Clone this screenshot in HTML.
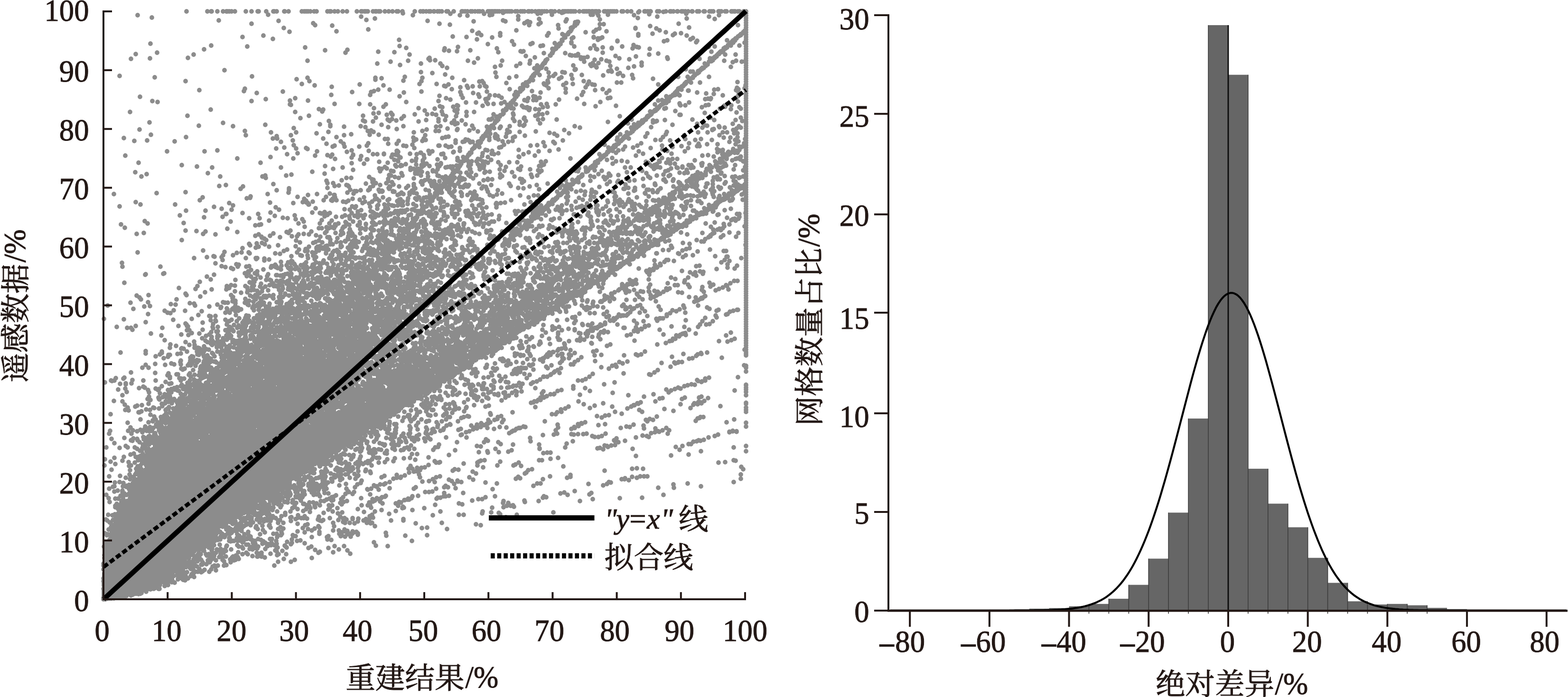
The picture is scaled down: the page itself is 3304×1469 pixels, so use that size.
<!DOCTYPE html>
<html><head><meta charset="utf-8"><title>chart</title>
<style>html,body{margin:0;padding:0;background:#fff}svg{display:block}text{font-family:"Liberation Serif","Noto Serif CJK SC",serif;fill:#231815;stroke:#231815;stroke-width:1px}</style></head>
<body>
<svg width="3304" height="1469" viewBox="0 0 3304 1469">
<rect width="3304" height="1469" fill="#fff"/>
<defs>
<filter id="bl" x="0" y="0" width="1700" height="1300" filterUnits="userSpaceOnUse"><feGaussianBlur stdDeviation="0.7"/></filter>
</defs>
<g filter="url(#bl)"><path d="M1457 368h16v2h-16zM1456 370h18v2h-18zM934 372h26v2h-26zM1455 372h20v2h-20zM933 374h27v2h-27zM1454 374h22v2h-22zM933 376h27v2h-27zM1455 376h20v2h-20zM933 378h26v2h-26zM1456 378h18v2h-18zM933 380h25v2h-25zM1457 380h16v2h-16zM934 382h23v2h-23zM905 384h15v2h-15zM935 384h21v2h-21zM905 386h16v2h-16zM936 386h19v2h-19zM1458 386h14v2h-14zM905 388h26v2h-26zM1190 388h15v2h-15zM1457 388h16v2h-16zM906 390h28v2h-28zM1189 390h17v2h-17zM1457 390h16v2h-16zM1550 390h14v2h-14zM907 392h28v2h-28zM1188 392h18v2h-18zM1457 392h16v2h-16zM1549 392h16v2h-16zM908 394h27v2h-27zM1187 394h19v2h-19zM1458 394h14v2h-14zM1548 394h17v2h-17zM913 396h22v2h-22zM1188 396h18v2h-18zM1549 396h16v2h-16zM914 398h20v2h-20zM1189 398h16v2h-16zM1550 398h14v2h-14zM915 400h19v2h-19zM915 402h18v2h-18zM916 404h17v2h-17zM917 406h15v2h-15zM1408 410h14v2h-14zM1407 412h16v2h-16zM1406 414h17v2h-17zM1394 416h29v2h-29zM1393 418h30v2h-30zM1388 420h34v2h-34zM1387 422h32v2h-32zM1386 424h28v2h-28zM1386 426h27v2h-27zM1386 428h26v2h-26zM1387 430h24v2h-24zM1124 434h21v2h-21zM1373 434h15v2h-15zM1123 436h25v2h-25zM1372 436h17v2h-17zM1122 438h27v2h-27zM1367 438h22v2h-22zM1119 440h30v2h-30zM1361 440h31v2h-31zM1118 442h31v2h-31zM1358 442h35v2h-35zM1118 444h31v2h-31zM1357 444h36v2h-36zM1118 446h30v2h-30zM1357 446h36v2h-36zM1118 448h29v2h-29zM1357 448h35v2h-35zM1118 450h28v2h-28zM1358 450h33v2h-33zM904 452h15v2h-15zM1119 452h25v2h-25zM1340 452h15v2h-15zM1359 452h19v2h-19zM904 454h16v2h-16zM1118 454h21v2h-21zM1339 454h19v2h-19zM1360 454h15v2h-15zM904 456h16v2h-16zM1117 456h21v2h-21zM1338 456h21v2h-21zM905 458h15v2h-15zM1118 458h19v2h-19zM1338 458h21v2h-21zM1119 460h17v2h-17zM1338 460h21v2h-21zM1338 462h21v2h-21zM1339 464h19v2h-19zM1341 466h14v2h-14zM1104 468h15v2h-15zM863 470h15v2h-15zM1104 470h15v2h-15zM862 472h17v2h-17zM1102 472h17v2h-17zM862 474h16v2h-16zM1101 474h19v2h-19zM862 476h15v2h-15zM1101 476h18v2h-18zM1101 478h17v2h-17zM846 480h17v2h-17zM938 480h15v2h-15zM1077 480h19v2h-19zM1102 480h15v2h-15zM1338 480h15v2h-15zM845 482h19v2h-19zM933 482h21v2h-21zM1076 482h23v2h-23zM1337 482h17v2h-17zM1393 482h14v2h-14zM844 484h21v2h-21zM931 484h24v2h-24zM1075 484h25v2h-25zM1196 484h17v2h-17zM1296 484h16v2h-16zM1336 484h18v2h-18zM1392 484h16v2h-16zM843 486h22v2h-22zM930 486h27v2h-27zM1074 486h26v2h-26zM1195 486h22v2h-22zM1294 486h18v2h-18zM1337 486h18v2h-18zM1392 486h21v2h-21zM844 488h21v2h-21zM930 488h28v2h-28zM1075 488h25v2h-25zM1194 488h24v2h-24zM1293 488h19v2h-19zM1337 488h17v2h-17zM1391 488h23v2h-23zM803 490h15v2h-15zM845 490h22v2h-22zM926 490h32v2h-32zM1076 490h23v2h-23zM1194 490h25v2h-25zM1293 490h19v2h-19zM1338 490h15v2h-15zM1392 490h23v2h-23zM798 492h20v2h-20zM845 492h32v2h-32zM913 492h45v2h-45zM1075 492h23v2h-23zM1194 492h25v2h-25zM1293 492h18v2h-18zM1393 492h22v2h-22zM795 494h23v2h-23zM856 494h22v2h-22zM912 494h45v2h-45zM1076 494h21v2h-21zM1195 494h24v2h-24zM1294 494h14v2h-14zM1394 494h21v2h-21zM794 496h24v2h-24zM838 496h15v2h-15zM856 496h23v2h-23zM912 496h28v2h-28zM1077 496h17v2h-17zM1198 496h20v2h-20zM1396 496h18v2h-18zM794 498h23v2h-23zM837 498h17v2h-17zM855 498h27v2h-27zM912 498h26v2h-26zM1397 498h15v2h-15zM793 500h23v2h-23zM834 500h51v2h-51zM913 500h25v2h-25zM794 502h23v2h-23zM833 502h21v2h-21zM855 502h32v2h-32zM915 502h22v2h-22zM1277 502h14v2h-14zM795 504h26v2h-26zM833 504h20v2h-20zM855 504h33v2h-33zM1268 504h24v2h-24zM739 506h15v2h-15zM796 506h26v2h-26zM832 506h18v2h-18zM856 506h32v2h-32zM891 506h15v2h-15zM1062 506h14v2h-14zM1267 506h26v2h-26zM738 508h17v2h-17zM804 508h23v2h-23zM831 508h20v2h-20zM871 508h17v2h-17zM891 508h16v2h-16zM1061 508h16v2h-16zM1266 508h28v2h-28zM1299 508h14v2h-14zM738 510h18v2h-18zM807 510h44v2h-44zM872 510h15v2h-15zM891 510h16v2h-16zM1060 510h17v2h-17zM1265 510h29v2h-29zM1298 510h16v2h-16zM736 512h19v2h-19zM808 512h43v2h-43zM892 512h15v2h-15zM1061 512h16v2h-16zM1266 512h28v2h-28zM1298 512h17v2h-17zM735 514h19v2h-19zM808 514h42v2h-42zM1062 514h14v2h-14zM1267 514h27v2h-27zM1298 514h16v2h-16zM734 516h20v2h-20zM797 516h52v2h-52zM1268 516h25v2h-25zM1299 516h14v2h-14zM734 518h19v2h-19zM796 518h53v2h-53zM1269 518h21v2h-21zM734 520h18v2h-18zM796 520h53v2h-53zM735 522h14v2h-14zM796 522h52v2h-52zM889 522h22v2h-22zM774 524h18v2h-18zM797 524h40v2h-40zM888 524h24v2h-24zM1244 524h15v2h-15zM773 526h63v2h-63zM888 526h24v2h-24zM1243 526h17v2h-17zM772 528h27v2h-27zM801 528h33v2h-33zM887 528h26v2h-26zM1243 528h17v2h-17zM772 530h28v2h-28zM801 530h32v2h-32zM888 530h24v2h-24zM1241 530h20v2h-20zM772 532h60v2h-60zM889 532h22v2h-22zM1238 532h24v2h-24zM772 534h28v2h-28zM801 534h23v2h-23zM890 534h22v2h-22zM1237 534h25v2h-25zM773 536h26v2h-26zM802 536h21v2h-21zM894 536h21v2h-21zM1237 536h25v2h-25zM774 538h24v2h-24zM804 538h20v2h-20zM899 538h17v2h-17zM1208 538h22v2h-22zM1236 538h25v2h-25zM1324 538h15v2h-15zM779 540h16v2h-16zM806 540h20v2h-20zM898 540h18v2h-18zM1205 540h28v2h-28zM1237 540h23v2h-23zM1323 540h17v2h-17zM804 542h23v2h-23zM897 542h19v2h-19zM1204 542h30v2h-30zM1238 542h20v2h-20zM1322 542h19v2h-19zM796 544h31v2h-31zM896 544h19v2h-19zM1204 544h30v2h-30zM1239 544h17v2h-17zM1323 544h17v2h-17zM795 546h32v2h-32zM896 546h18v2h-18zM1204 546h30v2h-30zM1324 546h15v2h-15zM794 548h33v2h-33zM896 548h15v2h-15zM1205 548h28v2h-28zM792 550h34v2h-34zM858 550h14v2h-14zM1206 550h28v2h-28zM1284 550h15v2h-15zM791 552h34v2h-34zM857 552h16v2h-16zM1205 552h39v2h-39zM1284 552h15v2h-15zM790 554h32v2h-32zM857 554h16v2h-16zM1004 554h16v2h-16zM1181 554h15v2h-15zM1204 554h43v2h-43zM1283 554h16v2h-16zM790 556h27v2h-27zM857 556h17v2h-17zM1001 556h20v2h-20zM1180 556h17v2h-17zM1204 556h44v2h-44zM1282 556h16v2h-16zM747 558h15v2h-15zM790 558h28v2h-28zM857 558h16v2h-16zM1000 558h21v2h-21zM1180 558h17v2h-17zM1204 558h44v2h-44zM1281 558h18v2h-18zM747 560h15v2h-15zM791 560h27v2h-27zM856 560h17v2h-17zM1000 560h21v2h-21zM1180 560h68v2h-68zM1281 560h19v2h-19zM637 562h15v2h-15zM747 562h15v2h-15zM794 562h24v2h-24zM855 562h18v2h-18zM1000 562h20v2h-20zM1181 562h66v2h-66zM1282 562h19v2h-19zM637 564h15v2h-15zM689 564h18v2h-18zM799 564h19v2h-19zM856 564h19v2h-19zM879 564h18v2h-18zM1001 564h18v2h-18zM1182 564h27v2h-27zM1211 564h35v2h-35zM1281 564h20v2h-20zM637 566h15v2h-15zM658 566h15v2h-15zM688 566h20v2h-20zM800 566h17v2h-17zM857 566h20v2h-20zM878 566h22v2h-22zM1002 566h16v2h-16zM1184 566h26v2h-26zM1217 566h25v2h-25zM1282 566h19v2h-19zM658 568h15v2h-15zM687 568h21v2h-21zM776 568h22v2h-22zM858 568h43v2h-43zM1185 568h25v2h-25zM1220 568h19v2h-19zM1283 568h17v2h-17zM658 570h15v2h-15zM686 570h22v2h-22zM739 570h21v2h-21zM775 570h23v2h-23zM859 570h42v2h-42zM1185 570h26v2h-26zM1222 570h17v2h-17zM1284 570h14v2h-14zM686 572h21v2h-21zM738 572h33v2h-33zM774 572h24v2h-24zM829 572h16v2h-16zM859 572h42v2h-42zM1186 572h25v2h-25zM1223 572h15v2h-15zM686 574h20v2h-20zM737 574h60v2h-60zM828 574h18v2h-18zM858 574h42v2h-42zM1187 574h24v2h-24zM1264 574h14v2h-14zM687 576h16v2h-16zM736 576h63v2h-63zM827 576h20v2h-20zM857 576h22v2h-22zM880 576h19v2h-19zM1188 576h22v2h-22zM1263 576h18v2h-18zM735 578h67v2h-67zM827 578h20v2h-20zM858 578h34v2h-34zM1086 578h15v2h-15zM1191 578h17v2h-17zM1211 578h14v2h-14zM1262 578h20v2h-20zM735 580h68v2h-68zM804 580h14v2h-14zM827 580h19v2h-19zM857 580h34v2h-34zM1085 580h19v2h-19zM1166 580h17v2h-17zM1210 580h16v2h-16zM1260 580h22v2h-22zM736 582h83v2h-83zM828 582h17v2h-17zM856 582h38v2h-38zM1085 582h20v2h-20zM1163 582h21v2h-21zM1210 582h16v2h-16zM1259 582h23v2h-23zM665 584h18v2h-18zM737 584h82v2h-82zM831 584h14v2h-14zM856 584h39v2h-39zM1085 584h21v2h-21zM1162 584h23v2h-23zM1210 584h16v2h-16zM1258 584h24v2h-24zM664 586h32v2h-32zM738 586h81v2h-81zM855 586h40v2h-40zM1086 586h21v2h-21zM1162 586h22v2h-22zM1211 586h14v2h-14zM1258 586h23v2h-23zM664 588h33v2h-33zM701 588h16v2h-16zM739 588h79v2h-79zM822 588h25v2h-25zM856 588h39v2h-39zM1086 588h20v2h-20zM1162 588h21v2h-21zM1190 588h15v2h-15zM1235 588h19v2h-19zM1258 588h21v2h-21zM664 590h33v2h-33zM700 590h20v2h-20zM741 590h41v2h-41zM785 590h31v2h-31zM821 590h27v2h-27zM856 590h38v2h-38zM1086 590h20v2h-20zM1163 590h19v2h-19zM1189 590h17v2h-17zM1234 590h21v2h-21zM1259 590h18v2h-18zM665 592h56v2h-56zM740 592h42v2h-42zM790 592h24v2h-24zM820 592h28v2h-28zM855 592h18v2h-18zM874 592h19v2h-19zM1085 592h22v2h-22zM1189 592h20v2h-20zM1234 592h22v2h-22zM666 594h55v2h-55zM733 594h49v2h-49zM789 594h25v2h-25zM819 594h30v2h-30zM854 594h20v2h-20zM1084 594h22v2h-22zM1187 594h25v2h-25zM1234 594h22v2h-22zM632 596h14v2h-14zM667 596h54v2h-54zM730 596h54v2h-54zM789 596h29v2h-29zM819 596h29v2h-29zM854 596h23v2h-23zM1047 596h15v2h-15zM1083 596h22v2h-22zM1149 596h17v2h-17zM1185 596h28v2h-28zM1234 596h22v2h-22zM605 598h16v2h-16zM631 598h17v2h-17zM671 598h49v2h-49zM729 598h56v2h-56zM788 598h59v2h-59zM855 598h23v2h-23zM1042 598h21v2h-21zM1082 598h22v2h-22zM1136 598h31v2h-31zM1184 598h29v2h-29zM1235 598h20v2h-20zM604 600h18v2h-18zM630 600h19v2h-19zM674 600h45v2h-45zM729 600h57v2h-57zM789 600h58v2h-58zM848 600h30v2h-30zM1039 600h25v2h-25zM1083 600h19v2h-19zM1134 600h33v2h-33zM1184 600h29v2h-29zM1234 600h19v2h-19zM604 602h18v2h-18zM630 602h20v2h-20zM675 602h36v2h-36zM728 602h19v2h-19zM749 602h86v2h-86zM838 602h40v2h-40zM1038 602h26v2h-26zM1084 602h18v2h-18zM1133 602h34v2h-34zM1184 602h28v2h-28zM1235 602h15v2h-15zM603 604h20v2h-20zM630 604h20v2h-20zM676 604h46v2h-46zM727 604h20v2h-20zM750 604h86v2h-86zM838 604h39v2h-39zM1038 604h26v2h-26zM1085 604h16v2h-16zM1133 604h34v2h-34zM1184 604h27v2h-27zM603 606h19v2h-19zM631 606h19v2h-19zM677 606h46v2h-46zM726 606h93v2h-93zM820 606h56v2h-56zM1037 606h26v2h-26zM1133 606h35v2h-35zM1185 606h25v2h-25zM604 608h18v2h-18zM632 608h17v2h-17zM659 608h25v2h-25zM685 608h39v2h-39zM727 608h74v2h-74zM802 608h16v2h-16zM820 608h55v2h-55zM923 608h15v2h-15zM1037 608h23v2h-23zM1134 608h34v2h-34zM1187 608h18v2h-18zM605 610h16v2h-16zM658 610h47v2h-47zM707 610h18v2h-18zM727 610h73v2h-73zM821 610h51v2h-51zM882 610h15v2h-15zM922 610h17v2h-17zM1038 610h15v2h-15zM1131 610h38v2h-38zM1221 610h16v2h-16zM606 612h14v2h-14zM657 612h47v2h-47zM708 612h18v2h-18zM728 612h71v2h-71zM821 612h38v2h-38zM881 612h17v2h-17zM921 612h18v2h-18zM1099 612h69v2h-69zM1198 612h39v2h-39zM656 614h32v2h-32zM705 614h22v2h-22zM728 614h32v2h-32zM761 614h25v2h-25zM821 614h55v2h-55zM882 614h15v2h-15zM921 614h19v2h-19zM943 614h16v2h-16zM1095 614h72v2h-72zM1195 614h42v2h-42zM655 616h33v2h-33zM704 616h24v2h-24zM729 616h32v2h-32zM762 616h23v2h-23zM822 616h14v2h-14zM837 616h40v2h-40zM921 616h18v2h-18zM942 616h18v2h-18zM1094 616h72v2h-72zM1194 616h42v2h-42zM618 618h15v2h-15zM655 618h32v2h-32zM703 618h26v2h-26zM731 618h53v2h-53zM837 618h15v2h-15zM854 618h23v2h-23zM921 618h17v2h-17zM942 618h18v2h-18zM1093 618h62v2h-62zM1190 618h45v2h-45zM617 620h17v2h-17zM655 620h31v2h-31zM702 620h27v2h-27zM734 620h29v2h-29zM768 620h15v2h-15zM837 620h41v2h-41zM922 620h15v2h-15zM942 620h18v2h-18zM1092 620h63v2h-63zM1181 620h50v2h-50zM617 622h18v2h-18zM655 622h29v2h-29zM703 622h26v2h-26zM733 622h31v2h-31zM838 622h39v2h-39zM943 622h17v2h-17zM1093 622h62v2h-62zM1177 622h53v2h-53zM616 624h20v2h-20zM656 624h25v2h-25zM704 624h63v2h-63zM841 624h36v2h-36zM910 624h20v2h-20zM944 624h15v2h-15zM1093 624h61v2h-61zM1174 624h53v2h-53zM617 626h22v2h-22zM659 626h19v2h-19zM704 626h68v2h-68zM841 626h37v2h-37zM907 626h26v2h-26zM1016 626h15v2h-15zM1094 626h57v2h-57zM1173 626h44v2h-44zM618 628h22v2h-22zM662 628h15v2h-15zM704 628h71v2h-71zM840 628h38v2h-38zM906 628h28v2h-28zM1015 628h17v2h-17zM1097 628h46v2h-46zM1172 628h39v2h-39zM619 630h21v2h-21zM695 630h81v2h-81zM839 630h40v2h-40zM906 630h28v2h-28zM1014 630h18v2h-18zM1044 630h15v2h-15zM1100 630h43v2h-43zM1171 630h37v2h-37zM622 632h18v2h-18zM692 632h55v2h-55zM748 632h38v2h-38zM836 632h42v2h-42zM906 632h28v2h-28zM1015 632h17v2h-17zM1041 632h19v2h-19zM1097 632h46v2h-46zM1170 632h32v2h-32zM622 634h17v2h-17zM691 634h57v2h-57zM749 634h38v2h-38zM835 634h42v2h-42zM907 634h26v2h-26zM1015 634h16v2h-16zM1040 634h21v2h-21zM1094 634h29v2h-29zM1126 634h16v2h-16zM1169 634h31v2h-31zM623 636h15v2h-15zM691 636h29v2h-29zM723 636h65v2h-65zM795 636h15v2h-15zM835 636h41v2h-41zM907 636h26v2h-26zM1014 636h17v2h-17zM1040 636h21v2h-21zM1081 636h43v2h-43zM1168 636h31v2h-31zM691 638h30v2h-30zM723 638h66v2h-66zM795 638h15v2h-15zM835 638h25v2h-25zM908 638h24v2h-24zM999 638h14v2h-14zM1014 638h18v2h-18zM1040 638h21v2h-21zM1080 638h47v2h-47zM1167 638h30v2h-30zM629 640h20v2h-20zM657 640h15v2h-15zM691 640h98v2h-98zM795 640h15v2h-15zM910 640h19v2h-19zM998 640h16v2h-16zM1015 640h18v2h-18zM1041 640h19v2h-19zM1080 640h59v2h-59zM1167 640h25v2h-25zM628 642h22v2h-22zM656 642h17v2h-17zM674 642h16v2h-16zM691 642h98v2h-98zM911 642h18v2h-18zM998 642h16v2h-16zM1016 642h17v2h-17zM1042 642h17v2h-17zM1080 642h73v2h-73zM1168 642h22v2h-22zM627 644h24v2h-24zM656 644h133v2h-133zM913 644h15v2h-15zM998 644h16v2h-16zM1016 644h17v2h-17zM1043 644h17v2h-17zM1079 644h75v2h-75zM1169 644h18v2h-18zM491 646h14v2h-14zM579 646h30v2h-30zM625 646h27v2h-27zM656 646h95v2h-95zM752 646h44v2h-44zM873 646h15v2h-15zM999 646h14v2h-14zM1017 646h15v2h-15zM1036 646h25v2h-25zM1071 646h36v2h-36zM1108 646h60v2h-60zM490 648h16v2h-16zM556 648h15v2h-15zM572 648h38v2h-38zM612 648h39v2h-39zM656 648h16v2h-16zM673 648h126v2h-126zM802 648h23v2h-23zM830 648h14v2h-14zM869 648h20v2h-20zM1033 648h29v2h-29zM1068 648h39v2h-39zM1109 648h60v2h-60zM490 650h17v2h-17zM555 650h55v2h-55zM611 650h40v2h-40zM657 650h15v2h-15zM673 650h67v2h-67zM743 650h83v2h-83zM827 650h18v2h-18zM866 650h22v2h-22zM1032 650h31v2h-31zM1066 650h41v2h-41zM1110 650h59v2h-59zM490 652h17v2h-17zM552 652h98v2h-98zM654 652h19v2h-19zM674 652h66v2h-66zM744 652h32v2h-32zM777 652h75v2h-75zM865 652h23v2h-23zM1031 652h31v2h-31zM1064 652h26v2h-26zM1091 652h15v2h-15zM1115 652h55v2h-55zM491 654h16v2h-16zM551 654h85v2h-85zM651 654h23v2h-23zM675 654h65v2h-65zM743 654h112v2h-112zM865 654h22v2h-22zM972 654h15v2h-15zM1031 654h62v2h-62zM1120 654h17v2h-17zM1139 654h30v2h-30zM492 656h14v2h-14zM550 656h86v2h-86zM650 656h25v2h-25zM678 656h23v2h-23zM702 656h37v2h-37zM740 656h116v2h-116zM865 656h20v2h-20zM892 656h15v2h-15zM971 656h19v2h-19zM1030 656h16v2h-16zM1048 656h46v2h-46zM1110 656h58v2h-58zM547 658h90v2h-90zM649 658h25v2h-25zM681 658h175v2h-175zM866 658h16v2h-16zM892 658h15v2h-15zM971 658h21v2h-21zM1029 658h16v2h-16zM1047 658h47v2h-47zM1107 658h60v2h-60zM543 660h94v2h-94zM648 660h26v2h-26zM681 660h53v2h-53zM736 660h57v2h-57zM794 660h67v2h-67zM892 660h15v2h-15zM970 660h24v2h-24zM1029 660h16v2h-16zM1047 660h47v2h-47zM1105 660h61v2h-61zM540 662h45v2h-45zM590 662h48v2h-48zM649 662h24v2h-24zM680 662h54v2h-54zM736 662h52v2h-52zM795 662h71v2h-71zM969 662h27v2h-27zM1029 662h16v2h-16zM1047 662h46v2h-46zM1104 662h55v2h-55zM539 664h46v2h-46zM617 664h20v2h-20zM650 664h26v2h-26zM679 664h54v2h-54zM734 664h56v2h-56zM791 664h76v2h-76zM968 664h29v2h-29zM1030 664h14v2h-14zM1047 664h45v2h-45zM1103 664h50v2h-50zM538 666h46v2h-46zM589 666h22v2h-22zM617 666h19v2h-19zM651 666h27v2h-27zM679 666h189v2h-189zM969 666h28v2h-28zM1048 666h25v2h-25zM1103 666h49v2h-49zM537 668h48v2h-48zM587 668h25v2h-25zM618 668h17v2h-17zM652 668h62v2h-62zM718 668h150v2h-150zM969 668h28v2h-28zM1049 668h25v2h-25zM1103 668h48v2h-48zM513 670h14v2h-14zM538 670h21v2h-21zM562 670h50v2h-50zM653 670h63v2h-63zM718 670h91v2h-91zM810 670h58v2h-58zM970 670h26v2h-26zM1008 670h16v2h-16zM1045 670h30v2h-30zM1104 670h46v2h-46zM512 672h16v2h-16zM538 672h20v2h-20zM576 672h36v2h-36zM652 672h155v2h-155zM809 672h23v2h-23zM833 672h16v2h-16zM850 672h17v2h-17zM972 672h23v2h-23zM1007 672h18v2h-18zM1030 672h44v2h-44zM1081 672h20v2h-20zM1105 672h44v2h-44zM510 674h18v2h-18zM539 674h18v2h-18zM577 674h34v2h-34zM619 674h28v2h-28zM653 674h34v2h-34zM688 674h144v2h-144zM975 674h15v2h-15zM1007 674h19v2h-19zM1029 674h73v2h-73zM1121 674h21v2h-21zM509 676h20v2h-20zM540 676h18v2h-18zM577 676h34v2h-34zM617 676h33v2h-33zM653 676h34v2h-34zM691 676h142v2h-142zM865 676h18v2h-18zM911 676h15v2h-15zM975 676h15v2h-15zM1007 676h19v2h-19zM1029 676h73v2h-73zM1121 676h18v2h-18zM508 678h20v2h-20zM540 678h17v2h-17zM577 678h74v2h-74zM654 678h34v2h-34zM689 678h53v2h-53zM743 678h25v2h-25zM777 678h57v2h-57zM864 678h20v2h-20zM910 678h16v2h-16zM1007 678h19v2h-19zM1029 678h74v2h-74zM1121 678h16v2h-16zM508 680h19v2h-19zM540 680h17v2h-17zM578 680h74v2h-74zM657 680h115v2h-115zM780 680h53v2h-53zM860 680h25v2h-25zM910 680h16v2h-16zM1006 680h20v2h-20zM1030 680h74v2h-74zM1122 680h14v2h-14zM508 682h18v2h-18zM541 682h15v2h-15zM596 682h178v2h-178zM783 682h49v2h-49zM858 682h27v2h-27zM910 682h15v2h-15zM1006 682h19v2h-19zM1030 682h74v2h-74zM506 684h17v2h-17zM597 684h178v2h-178zM784 684h47v2h-47zM857 684h28v2h-28zM973 684h21v2h-21zM1005 684h17v2h-17zM1029 684h78v2h-78zM505 686h18v2h-18zM588 686h187v2h-187zM784 686h43v2h-43zM857 686h27v2h-27zM971 686h26v2h-26zM1006 686h16v2h-16zM1029 686h22v2h-22zM1052 686h56v2h-56zM504 688h18v2h-18zM581 688h107v2h-107zM689 688h51v2h-51zM742 688h34v2h-34zM783 688h46v2h-46zM857 688h24v2h-24zM967 688h31v2h-31zM1006 688h15v2h-15zM1030 688h24v2h-24zM1058 688h25v2h-25zM1085 688h24v2h-24zM504 690h17v2h-17zM552 690h25v2h-25zM579 690h56v2h-56zM636 690h104v2h-104zM742 690h34v2h-34zM782 690h19v2h-19zM802 690h28v2h-28zM832 690h15v2h-15zM858 690h16v2h-16zM961 690h37v2h-37zM1029 690h80v2h-80zM504 692h16v2h-16zM552 692h82v2h-82zM635 692h141v2h-141zM781 692h76v2h-76zM958 692h40v2h-40zM1030 692h79v2h-79zM505 694h17v2h-17zM550 694h225v2h-225zM781 694h79v2h-79zM957 694h41v2h-41zM1031 694h77v2h-77zM504 696h19v2h-19zM543 696h230v2h-230zM781 696h80v2h-80zM956 696h48v2h-48zM1032 696h74v2h-74zM505 698h18v2h-18zM542 698h64v2h-64zM608 698h165v2h-165zM781 698h50v2h-50zM832 698h30v2h-30zM907 698h15v2h-15zM952 698h55v2h-55zM1013 698h17v2h-17zM1033 698h68v2h-68zM505 700h18v2h-18zM541 700h37v2h-37zM580 700h26v2h-26zM608 700h255v2h-255zM906 700h17v2h-17zM949 700h59v2h-59zM1009 700h21v2h-21zM1033 700h36v2h-36zM1071 700h27v2h-27zM506 702h16v2h-16zM540 702h35v2h-35zM585 702h277v2h-277zM906 702h26v2h-26zM948 702h121v2h-121zM1070 702h24v2h-24zM541 704h31v2h-31zM585 704h30v2h-30zM616 704h179v2h-179zM799 704h22v2h-22zM825 704h38v2h-38zM906 704h29v2h-29zM948 704h121v2h-121zM1070 704h22v2h-22zM475 706h15v2h-15zM540 706h34v2h-34zM586 706h209v2h-209zM800 706h23v2h-23zM824 706h40v2h-40zM907 706h29v2h-29zM947 706h23v2h-23zM972 706h117v2h-117zM475 708h15v2h-15zM540 708h37v2h-37zM587 708h34v2h-34zM622 708h77v2h-77zM700 708h28v2h-28zM729 708h68v2h-68zM802 708h22v2h-22zM825 708h38v2h-38zM909 708h27v2h-27zM948 708h22v2h-22zM975 708h71v2h-71zM1050 708h40v2h-40zM475 710h15v2h-15zM537 710h41v2h-41zM590 710h31v2h-31zM624 710h75v2h-75zM705 710h93v2h-93zM806 710h18v2h-18zM826 710h16v2h-16zM843 710h19v2h-19zM905 710h32v2h-32zM949 710h20v2h-20zM981 710h68v2h-68zM1053 710h36v2h-36zM534 712h45v2h-45zM593 712h76v2h-76zM670 712h29v2h-29zM701 712h99v2h-99zM805 712h19v2h-19zM844 712h17v2h-17zM900 712h38v2h-38zM950 712h18v2h-18zM981 712h71v2h-71zM1054 712h34v2h-34zM502 714h21v2h-21zM533 714h54v2h-54zM593 714h76v2h-76zM671 714h82v2h-82zM755 714h46v2h-46zM804 714h20v2h-20zM899 714h39v2h-39zM949 714h19v2h-19zM980 714h107v2h-107zM497 716h27v2h-27zM533 716h59v2h-59zM593 716h208v2h-208zM803 716h20v2h-20zM896 716h43v2h-43zM950 716h20v2h-20zM979 716h104v2h-104zM458 718h16v2h-16zM496 718h28v2h-28zM533 718h287v2h-287zM893 718h47v2h-47zM951 718h22v2h-22zM978 718h101v2h-101zM457 720h18v2h-18zM495 720h30v2h-30zM533 720h286v2h-286zM892 720h47v2h-47zM952 720h26v2h-26zM979 720h99v2h-99zM456 722h19v2h-19zM495 722h30v2h-30zM534 722h300v2h-300zM892 722h47v2h-47zM956 722h47v2h-47zM1005 722h70v2h-70zM456 724h19v2h-19zM495 724h31v2h-31zM535 724h301v2h-301zM892 724h46v2h-46zM955 724h47v2h-47zM1004 724h64v2h-64zM455 726h20v2h-20zM496 726h142v2h-142zM639 726h199v2h-199zM892 726h31v2h-31zM942 726h42v2h-42zM985 726h78v2h-78zM456 728h18v2h-18zM499 728h139v2h-139zM640 728h199v2h-199zM893 728h28v2h-28zM923 728h62v2h-62zM986 728h73v2h-73zM457 730h14v2h-14zM500 730h208v2h-208zM709 730h77v2h-77zM788 730h19v2h-19zM811 730h30v2h-30zM895 730h15v2h-15zM922 730h108v2h-108zM1032 730h27v2h-27zM497 732h54v2h-54zM557 732h150v2h-150zM709 732h78v2h-78zM788 732h54v2h-54zM921 732h66v2h-66zM988 732h70v2h-70zM413 734h15v2h-15zM496 734h53v2h-53zM552 734h156v2h-156zM710 734h78v2h-78zM789 734h53v2h-53zM920 734h68v2h-68zM991 734h66v2h-66zM412 736h17v2h-17zM496 736h184v2h-184zM681 736h27v2h-27zM712 736h76v2h-76zM789 736h53v2h-53zM921 736h66v2h-66zM991 736h63v2h-63zM412 738h18v2h-18zM496 738h214v2h-214zM714 738h74v2h-74zM790 738h52v2h-52zM860 738h16v2h-16zM921 738h66v2h-66zM989 738h62v2h-62zM411 740h19v2h-19zM472 740h18v2h-18zM495 740h292v2h-292zM792 740h31v2h-31zM826 740h15v2h-15zM850 740h27v2h-27zM922 740h64v2h-64zM988 740h61v2h-61zM412 742h18v2h-18zM471 742h276v2h-276zM748 742h38v2h-38zM796 742h26v2h-26zM845 742h32v2h-32zM924 742h60v2h-60zM987 742h59v2h-59zM413 744h16v2h-16zM472 744h42v2h-42zM516 744h172v2h-172zM689 744h94v2h-94zM797 744h37v2h-37zM842 744h41v2h-41zM923 744h61v2h-61zM987 744h56v2h-56zM471 746h41v2h-41zM532 746h250v2h-250zM795 746h18v2h-18zM818 746h16v2h-16zM841 746h45v2h-45zM924 746h106v2h-106zM470 748h42v2h-42zM531 748h105v2h-105zM640 748h141v2h-141zM790 748h24v2h-24zM817 748h18v2h-18zM840 748h49v2h-49zM924 748h101v2h-101zM429 750h14v2h-14zM471 750h41v2h-41zM515 750h15v2h-15zM531 750h249v2h-249zM789 750h24v2h-24zM816 750h20v2h-20zM840 750h54v2h-54zM904 750h19v2h-19zM925 750h100v2h-100zM428 752h18v2h-18zM472 752h39v2h-39zM514 752h217v2h-217zM733 752h33v2h-33zM788 752h25v2h-25zM815 752h20v2h-20zM840 752h57v2h-57zM902 752h122v2h-122zM427 754h21v2h-21zM473 754h37v2h-37zM514 754h173v2h-173zM688 754h43v2h-43zM732 754h35v2h-35zM788 754h24v2h-24zM816 754h18v2h-18zM839 754h59v2h-59zM901 754h120v2h-120zM428 756h21v2h-21zM478 756h31v2h-31zM512 756h256v2h-256zM788 756h23v2h-23zM815 756h20v2h-20zM839 756h59v2h-59zM901 756h86v2h-86zM988 756h24v2h-24zM427 758h22v2h-22zM465 758h45v2h-45zM511 758h25v2h-25zM539 758h230v2h-230zM789 758h20v2h-20zM814 758h21v2h-21zM839 758h60v2h-60zM901 758h85v2h-85zM988 758h20v2h-20zM426 760h23v2h-23zM464 760h45v2h-45zM510 760h28v2h-28zM543 760h236v2h-236zM815 760h19v2h-19zM839 760h59v2h-59zM902 760h105v2h-105zM426 762h23v2h-23zM463 762h45v2h-45zM510 762h31v2h-31zM543 762h243v2h-243zM815 762h18v2h-18zM840 762h58v2h-58zM901 762h103v2h-103zM425 764h23v2h-23zM460 764h328v2h-328zM804 764h28v2h-28zM842 764h26v2h-26zM869 764h129v2h-129zM425 766h20v2h-20zM459 766h330v2h-330zM803 766h15v2h-15zM853 766h15v2h-15zM870 766h87v2h-87zM958 766h40v2h-40zM423 768h20v2h-20zM459 768h330v2h-330zM802 768h16v2h-16zM836 768h33v2h-33zM871 768h86v2h-86zM961 768h36v2h-36zM420 770h25v2h-25zM459 770h96v2h-96zM556 770h238v2h-238zM801 770h22v2h-22zM835 770h123v2h-123zM964 770h33v2h-33zM419 772h27v2h-27zM460 772h38v2h-38zM500 772h297v2h-297zM800 772h24v2h-24zM835 772h127v2h-127zM966 772h30v2h-30zM419 774h27v2h-27zM460 774h307v2h-307zM769 774h29v2h-29zM801 774h24v2h-24zM835 774h46v2h-46zM883 774h23v2h-23zM908 774h87v2h-87zM418 776h44v2h-44zM465 776h303v2h-303zM771 776h27v2h-27zM801 776h24v2h-24zM835 776h157v2h-157zM1082 776h18v2h-18zM418 778h45v2h-45zM464 778h362v2h-362zM828 778h155v2h-155zM1081 778h20v2h-20zM419 780h561v2h-561zM1080 780h21v2h-21zM418 782h554v2h-554zM1079 782h22v2h-22zM417 784h19v2h-19zM440 784h531v2h-531zM1080 784h20v2h-20zM417 786h19v2h-19zM439 786h531v2h-531zM1081 786h17v2h-17zM416 788h21v2h-21zM439 788h37v2h-37zM479 788h437v2h-437zM917 788h49v2h-49zM417 790h57v2h-57zM479 790h257v2h-257zM738 790h225v2h-225zM417 792h57v2h-57zM476 792h260v2h-260zM738 792h22v2h-22zM761 792h23v2h-23zM792 792h169v2h-169zM418 794h332v2h-332zM764 794h20v2h-20zM792 794h167v2h-167zM419 796h333v2h-333zM767 796h16v2h-16zM791 796h166v2h-166zM436 798h119v2h-119zM557 798h197v2h-197zM772 798h182v2h-182zM436 800h118v2h-118zM557 800h198v2h-198zM773 800h178v2h-178zM407 802h17v2h-17zM437 802h318v2h-318zM772 802h176v2h-176zM406 804h19v2h-19zM434 804h321v2h-321zM769 804h172v2h-172zM392 806h34v2h-34zM446 806h309v2h-309zM766 806h172v2h-172zM391 808h38v2h-38zM430 808h284v2h-284zM716 808h38v2h-38zM765 808h167v2h-167zM390 810h362v2h-362zM765 810h43v2h-43zM813 810h119v2h-119zM386 812h196v2h-196zM583 812h164v2h-164zM765 812h44v2h-44zM815 812h116v2h-116zM385 814h144v2h-144zM530 814h217v2h-217zM765 814h46v2h-46zM816 814h18v2h-18zM835 814h95v2h-95zM384 816h21v2h-21zM406 816h342v2h-342zM766 816h46v2h-46zM815 816h114v2h-114zM384 818h89v2h-89zM475 818h337v2h-337zM815 818h110v2h-110zM384 820h89v2h-89zM475 820h449v2h-449zM385 822h525v2h-525zM388 824h96v2h-96zM485 824h425v2h-425zM389 826h36v2h-36zM426 826h291v2h-291zM718 826h191v2h-191zM391 828h33v2h-33zM425 828h29v2h-29zM459 828h29v2h-29zM489 828h418v2h-418zM396 830h57v2h-57zM458 830h240v2h-240zM699 830h193v2h-193zM396 832h56v2h-56zM458 832h433v2h-433zM397 834h47v2h-47zM457 834h434v2h-434zM398 836h53v2h-53zM458 836h433v2h-433zM375 838h21v2h-21zM401 838h53v2h-53zM458 838h432v2h-432zM374 840h23v2h-23zM404 840h51v2h-51zM457 840h432v2h-432zM353 842h15v2h-15zM372 842h26v2h-26zM400 842h55v2h-55zM456 842h258v2h-258zM715 842h169v2h-169zM353 844h15v2h-15zM371 844h44v2h-44zM419 844h15v2h-15zM435 844h442v2h-442zM353 846h15v2h-15zM370 846h304v2h-304zM675 846h94v2h-94zM771 846h104v2h-104zM369 848h503v2h-503zM370 850h26v2h-26zM398 850h329v2h-329zM731 850h138v2h-138zM370 852h356v2h-356zM731 852h137v2h-137zM370 854h355v2h-355zM729 854h138v2h-138zM369 856h23v2h-23zM393 856h40v2h-40zM434 856h430v2h-430zM365 858h298v2h-298zM665 858h187v2h-187zM364 860h486v2h-486zM363 862h346v2h-346zM717 862h132v2h-132zM363 864h345v2h-345zM716 864h130v2h-130zM363 866h320v2h-320zM684 866h24v2h-24zM711 866h134v2h-134zM360 868h483v2h-483zM359 870h480v2h-480zM358 872h478v2h-478zM358 874h55v2h-55zM414 874h421v2h-421zM339 876h18v2h-18zM358 876h474v2h-474zM338 878h489v2h-489zM337 880h70v2h-70zM408 880h416v2h-416zM336 882h483v2h-483zM336 884h483v2h-483zM337 886h481v2h-481zM329 888h487v2h-487zM328 890h486v2h-486zM327 892h25v2h-25zM355 892h296v2h-296zM653 892h160v2h-160zM326 894h18v2h-18zM354 894h299v2h-299zM655 894h159v2h-159zM326 896h19v2h-19zM354 896h460v2h-460zM326 898h20v2h-20zM347 898h467v2h-467zM309 900h15v2h-15zM327 900h486v2h-486zM308 902h17v2h-17zM330 902h210v2h-210zM541 902h75v2h-75zM620 902h173v2h-173zM794 902h18v2h-18zM308 904h17v2h-17zM332 904h446v2h-446zM308 906h17v2h-17zM332 906h445v2h-445zM309 908h15v2h-15zM332 908h445v2h-445zM333 910h443v2h-443zM334 912h439v2h-439zM335 914h105v2h-105zM441 914h331v2h-331zM336 916h433v2h-433zM335 918h428v2h-428zM306 920h18v2h-18zM328 920h435v2h-435zM303 922h22v2h-22zM327 922h436v2h-436zM302 924h23v2h-23zM326 924h436v2h-436zM302 926h117v2h-117zM421 926h339v2h-339zM301 928h454v2h-454zM302 930h452v2h-452zM301 932h452v2h-452zM302 934h439v2h-439zM303 936h438v2h-438zM304 938h14v2h-14zM322 938h418v2h-418zM322 940h415v2h-415zM322 942h407v2h-407zM319 944h407v2h-407zM307 946h414v2h-414zM306 948h413v2h-413zM306 950h412v2h-412zM305 952h410v2h-410zM306 954h406v2h-406zM296 956h407v2h-407zM293 958h409v2h-409zM290 960h411v2h-411zM289 962h410v2h-410zM707 962h15v2h-15zM288 964h407v2h-407zM707 964h16v2h-16zM288 966h405v2h-405zM707 966h16v2h-16zM288 968h406v2h-406zM707 968h16v2h-16zM289 970h406v2h-406zM708 970h14v2h-14zM292 972h404v2h-404zM295 974h401v2h-401zM296 976h400v2h-400zM298 978h397v2h-397zM303 980h364v2h-364zM668 980h24v2h-24zM304 982h358v2h-358zM285 984h15v2h-15zM305 984h357v2h-357zM284 986h18v2h-18zM303 986h358v2h-358zM284 988h376v2h-376zM730 988h15v2h-15zM284 990h373v2h-373zM730 990h15v2h-15zM284 992h366v2h-366zM730 992h15v2h-15zM284 994h365v2h-365zM284 996h364v2h-364zM284 998h359v2h-359zM285 1000h354v2h-354zM674 1000h15v2h-15zM287 1002h351v2h-351zM673 1002h17v2h-17zM289 1004h346v2h-346zM673 1004h17v2h-17zM282 1006h353v2h-353zM674 1006h16v2h-16zM279 1008h355v2h-355zM675 1008h14v2h-14zM278 1010h355v2h-355zM278 1012h338v2h-338zM278 1014h337v2h-337zM276 1016h339v2h-339zM649 1016h19v2h-19zM273 1018h342v2h-342zM648 1018h24v2h-24zM675 1018h16v2h-16zM269 1020h346v2h-346zM647 1020h45v2h-45zM268 1022h348v2h-348zM646 1022h45v2h-45zM267 1024h350v2h-350zM647 1024h43v2h-43zM266 1026h351v2h-351zM648 1026h41v2h-41zM267 1028h350v2h-350zM649 1028h39v2h-39zM268 1030h348v2h-348zM649 1030h28v2h-28zM269 1032h331v2h-331zM649 1032h27v2h-27zM270 1034h328v2h-328zM650 1034h25v2h-25zM269 1036h321v2h-321zM599 1036h16v2h-16zM269 1038h323v2h-323zM598 1038h18v2h-18zM269 1040h326v2h-326zM598 1040h19v2h-19zM270 1042h326v2h-326zM597 1042h19v2h-19zM271 1044h326v2h-326zM598 1044h18v2h-18zM272 1046h326v2h-326zM599 1046h16v2h-16zM271 1048h326v2h-326zM270 1050h327v2h-327zM266 1052h330v2h-330zM253 1054h306v2h-306zM565 1054h29v2h-29zM252 1056h309v2h-309zM566 1056h28v2h-28zM251 1058h311v2h-311zM569 1058h24v2h-24zM245 1060h298v2h-298zM548 1060h15v2h-15zM572 1060h20v2h-20zM242 1062h303v2h-303zM548 1062h20v2h-20zM574 1062h16v2h-16zM241 1064h305v2h-305zM548 1064h21v2h-21zM241 1066h305v2h-305zM549 1066h21v2h-21zM241 1068h305v2h-305zM547 1068h23v2h-23zM242 1070h303v2h-303zM546 1070h24v2h-24zM243 1072h301v2h-301zM546 1072h23v2h-23zM245 1074h295v2h-295zM545 1074h23v2h-23zM247 1076h293v2h-293zM546 1076h23v2h-23zM247 1078h293v2h-293zM545 1078h24v2h-24zM243 1080h326v2h-326zM240 1082h328v2h-328zM239 1084h277v2h-277zM538 1084h19v2h-19zM239 1086h273v2h-273zM538 1086h15v2h-15zM238 1088h272v2h-272zM538 1088h15v2h-15zM239 1090h270v2h-270zM238 1092h266v2h-266zM238 1094h257v2h-257zM237 1096h259v2h-259zM238 1098h257v2h-257zM239 1100h255v2h-255zM236 1102h257v2h-257zM498 1102h14v2h-14zM233 1104h248v2h-248zM496 1104h17v2h-17zM232 1106h248v2h-248zM495 1106h19v2h-19zM231 1108h249v2h-249zM495 1108h20v2h-20zM230 1110h249v2h-249zM494 1110h21v2h-21zM229 1112h236v2h-236zM493 1112h22v2h-22zM229 1114h234v2h-234zM476 1114h38v2h-38zM229 1116h235v2h-235zM476 1116h37v2h-37zM230 1118h235v2h-235zM476 1118h35v2h-35zM231 1120h233v2h-233zM477 1120h17v2h-17zM230 1122h233v2h-233zM477 1122h16v2h-16zM230 1124h232v2h-232zM478 1124h14v2h-14zM229 1126h231v2h-231zM230 1128h229v2h-229zM230 1130h229v2h-229zM497 1130h20v2h-20zM231 1132h229v2h-229zM496 1132h22v2h-22zM229 1134h232v2h-232zM495 1134h24v2h-24zM228 1136h232v2h-232zM495 1136h25v2h-25zM227 1138h233v2h-233zM495 1138h24v2h-24zM224 1140h235v2h-235zM496 1140h22v2h-22zM220 1142h236v2h-236zM499 1142h18v2h-18zM219 1144h235v2h-235zM218 1146h233v2h-233zM217 1148h229v2h-229zM217 1150h228v2h-228zM217 1152h227v2h-227zM217 1154h218v2h-218zM218 1156h216v2h-216zM219 1158h214v2h-214zM218 1160h212v2h-212zM218 1162h196v2h-196zM217 1164h196v2h-196zM441 1164h14v2h-14zM218 1166h193v2h-193zM439 1166h17v2h-17zM217 1168h205v2h-205zM438 1168h18v2h-18zM216 1170h207v2h-207zM438 1170h18v2h-18zM217 1172h207v2h-207zM438 1172h17v2h-17zM486 1172h17v2h-17zM216 1174h187v2h-187zM407 1174h18v2h-18zM438 1174h17v2h-17zM485 1174h19v2h-19zM217 1176h185v2h-185zM407 1176h19v2h-19zM439 1176h15v2h-15zM485 1176h19v2h-19zM217 1178h182v2h-182zM408 1178h17v2h-17zM485 1178h19v2h-19zM218 1180h176v2h-176zM397 1180h27v2h-27zM486 1180h17v2h-17zM219 1182h174v2h-174zM394 1182h17v2h-17zM217 1184h196v2h-196zM216 1186h198v2h-198zM215 1188h200v2h-200zM214 1190h201v2h-201zM215 1192h200v2h-200zM215 1194h199v2h-199zM216 1196h195v2h-195zM215 1198h180v2h-180zM396 1198h14v2h-14zM215 1200h175v2h-175zM215 1202h175v2h-175zM216 1204h177v2h-177zM215 1206h179v2h-179zM215 1208h153v2h-153zM369 1208h26v2h-26zM215 1210h180v2h-180zM215 1212h181v2h-181zM215 1214h154v2h-154zM370 1214h26v2h-26zM215 1216h153v2h-153zM372 1216h25v2h-25zM214 1218h153v2h-153zM373 1218h24v2h-24zM214 1220h153v2h-153zM374 1220h23v2h-23zM215 1222h152v2h-152zM381 1222h15v2h-15zM214 1224h153v2h-153zM214 1226h152v2h-152zM214 1228h149v2h-149zM214 1230h128v2h-128zM343 1230h15v2h-15zM214 1232h127v2h-127zM214 1234h124v2h-124zM215 1236h118v2h-118zM215 1238h117v2h-117zM214 1240h117v2h-117zM214 1242h115v2h-115zM214 1244h107v2h-107zM214 1246h97v2h-97zM214 1248h89v2h-89zM214 1250h88v2h-88zM214 1252h87v2h-87zM214 1254h84v2h-84zM214 1256h57v2h-57zM214 1258h56v2h-56zM215 1260h51v2h-51zM216 1262h31v2h-31zM217 1264h20v2h-20z" fill="#8c8c8c" shape-rendering="crispEdges"/>
<path d="M1572 24h0m0 4h0m0 5h0m0 5h0m-5-14h0m-9 0h0m-3 0h0m-6 0h0m-2 0h0m-4 0h0m-2 0h0m-10 0h0m-3 0h0m-8 0h0m-4 0h0m-1 8h0m-1-8h0m-11 0h0m-4 0h0m-4 0h0m-1 11h0m-9-11h0m-2 0h0m-10 0h0m-4 0h0m-10 0h0m-1 0h0m-8 0h0m-3 15h0m-1-10h0m-2-5h0m-5 0h0m-3 0h0m-8 0h0m-1 0h0m-8 0h0m-5 0h0m-2 0h0m-9 0h0m-5 1h0m-9-1h0m-4 0h0m0 11h0m-14-11h0m-1 0h0m-2 6h0m-3-6h0m-5 0h0m-2 0h0m-11 0h0m-2 2h0m-1 12h0m-8-6h0m-6-8h0m-8 0h0m-9 0h0m-3 0h0m-11 0h0m-5 0h0m-4 0h0m-4 0h0m-5 0h0m0 7h0m-5-7h0m-3 0h0m-11 0h0m-1 9h0m-2-4h0m-2-5h0m-3 0h0m-5 0h0m0 7h0m-2-7h0m-2 7h0m-3-7h0m-2 0h0m-4 0h0m-4 0h0m-3 0h0m-8 0h0m-9 0h0m-4 0h0m-4 0h0m-2 0h0m-4 0h0m-2 0h0m-4 0h0m-3 0h0m-2 2h0m-1-2h0m-2 3h0m-6-3h0m-9 0h0m-6 0h0m0 7h0m-3-7h0m-8 0h0m-5 0h0m-5 0h0m-2 4h0m-3-4h0m-3 0h0m-1 5h0m-5-5h0m-7 0h0m-1 0h0m-5 0h0m-2 0h0m-8 0h0m-4 0h0m-4 0h0m-5 10h0m-2-10h0m-4 0h0m-8 0h0m-4 0h0m-4 0h0m-4 0h0m-5 0h0m-1 3h0m-2-3h0m-6 0h0m-4 0h0m-4 0h0m-2 0h0m-4 0h0m-1 7h0m-2-7h0m-3 8h0m-1-8h0m-3 0h0m-8 5h0m-3-5h0m-6 0h0m-4 0h0m-6 0h0m-6 0h0m-3 0h0m-7 0h0m0 9h0m-5-9h0m-5 0h0m-2 0h0m-4 8h0m-13-8h0m-7 5h0m-5-5h0m-3 0h0m-10 0h0m-5 0h0m-4 0h0m-7 0h0m-1 0h0m-7 0h0m-3 0h0m-6 0h0m-6 0h0m-1 0h0m-5 0h0m-12 0h0m-4 8h0m-21-4h0m-1-4h0m-9 0h0m-3 0h0m-9 0h0m-8 0h0m-8 0h0m-10 0h0m-3 0h0m-5 0h0m-2 0h0m-1 15h0m-4-15h0m-11 0h0m-4 0h0m-3 0h0m-5 0h0m-2 0h0m0 11h0m-9-11h0m-21 0h0m-9 0h0m-10 0h0m-7 0h0m-8 0h0m-2 0h0m-5 0h0m-23 0h0m-5 0h0m-8 0h0m-5 0h0m-4 0h0m-4 0h0m-5 0h0m-28 0h0m-8 0h0m-1 0h0m-16 0h0m-5 0h0m-2 0h0m-11 7h0m-4-7h0m-16 0h0m-2 0h0m-13 0h0m-12 0h0m-23 0h0m-7 0h0m-5 0h0m-4 0h0m-2 0h0m-7 0h0m-12 0h0m-12 0h0m-1 0h0m-8 0h0m-44 0h0m-73 13h0m-30-5h0m171 11h0m69 7h0m57-6h0m11 15h0m62-10h0m4 4h0m36 1h0m72-12h0m129 2h0m25 6h0m22 2h0m50-7h0m62-2h0m5 2h0m27-4h0m13 8h0m5-3h0m2-1h0m3 8h0m2-6h0m18 4h0m1-11h0m3 8h0m37 5h0m16-8h0m2-4h0m9 18h0m2-1h0m2 0h0m4-6h0m1-5h0m0 7h0m4-8h0m0 4h0m2-4h0m46-5h0m0 10h0m8 0h0m67 8h0m31-4h0m60-5h0m22 8h0m54-18h0m36 11h0m13 2h0m17-10h0m0 5h0m0 5h0m0 5h0m0 5h0m0 5h0m0 5h0m0 5h0m-3-13h0m-3 3h0m-1 2h0m-4 2h0m0 2h0m-2 1h0m-1 0h0m-1 1h0m-2 1h0m-29-11h0m-79 9h0m-12-5h0m-13 1h0m-4 3h0m-15-6h0m-13-4h0m-7-4h0m-8 11h0m-30 1h0m0 3h0m-6-15h0m-61 6h0m-9 13h0m-6-19h0m-7 3h0m-5 4h0m0 11h0m0 1h0m-17-11h0m-26 11h0m-4-16h0m-2 3h0m-3 2h0m-1 1h0m-1 3h0m-1 0h0m-5 7h0m-2-1h0m-1-4h0m-3-2h0m-8-12h0m-21 10h0m-3 5h0m-65-11h0m-34 6h0m0 5h0m-17 4h0m-23-5h0m-5-5h0m-3 2h0m-11-6h0m-12 13h0m-29-1h0m-178-15h0m-67 4h0m-99 1h0m-55 8h0m-44 3h0m-194 14h0m128 4h0m76 2h0m54-16h0m266 2h0m1 13h0m123 2h0m40-16h0m23 10h0m51-6h0m4 7h0m35-1h0m4-2h0m17 6h0m5-1h0m25-5h0m3 8h0m4-3h0m0 2h0m1-1h0m1-4h0m1-1h0m2-1h0m0 2h0m3-9h0m1 2h0m19 3h0m0 2h0m1-10h0m5 17h0m42-2h0m8-15h0m0 3h0m5-3h0m36 5h0m0 1h0m10 11h0m24-3h0m7 4h0m57-12h0m7-2h0m49-2h0m5-3h0m7 9h0m2-3h0m24 13h0m13-1h0m26-13h0m2 10h0m4-3h0m2-2h0m0 6h0m3-9h0m2-2h0m0 5h0m3-4h0m1-4h0m0 3h0m1-4h0m2 0h0m6 15h0m11-6h0m3-7h0m0 5h0m0 5h0m0 5h0m0 5h0m0 5h0m0 5h0m0 5h0m-22-3h0m-18-15h0m-3 2h0m-1-2h0m0 15h0m-3-13h0m0 3h0m-1 2h0m-4 1h0m0 2h0m-2-1h0m-1 1h0m-2 4h0m-1-1h0m-1 1h0m-3 3h0m0 2h0m-11-10h0m-112 4h0m-18-10h0m-1 12h0m-22-15h0m-6 19h0m-7-17h0m-36 16h0m-8-17h0m0 1h0m-19-2h0m0 11h0m-12-7h0m-2-1h0m-12-1h0m-26 12h0m-2 3h0m-4 0h0m-7 0h0m-4-1h0m-10-4h0m-19-10h0m-1 1h0m-5 4h0m-1 2h0m-1-6h0m0 9h0m-1 0h0m-3 5h0m-1 0h0m-13-5h0m-38 6h0m-5-10h0m-3 1h0m-3-1h0m-47 2h0m-3-8h0m-56 4h0m-28 2h0m-17-1h0m-9-5h0m-1 4h0m-73 9h0m-7-14h0m-25 9h0m-34-1h0m-65-4h0m-4 6h0m-43-5h0m-42-6h0m-213 4h0m-22 11h0m-77-4h0m-45 3h0m-10 10h0m40-1h0m80-1h0m252 6h0m147 6h0m28-4h0m20 7h0m17-9h0m27 6h0m16-10h0m2-2h0m1 5h0m11 0h0m11 7h0m4 5h0m54-11h0m13 4h0m8-9h0m48 15h0m3-10h0m30 11h0m8-5h0m20 0h0m1-6h0m10-7h0m5 17h0m11-1h0m0 1h0m2-4h0m1-1h0m0 1h0m2-1h0m1-4h0m1-2h0m0 2h0m3-4h0m55 13h0m16-17h0m0 3h0m4-2h0m3 0h0m0 8h0m7-10h0m6 16h0m2 3h0m3-6h0m4-7h0m0 12h0m8-5h0m6-8h0m11 3h0m6 2h0m2 9h0m19-16h0m21 2h0m26 7h0m0 6h0m54-17h0m1 3h0m67 0h0m11 10h0m2 5h0m4-3h0m3-6h0m2-7h0m3 6h0m3-6h0m0 4h0m3-4h0m1-3h0m1 1h0m19 7h0m18 3h0m7-3h0m12 2h0m7-1h0m2-6h0m0 5h0m0 5h0m0 5h0m0 4h0m0 5h0m0 5h0m0 5h0m-32-16h0m-57 2h0m-3 0h0m0 2h0m-2 0h0m-2 3h0m-1 0h0m-2 4h0m-1 1h0m-1-3h0m-2 5h0m-4 2h0m-1 2h0m-4-8h0m-5 0h0m-10-5h0m-109-6h0m-4 18h0m-8-15h0m-18 11h0m-4 2h0m-2-11h0m-11 6h0m-2-3h0m-5 2h0m-11 9h0m-14-17h0m-31 16h0m-13-12h0m-1 1h0m-1 0h0m-7 11h0m-14-5h0m-5-1h0m-15 4h0m-14-3h0m-5-8h0m-9-5h0m-1 0h0m0 3h0m-4 1h0m0 14h0m-2-11h0m-2-1h0m0 5h0m-3 2h0m-1 1h0m-2 1h0m-1-11h0m-2 14h0m-1 1h0m-79-6h0m-1-12h0m-101 2h0m-4 14h0m-27-3h0m-24-2h0m-414-4h0m-221 12h0m74 3h0m65 8h0m140-10h0m94 6h0m11 10h0m12-13h0m4 7h0m106 7h0m33-14h0m0 4h0m13-3h0m46 5h0m3-8h0m31 15h0m4-6h0m2-7h0m30 13h0m25 1h0m8-14h0m25 5h0m32 3h0m6-1h0m3 4h0m27-13h0m21 13h0m6-11h0m15-3h0m14 17h0m6-4h0m4-1h0m3-2h0m0 1h0m3-5h0m0 2h0m2-6h0m3 6h0m2-9h0m21 16h0m1 2h0m7-8h0m1 4h0m2-12h0m9-2h0m12 6h0m5-3h0m4 16h0m6-4h0m13-9h0m1 11h0m23-6h0m8 7h0m3-6h0m7 6h0m5 1h0m47-5h0m9 0h0m4-14h0m21 5h0m42 1h0m11 12h0m42-16h0m12 17h0m2-3h0m0 2h0m2-2h0m1-3h0m3-11h0m2 8h0m0 1h0m5 3h0m1-9h0m3-1h0m1-3h0m14 13h0m19-12h0m60 11h0m18-11h0m0 5h0m0 5h0m0 5h0m0 5h0m0 5h0m0 5h0m0 5h0m-1-17h0m-2 6h0m-13 2h0m0 6h0m-3-9h0m-2 5h0m-38-2h0m-8 1h0m-1 9h0m-16-1h0m-19-2h0m-18-4h0m-1 0h0m-10-10h0m-1 1h0m-2 0h0m-1 7h0m-1-5h0m-4 2h0m-1 2h0m-1-1h0m0 12h0m-2-7h0m-1 0h0m-1 1h0m-3 3h0m-39 3h0m-99-8h0m-6 5h0m-8-8h0m-16 2h0m-20-6h0m-5 10h0m-37-7h0m0 8h0m-36-9h0m-5-6h0m-12 15h0m-18-3h0m-10-11h0m-4-1h0m-5 7h0m-1-3h0m-1 5h0m-3 3h0m-1-6h0m0 6h0m0 1h0m-9 1h0m-13-6h0m-48 5h0m-1-10h0m-3-2h0m-11 1h0m-3 17h0m-11-3h0m-1-14h0m-10 3h0m-2-4h0m-14 3h0m0 10h0m-18-6h0m-13-6h0m-3-1h0m-48 12h0m-37 2h0m-30-6h0m-13-9h0m-11 9h0m-9 3h0m-6 2h0m-40 0h0m-43-11h0m-36-3h0m-67 13h0m-55 3h0m-25-9h0m-2 5h0m-94-2h0m-125 14h0m26 9h0m11 2h0m198-2h0m30-4h0m51 3h0m11-5h0m27 5h0m49-12h0m7 19h0m52 0h0m23-19h0m62 3h0m14 12h0m68-2h0m2-11h0m14 5h0m9 3h0m23-10h0m3 6h0m7 10h0m21 0h0m7-12h0m13 5h0m2 6h0m2-7h0m1 11h0m1-12h0m3-6h0m8 18h0m3-18h0m8 1h0m5 16h0m1-12h0m6 9h0m13 2h0m2 0h0m2-4h0m2-1h0m2-12h0m0 9h0m4-5h0m3-4h0m14 11h0m6 2h0m2-6h0m11-4h0m0 8h0m4-7h0m2 7h0m7-5h0m15 13h0m26-9h0m38-2h0m10-8h0m5 19h0m34-4h0m16-8h0m5-1h0m101 6h0m8-1h0m2 8h0m2-1h0m4-6h0m1-9h0m0 14h0m3-7h0m2 3h0m3-9h0m0 2h0m3-3h0m3-3h0m1 1h0m4-1h0m9 1h0m0 17h0m20-2h0m34-7h0m6-1h0m5 1h0m1-2h0m25-6h0m27 6h0m5-4h0m0 11h0m1-13h0m16 1h0m0 5h0m0 5h0m0 5h0m0 5h0m0 5h0m0 5h0m0 5h0m-11-8h0m-3-3h0m-6 11h0m-11-15h0m-1 8h0m-12-5h0m-2-2h0m-9 6h0m-24-8h0m-6 1h0m-2 16h0m-6-12h0m-35-4h0m-10 0h0m-1-1h0m-10 13h0m-20-6h0m-3 1h0m-5-9h0m-2 1h0m-2 2h0m-2 2h0m-1 2h0m-3 0h0m0 3h0m-1-1h0m-2 4h0m-2-13h0m0 12h0m0 2h0m-3 1h0m-1 1h0m-6-1h0m-72-12h0m-43 1h0m-84-4h0m-17 5h0m-1 13h0m-9-12h0m-4-6h0m-4 11h0m-8-1h0m-12-2h0m-1 4h0m-1-1h0m-3-5h0m-3 1h0m-5-1h0m-3-3h0m-13-3h0m-5 9h0m-1 10h0m-4-15h0m0 4h0m-4-3h0m-4-4h0m-1 7h0m-1 3h0m-1-2h0m0 3h0m-5 7h0m-1-6h0m0 6h0m-43-16h0m-18 13h0m-16 0h0m-18-13h0m-1 8h0m-1-9h0m0 16h0m-1-6h0m-4 1h0m-3-8h0m-23 1h0m-1 9h0m-4-11h0m-11 5h0m-21 4h0m-13-5h0m-58 10h0m-11-18h0m-5 5h0m-10 13h0m-10-10h0m-1 11h0m-7-19h0m-99 11h0m-2 4h0m-7-5h0m-50 6h0m-9-15h0m-2-1h0m-167 11h0m-170 5h0m41 22h0m80-14h0m75 15h0m163-10h0m18-5h0m42 11h0m72-11h0m0 10h0m4 2h0m17 0h0m6-8h0m23-6h0m2 10h0m1 1h0m3 2h0m5-14h0m0 10h0m1-9h0m8 12h0m11-4h0m5-5h0m23-4h0m8 15h0m16-3h0m2-12h0m11-1h0m8 2h0m5 9h0m0 5h0m9-15h0m5 12h0m2-8h0m12 14h0m5-5h0m4-9h0m12 9h0m10-10h0m47 8h0m4 0h0m3-2h0m3-9h0m3 17h0m0 1h0m2-4h0m1-9h0m1 6h0m0 3h0m1-9h0m2 6h0m3-6h0m1-3h0m5-2h0m22 9h0m1-8h0m2 13h0m11 2h0m9-7h0m1-2h0m3 7h0m20-11h0m6-2h0m0 10h0m1-12h0m8 1h0m1 10h0m29 1h0m108 5h0m25-12h0m25 7h0m14 7h0m5-1h0m3-4h0m0 5h0m2-2h0m2-3h0m1-2h0m2-1h0m1 1h0m2-5h0m1-2h0m1 2h0m1-3h0m2 0h0m1-1h0m2-1h0m2-2h0m3 14h0m0 4h0m6-2h0m2-1h0m17-2h0m31-11h0m2 0h0m25 10h0m38-4h0m8 5h0m45 0h0m11-5h0m3 7h0m8-13h0m0 5h0m0 5h0m0 5h0m0 4h0m0 5h0m0 5h0m0 5h0m-11-7h0m-4-3h0m-5 5h0m-7 3h0m-1-13h0m-12 18h0m-5-10h0m-4 10h0m-7-11h0m-1-2h0m-11 6h0m-3 1h0m0 1h0m-10 5h0m-1-14h0m-5-1h0m-5 5h0m-9 10h0m-2-18h0m-52 2h0m-12 15h0m-33-10h0m-23-6h0m-3 3h0m-3 1h0m0 1h0m-2 2h0m-5-7h0m0 11h0m-1-3h0m-2 7h0m-1-3h0m-2-5h0m-7-9h0m-2 19h0m-99-10h0m-11-3h0m-22 8h0m-51-14h0m-9 17h0m-24-14h0m-2 2h0m-8-2h0m0 15h0m-21-12h0m0 12h0m-5-4h0m-14-7h0m-2 3h0m-12 0h0m-2-6h0m-3 1h0m-2 2h0m-2 7h0m-4 0h0m-1 2h0m-1-9h0m-19 10h0m-9-6h0m-3-6h0m-6 10h0m-8-13h0m-17-2h0m0 12h0m-1 2h0m-4-12h0m-16 9h0m-15-5h0m-3 10h0m-6-9h0m-1 9h0m-19-3h0m-9 3h0m-18 3h0m-22-13h0m-14 6h0m-18-4h0m-14-5h0m-17 15h0m-5-3h0m-7 1h0m-5-8h0m-10-2h0m-35 1h0m-29-4h0m0 3h0m-4 12h0m-18-16h0m-50 17h0m-5-9h0m-48 9h0m-12-16h0m-43 13h0m-25-10h0m-72-1h0m-125 8h0m-33 18h0m22 6h0m27-1h0m8-12h0m50 14h0m24-9h0m126-4h0m57 7h0m8-5h0m1 5h0m8 7h0m21-14h0m4 11h0m50-15h0m14 11h0m28-3h0m9 9h0m7-13h0m15-2h0m39 1h0m19 0h0m13 9h0m6 0h0m23 4h0m31-7h0m1 7h0m5-3h0m13 3h0m3-5h0m3-7h0m1 10h0m35-4h0m7-2h0m6-1h0m15 8h0m15 3h0m4-1h0m2-4h0m5 1h0m3 2h0m7 2h0m11 0h0m3-1h0m5-7h0m1 3h0m2-7h0m0 4h0m4-7h0m2-3h0m0 5h0m7 4h0m0 5h0m2-13h0m10 6h0m1-5h0m0 8h0m4-4h0m2 7h0m9 4h0m7-10h0m2-7h0m3 18h0m9-2h0m1-7h0m4-2h0m21-2h0m52-6h0m8 19h0m2-17h0m6 4h0m12 10h0m13-15h0m101 14h0m1-5h0m6-7h0m1 14h0m1 0h0m2-3h0m1 0h0m2-4h0m1 1h0m2-4h0m2 2h0m4-6h0m2-1h0m0 10h0m4-12h0m31 8h0m4-7h0m17 14h0m11 0h0m5-6h0m6-6h0m9 13h0m30-11h0m2 8h0m21 2h0m12-2h0m23 2h0m16-10h0m9 5h0m12 9h0m2-9h0m8-9h0m2 14h0m3-15h0m2 1h0m0 8h0m2 9h0m14-5h0m2-12h0m0 5h0m0 5h0m0 5h0m0 5h0m0 5h0m0 5h0m0 5h0m-3-7h0m-1-7h0m-4 7h0m-3 2h0m-3-2h0m0 6h0m0 1h0m-3 3h0m-3-1h0m-2-14h0m-5 10h0m-1 4h0m-21-2h0m-3 3h0m-4-2h0m-4-13h0m-1 10h0m-21-10h0m-16 4h0m-2-5h0m-3 5h0m-17-6h0m-2 10h0m-7 7h0m-7-11h0m-19 2h0m-11 8h0m-10-3h0m-1-8h0m-24 5h0m-20-10h0m-5 17h0m-3-12h0m-9 4h0m-17-2h0m-4 6h0m-9-13h0m-1 0h0m0 1h0m0 14h0m-5-12h0m0 1h0m-1 3h0m-3-2h0m0 4h0m-3 7h0m-1-6h0m-6 6h0m-2-7h0m-8-6h0m-97 10h0m-8-13h0m-11 16h0m-10-10h0m-3-8h0m-10 19h0m-3-13h0m-14 1h0m-25 9h0m-31-11h0m-6 5h0m-4 1h0m-15 7h0m-10-1h0m-4-1h0m-10-16h0m-2 2h0m-1 8h0m-4-5h0m-5 2h0m0 2h0m-1 1h0m0 1h0m-1 1h0m-2 1h0m-2 2h0m-4-15h0m-22 12h0m0 6h0m-9-17h0m-9 8h0m-6 1h0m-6-3h0m-13 0h0m-2 0h0m-13 12h0m-8-1h0m-30-6h0m-4-7h0m-13 3h0m-6-1h0m-13 11h0m-1-15h0m0 15h0m-18-15h0m-41 15h0m-1-16h0m-3 5h0m-16 2h0m-16 8h0m-15-8h0m-2-6h0m-19 4h0m-4 2h0m-13-6h0m-20 16h0m-20-5h0m-3-2h0m-21 1h0m-5-7h0m-20 5h0m-17 2h0m-124 4h0m-27 2h0m-79 0h0m-88 9h0m236 6h0m70-3h0m35-6h0m13 9h0m9-11h0m37 5h0m26-1h0m7 3h0m3-4h0m6 9h0m25-15h0m10 12h0m3-6h0m0 1h0m15 9h0m2-7h0m12 7h0m1 0h0m12-11h0m9 0h0m14-1h0m0 1h0m16 6h0m2-5h0m4 11h0m2-11h0m5 12h0m1-18h0m0 8h0m5 4h0m20-8h0m4 15h0m8 0h0m1-5h0m1-9h0m8-3h0m1 0h0m4 16h0m2-11h0m1 6h0m11-9h0m17 12h0m8-11h0m4-1h0m0 1h0m4 8h0m17-12h0m1-1h0m8 13h0m0 5h0m2 1h0m10-8h0m1 2h0m1 6h0m1-3h0m6-6h0m1 9h0m1-13h0m2 0h0m1-4h0m3 0h0m14 13h0m4 1h0m5-7h0m1-6h0m11 8h0m7 6h0m1-13h0m5 1h0m9-2h0m43 7h0m1 1h0m9-6h0m11-4h0m13 7h0m75 6h0m57 5h0m4-14h0m0 12h0m2-1h0m1-4h0m2 1h0m4-5h0m0 2h0m2-3h0m3-1h0m1-2h0m1 13h0m1-17h0m1 1h0m9 12h0m8-11h0m12 17h0m30-11h0m15-4h0m34 15h0m6-6h0m13 3h0m7-12h0m2 11h0m10 0h0m37 3h0m16-10h0m12-1h0m12 3h0m8-9h0m5 14h0m1 4h0m3-5h0m1-9h0m1-3h0m5 4h0m0 6h0m3 1h0m0 2h0m3-14h0m1-1h0m0 6h0m3-2h0m2-2h0m3 16h0m5-16h0m2 13h0m3-1h0m1-12h0m5 10h0m1 4h0m1-6h0m11-9h0m0 5h0m0 5h0m0 5h0m0 5h0m0 5h0m0 5h0m0 5h0m-2-4h0m-4-12h0m0 19h0m-17-11h0m-3 9h0m-16-8h0m-2-4h0m-4 6h0m-1-10h0m-4 13h0m-1-11h0m-4 10h0m-1 6h0m-2-16h0m-1 5h0m0 4h0m-2-4h0m-1-8h0m-7 13h0m-3-3h0m-2-2h0m0 10h0m-2-2h0m-4 0h0m-9-12h0m-1 5h0m-1-4h0m-17 8h0m-4-5h0m-1 6h0m-3-5h0m-2-1h0m-4 10h0m-9-7h0m0 2h0m-10 1h0m-2-1h0m-4-8h0m-8 10h0m-2-12h0m0 2h0m-4 14h0m-4-16h0m-13 10h0m-1-12h0m-4 11h0m-2-6h0m-4 8h0m-1-6h0m-1 8h0m-4-5h0m-4-3h0m-4-5h0m-5-2h0m-32 12h0m-7-12h0m-5 12h0m-19-13h0m-7 5h0m-31-2h0m-5 7h0m-1-8h0m-1 9h0m0 8h0m-1-12h0m-4 3h0m0 1h0m-3 3h0m-1-1h0m-4 4h0m0 1h0m-5 1h0m-1-6h0m-14 2h0m-70-15h0m-4 7h0m-6-6h0m0 9h0m-4 0h0m-2 9h0m-17-2h0m-19-6h0m-2 7h0m-4-2h0m-2-14h0m-17 0h0m-7 10h0m-11-4h0m-2 9h0m-3-15h0m-22 1h0m-5-2h0m-3 8h0m-1 5h0m-1-12h0m-1-2h0m-4 9h0m-2 8h0m-1-6h0m-3-5h0m-3-6h0m-10 0h0m-2 7h0m-1 9h0m-1 1h0m-2-13h0m-1 6h0m-14-9h0m-1 4h0m-2 3h0m-1 2h0m-1-1h0m-2 6h0m-3 2h0m-1-8h0m-8 2h0m0 6h0m-4-4h0m-1-2h0m-6 1h0m-4 1h0m-10-9h0m0 2h0m-3 4h0m-3 3h0m-1 4h0m-1-10h0m-9 12h0m-7-9h0m-6-5h0m-6 4h0m-1-5h0m-1-4h0m-2 12h0m-1-4h0m-5 9h0m-1-1h0m0 3h0m-3-3h0m-2-9h0m-5 9h0m-7-2h0m0 4h0m-10-12h0m-8 3h0m-2-1h0m-1 2h0m-5-10h0m-4 11h0m-2-3h0m-16-5h0m-2 12h0m-4-3h0m-7 4h0m-5-15h0m0 14h0m-32-10h0m-23 13h0m-3-14h0m-19 9h0m-20 3h0m-17-6h0m-93 3h0m-43-10h0m-102 10h0m-32-2h0m-32-3h0m-91-5h0m-7 20h0m13 9h0m11-5h0m129-2h0m26 7h0m89 0h0m6-2h0m1 5h0m43-5h0m11-2h0m44-6h0m26 4h0m46 9h0m10 0h0m38-2h0m6 5h0m3 1h0m14-18h0m17 16h0m2-8h0m4-9h0m0 10h0m5-9h0m3 12h0m8 2h0m6-10h0m2 5h0m24 6h0m3-12h0m0 2h0m5 0h0m7 4h0m2-8h0m12 3h0m0 13h0m1-6h0m10-11h0m7 1h0m3 8h0m3 1h0m7 3h0m4 4h0m3-6h0m3 3h0m6-1h0m3-4h0m3-5h0m0 5h0m3-6h0m0 12h0m1-2h0m6-13h0m3 15h0m2-3h0m1-9h0m3 15h0m2-3h0m4 2h0m4-14h0m4 5h0m4 3h0m2-9h0m4 13h0m6-7h0m18-5h0m2-2h0m5 15h0m0 2h0m4-17h0m5 16h0m17-11h0m0 7h0m4-3h0m5-11h0m16 3h0m5 9h0m12 5h0m4 1h0m19-10h0m2 5h0m11-3h0m5-7h0m4-3h0m65 19h0m7-19h0m2 19h0m3-18h0m1 13h0m0 3h0m3-4h0m1 0h0m2-1h0m1-3h0m1-1h0m0 2h0m8-8h0m3-1h0m1-1h0m5 11h0m8 2h0m9-6h0m7-7h0m4 13h0m3 5h0m4-4h0m4-8h0m3 4h0m17-1h0m17 8h0m1-14h0m32-3h0m2 17h0m7-12h0m4 7h0m4 3h0m14-5h0m14-2h0m0 11h0m2-1h0m2-17h0m7 10h0m3-2h0m7 9h0m13-14h0m10 1h0m7-1h0m5 13h0m5-6h0m6-2h0m4 0h0m1-6h0m1 11h0m3 2h0m3-10h0m1 8h0m2 1h0m1-6h0m6-7h0m0 3h0m0 4h0m11-7h0m6 12h0m7-2h0m1 2h0m0 4h0m5 0h0m2-12h0m1-2h0m7 7h0m16 2h0m6-1h0m8 3h0m2-1h0m7-2h0m6-11h0m0 5h0m0 5h0m0 5h0m0 4h0m0 5h0m0 5h0m0 5h0m-3-6h0m0 10h0m-3-7h0m-5 5h0m-1-5h0m-5-3h0m-3 6h0m-2-12h0m-4-2h0m0 10h0m-8 4h0m-9-11h0m-2 3h0m-8 9h0m-2 2h0m-3-4h0m-12-13h0m0 7h0m0 7h0m-11-8h0m-2 0h0m-2 7h0m-18-3h0m-1-9h0m0 17h0m-1-13h0m-1 10h0m-3-2h0m-4-14h0m0 7h0m-1 6h0m-2-7h0m-3-4h0m-2-2h0m-2 13h0m-2-11h0m0 9h0m-2 7h0m-2-3h0m-3 2h0m-3-6h0m-4-5h0m-1 1h0m-2-3h0m0 12h0m-4 2h0m-7-5h0m-1-12h0m-15 2h0m-11 14h0m-11-7h0m-1-3h0m0 2h0m-24 3h0m-18 4h0m-1-16h0m-11 1h0m-2 15h0m-6-7h0m-2 9h0m-2 0h0m-11-17h0m-2 3h0m-4 10h0m-12-11h0m-6 5h0m-16 6h0m-19-13h0m-15 9h0m-10-6h0m-6-1h0m-5 3h0m-1 2h0m-2 0h0m0 1h0m-1 10h0m-2-10h0m0 3h0m-5 5h0m-2-9h0m-2 3h0m-1-11h0m-1 15h0m-7-5h0m-4 2h0m0 4h0m-26-9h0m-18 12h0m-5-9h0m-15 3h0m-12-11h0m-1 15h0m-3-12h0m-8 11h0m-16-4h0m-3-5h0m-38 3h0m-9 9h0m-2-5h0m-5-14h0m-1 13h0m-3 4h0m-5-10h0m-22 3h0m-2 3h0m-2 0h0m-3-4h0m-3 3h0m-2 3h0m-6-1h0m-3-10h0m-2 3h0m-7 6h0m-1-3h0m-4-9h0m-1 8h0m-4-1h0m-1 9h0m-5 1h0m-1-4h0m-1-9h0m-5 2h0m-2 7h0m-5-3h0m-2-9h0m-6 8h0m-3 7h0m-2-15h0m-5 10h0m-1-3h0m-2-8h0m-1 2h0m-11-3h0m-4 3h0m-1 6h0m-2-7h0m-1 2h0m-12 13h0m-3-9h0m0 4h0m0 7h0m-12-7h0m-4 4h0m-15-3h0m-12-4h0m-3-5h0m-4 10h0m-1-1h0m-1 5h0m-1-2h0m-1-14h0m-4 4h0m-13 4h0m-9-4h0m-6 6h0m-1-8h0m-5 11h0m-1 4h0m-8-12h0m-36 6h0m-2-2h0m-3-1h0m-10-10h0m-6 11h0m-9 1h0m-3-6h0m-12 0h0m0 10h0m-2-15h0m-79 16h0m-33-9h0m-64 5h0m-5 5h0m-31-8h0m-14 2h0m-222 17h0m90-2h0m61-2h0m36 11h0m93 2h0m7-1h0m1-3h0m36-5h0m19-8h0m25 5h0m1-6h0m18 15h0m14 4h0m8-8h0m19-2h0m19 6h0m8-7h0m6 11h0m3-8h0m1 0h0m1 5h0m26-10h0m6-6h0m5 19h0m2-11h0m2-5h0m4 0h0m9-2h0m7 15h0m9-15h0m14 11h0m4 7h0m4-19h0m2 4h0m5-2h0m0 2h0m1-1h0m1 13h0m21-13h0m0 1h0m3 0h0m7 7h0m4-2h0m4-3h0m4 3h0m10 9h0m3-12h0m0 4h0m5-8h0m3 4h0m1 0h0m3 12h0m3-10h0m4 8h0m1 0h0m10 1h0m4-17h0m1 16h0m5 0h0m1-14h0m2 8h0m3 6h0m4 1h0m2-2h0m1-3h0m0 1h0m1-6h0m4 3h0m3 9h0m5-13h0m0 13h0m2-13h0m15-4h0m1 3h0m3 3h0m3 4h0m3-8h0m1 11h0m1-13h0m13 3h0m2 3h0m0 5h0m12-2h0m6-5h0m4 12h0m2-7h0m0 8h0m3-15h0m4 8h0m1 7h0m23-15h0m4 7h0m7 3h0m8-4h0m2-9h0m9 7h0m38 4h0m18 4h0m11-4h0m9 0h0m19-3h0m18 9h0m2-1h0m1-13h0m0 13h0m2-4h0m1-4h0m4 2h0m2-2h0m1-2h0m2-1h0m1-2h0m1-2h0m4-2h0m1 16h0m2-9h0m1-1h0m1 8h0m17-10h0m6 13h0m4-15h0m8 9h0m1-7h0m12 9h0m1-7h0m1-6h0m5 15h0m2-10h0m2 1h0m34-2h0m5 2h0m0 9h0m2-2h0m1 1h0m26-6h0m12-6h0m2-1h0m4 15h0m17-9h0m1 1h0m3-8h0m4 0h0m0 14h0m8-13h0m1 4h0m9 0h0m2-4h0m11 16h0m3 0h0m10-7h0m6-4h0m3 2h0m2-4h0m0 2h0m0 13h0m9-5h0m1-13h0m1 6h0m1-5h0m2 6h0m1 10h0m2-3h0m4-1h0m5-2h0m7 0h0m6 1h0m9 1h0m1-12h0m5 6h0m0 4h0m3-4h0m4-4h0m2 11h0m2-6h0m11-9h0m3 6h0m1 4h0m2 5h0m1-12h0m9 15h0m2-5h0m9 5h0m1-9h0m4 9h0m3-4h0m1 3h0m1-6h0m1-3h0m2 3h0m4-10h0m0 8h0m1 2h0m1 8h0m2-11h0m2-5h0m1 2h0m3-2h0m2-1h0m2-2h0m7 10h0m5-3h0m4-7h0m0 5h0m0 5h0m0 5h0m0 5h0m0 5h0m0 5h0m0 5h0m-7-14h0m-23 1h0m-4 1h0m-11-3h0m-2 1h0m-3-1h0m-1 2h0m-3 2h0m-3 2h0m-3 3h0m-1-3h0m-1 6h0m-2-4h0m0 9h0m-1-7h0m-5 4h0m-1 3h0m-5 2h0m-2-7h0m-10 7h0m-6-11h0m-4-4h0m-4 0h0m-14-2h0m0 12h0m-8-9h0m-1 4h0m-2-3h0m0 11h0m-2-1h0m-3 3h0m-4-5h0m-19-2h0m-2-12h0m0 19h0m-1-3h0m-2-15h0m-3 8h0m-5 1h0m0 7h0m-4-9h0m-7 2h0m-4-4h0m0 7h0m-1-12h0m-2 13h0m-4 0h0m-2-11h0m-4-1h0m0 15h0m-14-13h0m0 9h0m-4 6h0m-7-3h0m-4-4h0m-9-2h0m-1 8h0m-5-6h0m0 3h0m-1-10h0m-3 1h0m-3-6h0m-1 3h0m-1 2h0m-5 6h0m-4 5h0m-3-10h0m-5-5h0m0 12h0m-2-5h0m-3-4h0m-5-2h0m-2 8h0m-13-4h0m-1-3h0m-3 12h0m-18-2h0m-3-1h0m-11 5h0m-1-16h0m-7 8h0m-3 7h0m0 3h0m-6-18h0m-2 13h0m-1 2h0m-4 0h0m-6 2h0m-2-13h0m-9 9h0m-8-11h0m-2 6h0m-10 4h0m-9 3h0m-4-16h0m-3 3h0m-3-2h0m-1 9h0m-1-6h0m-6 8h0m-1-4h0m-3 5h0m-3 3h0m-3 3h0m-7-6h0m-9-8h0m0 11h0m-5 1h0m-8-11h0m-13 5h0m-28-9h0m-13 5h0m-9 1h0m-8 3h0m-1-3h0m0 9h0m-1-7h0m-20 7h0m-8-9h0m-1-6h0m0 17h0m-4-8h0m-1-11h0m-2 13h0m-14 0h0m-2-11h0m-23 10h0m-2-6h0m-3 6h0m-1 2h0m-3-11h0m-1 14h0m-1-12h0m0 10h0m-6 0h0m-10-3h0m-1 0h0m-7-7h0m0 11h0m-5 1h0m-2-9h0m-2-8h0m-7 18h0m-7 1h0m-1-16h0m-2 11h0m-2-11h0m-1 3h0m-3 3h0m-3-3h0m-1 8h0m0 1h0m-3 1h0m-5-12h0m-1 10h0m0 5h0m-1-8h0m0 1h0m-1-9h0m-10-2h0m-1 13h0m-6-4h0m-12-7h0m0 7h0m-10-5h0m0 8h0m-2 0h0m-2-3h0m-1-10h0m-3 1h0m-1 9h0m-2 3h0m-1-9h0m-7 10h0m-4-1h0m-6-13h0m-1 11h0m-2-9h0m-5 16h0m-2-7h0m-11-8h0m-2 9h0m-2 2h0m-5-14h0m-6 5h0m-4 11h0m-2-7h0m-9-4h0m-5 3h0m-6-7h0m-8 14h0m-2 3h0m-6-3h0m-8-12h0m-5 3h0m-6-1h0m-14-3h0m-9 1h0m-2-1h0m-16 0h0m-17 17h0m-6-14h0m-8 6h0m-1 0h0m-1-3h0m-3-1h0m-1-4h0m-7 3h0m-20 2h0m-37 9h0m-12-10h0m-78 6h0m-8-5h0m-32 8h0m-30-14h0m-52 9h0m-73 0h0m-10-5h0m-34 9h0m127 19h0m13-10h0m38 14h0m3-14h0m34-4h0m2 17h0m7-6h0m1 0h0m11-9h0m23 7h0m33 2h0m26-3h0m9 7h0m9-13h0m8 17h0m25-5h0m37-6h0m16 1h0m3 1h0m7-3h0m0 9h0m6-3h0m1-2h0m4-2h0m13 8h0m13 0h0m5-16h0m1 13h0m9 2h0m1-14h0m4 7h0m6 6h0m7-9h0m0 4h0m0 8h0m7-15h0m0 11h0m8-1h0m12-8h0m0 11h0m4-9h0m3 2h0m2 7h0m0 2h0m4-6h0m1-12h0m1 14h0m2 0h0m5-4h0m5-5h0m0 10h0m5-8h0m0 6h0m2-1h0m2 2h0m1-14h0m5 10h0m0 2h0m7-3h0m3-4h0m5 0h0m1 7h0m5-8h0m3 4h0m1-4h0m5 0h0m0 3h0m5-5h0m3 12h0m5-2h0m0 1h0m2-11h0m3-1h0m4 3h0m1 15h0m3-1h0m1-5h0m1-8h0m0 2h0m4 4h0m3-8h0m1 7h0m3-7h0m1 3h0m5 3h0m6-3h0m0 9h0m3-7h0m1 9h0m3-5h0m1-11h0m5 16h0m1-8h0m2 1h0m8-7h0m7 4h0m0 8h0m1-4h0m7 6h0m9-16h0m0 7h0m1 3h0m1-10h0m4 17h0m1-7h0m5 0h0m3-9h0m1 0h0m13 3h0m0 2h0m1 1h0m1 7h0m3-11h0m4 6h0m0 7h0m1-3h0m4 5h0m3-10h0m1-9h0m4 1h0m2 12h0m1 3h0m3-6h0m7 9h0m2-12h0m1 6h0m9 0h0m8-1h0m16 3h0m33-10h0m2 6h0m3-5h0m2-1h0m9 1h0m7-1h0m11 12h0m2-14h0m12 15h0m2-6h0m7-2h0m3-7h0m3-2h0m2 13h0m4-14h0m3 5h0m0 1h0m14-4h0m8 2h0m3-4h0m2 11h0m2-6h0m8-2h0m11-1h0m4 10h0m2 0h0m2 3h0m10 1h0m6-14h0m9 11h0m2-5h0m2 8h0m3 1h0m11-17h0m1 6h0m1 2h0m1-6h0m2 11h0m1-8h0m0 2h0m8-7h0m2 12h0m10-6h0m3-3h0m2 12h0m12-14h0m1 15h0m6-9h0m7 9h0m13-13h0m8 9h0m1-10h0m3 0h0m5 11h0m2-2h0m5 2h0m4 4h0m4-9h0m2-8h0m3 15h0m7-14h0m0 11h0m3 0h0m12-1h0m0 5h0m4-13h0m1 6h0m1 5h0m5-1h0m4-8h0m0 12h0m1-3h0m1-4h0m8-10h0m1 11h0m1-6h0m2 4h0m3 7h0m5-6h0m1-3h0m2 1h0m3 2h0m2 2h0m2 6h0m8-5h0m1-11h0m3-2h0m11 16h0m0 1h0m5-13h0m3 0h0m0 14h0m4-2h0m1-8h0m2 6h0m3-1h0m2-1h0m1-3h0m2-1h0m1 3h0m3 0h0m3-6h0m3 5h0m3-7h0m1-3h0m2 1h0m8 5h0m1-1h0m9 8h0m2-1h0m13-9h0m5 16h0m8-19h0m13 11h0m5 0h0m0 6h0m13-8h0m1-9h0m0 5h0m0 5h0m0 5h0m0 5h0m0 5h0m0 5h0m0 5h0m-3 2h0m-13-16h0m-6 4h0m-2-4h0m-4 1h0m-3 2h0m-4 9h0m-11 4h0m-1-5h0m-19-3h0m-8 9h0m-11-7h0m-20-11h0m-7 2h0m-6 5h0m-1-3h0m-3 5h0m-3-4h0m-1 11h0m-4-5h0m-3 3h0m-1 4h0m-3-3h0m-2 3h0m-2 1h0m-2-6h0m-5 4h0m-4-4h0m-1-8h0m-3-5h0m-4 7h0m0 10h0m0 2h0m-2-3h0m-4 0h0m-15-12h0m0 7h0m0 3h0m-3-9h0m-5 4h0m-5 2h0m-1 6h0m-3 2h0m-2-2h0m-5-16h0m0 4h0m0 6h0m-4 3h0m-2-11h0m-5 2h0m0 12h0m-8-12h0m-3-1h0m-5-4h0m-2 17h0m-2-12h0m-6 6h0m-1 1h0m-3-5h0m-1 7h0m-1-13h0m-1 7h0m-2 11h0m-3-14h0m0 14h0m-4-14h0m-1 6h0m-3 6h0m-8-13h0m-8 3h0m-2 4h0m-2-5h0m-3-2h0m-4 11h0m-3-3h0m-3-4h0m-1-3h0m-4 4h0m-3 10h0m-8 0h0m-2-14h0m-10 11h0m-1-3h0m-1 2h0m-1-9h0m-1-2h0m0 5h0m-27-1h0m-12 4h0m-2 5h0m-4-11h0m-21-6h0m-12 1h0m-2 18h0m-2-15h0m-2-1h0m-3 12h0m-15 1h0m-3-14h0m-2 16h0m-2-2h0m-9-16h0m-3 1h0m-3 16h0m-1-14h0m0 3h0m-4 11h0m-1-8h0m-3-4h0m-5 1h0m-1 8h0m-5-12h0m-1 2h0m-1 15h0m-1-17h0m-1-2h0m-2 12h0m-1 1h0m-27-3h0m-16-8h0m-10 5h0m-5 0h0m-6 3h0m0 2h0m-6-11h0m-3 10h0m-2 1h0m-1 6h0m-6-11h0m-3 6h0m-6-2h0m-1 3h0m-3-5h0m-4-7h0m-1-2h0m-16 11h0m-1 0h0m0 3h0m-8-11h0m-2 16h0m-2-6h0m-7 4h0m-6-3h0m-1 0h0m0 5h0m-1-2h0m-11-12h0m-9-2h0m-4 5h0m0 5h0m-5-4h0m-2 9h0m-3-6h0m-1 2h0m-2-11h0m-2 1h0m-2 5h0m0 1h0m-11 3h0m-3-7h0m0 10h0m-2-1h0m0 4h0m-1-17h0m0 10h0m-4-4h0m-1-2h0m-5 7h0m0 6h0m-5-18h0m-1 2h0m0 13h0m-3-7h0m-3-8h0m-1 17h0m-1-9h0m-5 4h0m-4 5h0m-1-16h0m-1 11h0m-1-6h0m-5 1h0m-2-6h0m-2 9h0m-4-3h0m-4-7h0m-4 15h0m-1-10h0m-2-6h0m0 13h0m-4-4h0m0 7h0m-3-11h0m-1 12h0m-5-7h0m-4 0h0m-2-3h0m-2-5h0m-1 12h0m-1-4h0m-1-3h0m-8 2h0m-8 4h0m-5-4h0m0 5h0m-2-14h0m-1 9h0m-1 10h0m-12-7h0m0 1h0m-5-13h0m-8 8h0m0 4h0m-4 3h0m-10-8h0m-7-6h0m-1 13h0m-6-4h0m-2-2h0m-1 9h0m-3 1h0m-11-7h0m-6 5h0m-1-3h0m-7-8h0m0 14h0m-5-8h0m-6 8h0m-10-15h0m-4 7h0m-32 7h0m-2-11h0m-3-5h0m-8 9h0m-6-9h0m-17-2h0m-39 5h0m-17 8h0m-3-13h0m-1 14h0m-8 1h0m-13-15h0m-39 7h0m-99 3h0m-76 1h0m-6-5h0m-50 7h0m8 7h0m25 13h0m15-2h0m88-5h0m23 1h0m14 6h0m5-5h0m21 6h0m25-12h0m21 7h0m38 8h0m7-3h0m6 5h0m18-2h0m7-5h0m28-3h0m4 2h0m4-5h0m3 12h0m11 0h0m3-4h0m11-1h0m11 1h0m5-6h0m10 8h0m6-15h0m3 18h0m3-18h0m7 10h0m3-3h0m5-7h0m11 0h0m3 10h0m11 4h0m1-8h0m3-6h0m0 9h0m1 2h0m11 6h0m1-7h0m2-8h0m2 5h0m2 9h0m1-5h0m1 2h0m5 5h0m11-16h0m0 9h0m3-11h0m8 3h0m1-3h0m10 1h0m0 12h0m3-8h0m4-1h0m8 13h0m2-12h0m1 9h0m7-14h0m0 4h0m1 6h0m6 5h0m1-2h0m1-6h0m8 6h0m1-13h0m1 5h0m0 6h0m2 3h0m3 1h0m10-1h0m1-9h0m2-5h0m4 6h0m0 9h0m3-1h0m1-13h0m10 3h0m2-5h0m0 13h0m9-2h0m2 2h0m2-4h0m2-5h0m10 4h0m0 1h0m2 9h0m6-9h0m1-5h0m0 12h0m4-6h0m5 3h0m5 4h0m6-15h0m0 10h0m4 1h0m5-10h0m1 11h0m6-4h0m1-4h0m1 10h0m3-12h0m2 8h0m5-11h0m3 13h0m4-6h0m2 3h0m1 6h0m8-12h0m2 11h0m4-12h0m2 15h0m1-15h0m0 5h0m5-7h0m0 1h0m7 6h0m3-6h0m8 5h0m6 3h0m9 2h0m15-7h0m0 4h0m3-3h0m5 9h0m1-11h0m1 0h0m6 13h0m15-2h0m2-8h0m16-3h0m1 1h0m1 10h0m2-16h0m4 18h0m1-15h0m3 12h0m2-1h0m1-12h0m7 13h0m0 1h0m1-10h0m2-3h0m4-3h0m7 3h0m15 4h0m5-4h0m6 11h0m7 4h0m13-16h0m5 12h0m1 0h0m9-12h0m2 7h0m0 1h0m6-8h0m0 5h0m6 6h0m0 5h0m3-10h0m1-5h0m7 4h0m1 4h0m2 2h0m4-10h0m3-3h0m4 16h0m3-1h0m1-7h0m2 4h0m10-8h0m3-4h0m3 14h0m1-6h0m2-8h0m8 2h0m1 1h0m6 16h0m13-10h0m1 1h0m5 6h0m1-1h0m4-10h0m10 4h0m3 2h0m1 6h0m5-8h0m4 4h0m0 6h0m3-13h0m2-6h0m2 12h0m2-12h0m3 1h0m0 9h0m3 2h0m4-12h0m2 6h0m2 7h0m5-2h0m3 2h0m1-3h0m3 3h0m6-5h0m2-8h0m2 0h0m2 13h0m3-12h0m1 12h0m1-4h0m3-6h0m0 13h0m2 2h0m3-3h0m3-5h0m9 8h0m1 0h0m7-10h0m1-4h0m4-1h0m4-2h0m3 3h0m6-4h0m1 11h0m6-7h0m1 1h0m4 12h0m1-8h0m5 5h0m2-9h0m4 3h0m2-6h0m1 3h0m3-1h0m3-3h0m7 9h0m13 4h0m32-3h0m17 5h0m0 2h0m4-5h0m2-9h0m2 7h0m7-7h0m4-2h0m3 3h0m4-4h0m1 15h0m13-6h0m14 9h0m5-8h0m16-11h0m0 5h0m0 5h0m0 5h0m0 4h0m0 5h0m0 5h0m0 5h0m0 5h0m-1-3h0m-52-16h0m-26 0h0m-7 4h0m-3 5h0m-5 0h0m-10-3h0m-15 8h0m-14-2h0m-25 6h0m-4-11h0m-8 2h0m-2-9h0m-4 1h0m0 3h0m-2-2h0m-1 3h0m-2 0h0m-4 5h0m0 6h0m-3-9h0m0 9h0m-5-11h0m0 8h0m-1 3h0m-2-2h0m-2 4h0m-3 0h0m-1-9h0m-2-3h0m-1-6h0m-7 9h0m0 5h0m-1-7h0m-2 2h0m-4 9h0m-2 1h0m-4-10h0m-3-3h0m-4 10h0m-7-3h0m-2-4h0m-3 4h0m-1 6h0m-4-15h0m-2 12h0m-2-8h0m-5 8h0m-3-11h0m-3 14h0m-4-11h0m-2-8h0m-1 16h0m-1-12h0m0 12h0m-2-13h0m-2 11h0m-5-2h0m-3-7h0m0 11h0m-7-13h0m-5 4h0m-4 11h0m-1-4h0m-1-9h0m-5 5h0m-1-8h0m0 7h0m-5 4h0m-4-13h0m-3 12h0m-3-11h0m-7 8h0m0 5h0m-5-2h0m-5-10h0m-6 4h0m-7 5h0m-3-8h0m-3 4h0m-1-2h0m-3-3h0m0 17h0m-8-12h0m-2-6h0m-4 11h0m-8 0h0m-11 0h0m-1-2h0m-2 8h0m-3-7h0m-14 8h0m-10-15h0m-1 2h0m-1 3h0m-3 3h0m-6 4h0m-2-16h0m-16 6h0m0 6h0m-2-10h0m-4 4h0m-3-4h0m-19 15h0m-6-11h0m0 13h0m-7-17h0m-2 4h0m-1-1h0m0 8h0m-1 5h0m-8-14h0m-1 7h0m0 5h0m-2-2h0m0 3h0m-2-1h0m0 2h0m-9-13h0m-9-3h0m-1 15h0m-1-15h0m-3 17h0m-5-16h0m-4 13h0m-27 3h0m-4-9h0m-2 6h0m-3-2h0m-1-11h0m-2 4h0m-2 11h0m-25-2h0m-1-7h0m-2-2h0m0 5h0m-4 7h0m-2-16h0m-11 1h0m-8-3h0m-4 4h0m0 11h0m-1-8h0m-6 3h0m-1 4h0m-1-14h0m-2 1h0m-7 13h0m-1-3h0m-4-3h0m-3 5h0m-1-14h0m-2 6h0m-4 8h0m-1-8h0m0 13h0m-3-17h0m0 6h0m-6 0h0m-4-5h0m-1 10h0m-7-2h0m-2 6h0m-4 0h0m-4-10h0m-2 8h0m-2-10h0m-4 8h0m-1 5h0m-1-17h0m0 2h0m-6 9h0m-1-9h0m-12 0h0m-5 10h0m-7-2h0m-6-4h0m-5-4h0m-4 4h0m-5 10h0m-2-13h0m-2 8h0m0 5h0m-4-5h0m-2-5h0m-7 5h0m-3-12h0m-1 1h0m0 9h0m-8 5h0m-1-15h0m0 4h0m-1 7h0m-4 7h0m-4-16h0m-8 8h0m-6-3h0m-5 0h0m-3 2h0m-2 5h0m-2 2h0m-4-12h0m-1-2h0m-5 7h0m-1-1h0m-7 11h0m-2-8h0m0 6h0m-7-15h0m-2 8h0m-8 5h0m-5-10h0m0 6h0m0 4h0m-2-15h0m-4 0h0m-1 18h0m-3 1h0m-7-8h0m-5 8h0m-2-12h0m-7 3h0m-5 2h0m-28-1h0m-8-4h0m-1 12h0m-33-19h0m-4 17h0m-25-11h0m-3 9h0m-1-12h0m-5-2h0m0 11h0m-11 1h0m-14 4h0m-2-3h0m-142-8h0m-93 26h0m138-4h0m42 10h0m3-7h0m18 7h0m8-5h0m10-1h0m2-9h0m13 9h0m2 2h0m13-12h0m6-2h0m22 0h0m13 14h0m10 1h0m8-6h0m7-3h0m21 6h0m4-6h0m3 12h0m3 1h0m7-10h0m1-4h0m4 4h0m0 9h0m3-18h0m7 12h0m2 7h0m5-7h0m2-10h0m0 2h0m2-4h0m3 8h0m7-6h0m1 2h0m5 1h0m2 8h0m0 1h0m5-8h0m5 12h0m3 0h0m1-6h0m3-3h0m6-2h0m2 5h0m2-1h0m0 8h0m4-18h0m2 17h0m0 1h0m5 0h0m2-3h0m1-3h0m5-11h0m3 5h0m2 11h0m1-8h0m0 9h0m1-12h0m4-7h0m1 12h0m7-11h0m11 8h0m2-5h0m7-1h0m2 13h0m6-13h0m0 14h0m5 1h0m2-12h0m1 12h0m6-9h0m2 4h0m2-9h0m1-3h0m5 14h0m17-4h0m8 1h0m1 0h0m2-8h0m3-4h0m7 6h0m2 12h0m1-18h0m0 15h0m2-12h0m5 11h0m1 1h0m3-15h0m5 11h0m2-5h0m0 5h0m1 8h0m6-1h0m3-7h0m5-6h0m2-4h0m0 8h0m0 7h0m2-14h0m1 17h0m7-16h0m1 3h0m0 5h0m5 3h0m8-11h0m5 5h0m1-3h0m1 14h0m3-16h0m8 4h0m1-6h0m2 8h0m10 3h0m3-6h0m0 5h0m0 8h0m5-3h0m4-3h0m3-12h0m1 17h0m3-13h0m3 2h0m5 10h0m6 0h0m6-16h0m0 3h0m0 10h0m1 0h0m4-7h0m7 0h0m4 5h0m6-4h0m2-1h0m8-2h0m0 5h0m1 3h0m4 1h0m13-8h0m7-6h0m2 14h0m3-9h0m1 4h0m1-8h0m4 9h0m7 6h0m0 2h0m9-1h0m6-2h0m1-9h0m18-5h0m3 8h0m3 3h0m8 6h0m4-16h0m4-1h0m2 17h0m4-10h0m4 5h0m2 4h0m11-3h0m1-4h0m4 6h0m4-5h0m4 1h0m6-11h0m12 9h0m4-1h0m1 4h0m2-11h0m8 7h0m4-8h0m2 8h0m1 6h0m7-3h0m1-2h0m3-1h0m9-8h0m1 7h0m2 7h0m6-12h0m2 2h0m1 7h0m4-12h0m2 10h0m0 6h0m2-14h0m9 9h0m0 6h0m3-16h0m4 14h0m7-2h0m3-9h0m1-1h0m5 1h0m4 9h0m2-13h0m1 17h0m1-13h0m3 13h0m3 1h0m3-4h0m5 4h0m1-8h0m2-4h0m1-6h0m12 16h0m3 1h0m4-6h0m6 8h0m3-15h0m0 1h0m4 4h0m1-5h0m1 9h0m7-2h0m2-10h0m0 2h0m0 9h0m6 5h0m3-5h0m0 5h0m2-10h0m2-1h0m6-6h0m1 17h0m1-2h0m2 3h0m1-13h0m2 7h0m2 3h0m1-6h0m3-9h0m2 6h0m1 4h0m0 9h0m1-11h0m4-5h0m0 2h0m4-4h0m1 2h0m1-2h0m15 13h0m1 0h0m13-7h0m12 0h0m7-5h0m13 12h0m2 1h0m7-7h0m7 10h0m1-13h0m7-2h0m7 15h0m10-8h0m26-4h0m29 3h0m5 0h0m42-5h0m0 5h0m0 5h0m0 5h0m0 5h0m0 5h0m0 5h0m0 5h0m-10-15h0m-25 6h0m-4-9h0m0 16h0m-2-16h0m-4 7h0m-7 5h0m-13-13h0m-68 2h0m-19 8h0m-12-2h0m-4 0h0m-4 4h0m-8 7h0m-1-3h0m-11 2h0m-1-9h0m-35-8h0m-5-1h0m-2 0h0m-2 5h0m-1 1h0m-4 1h0m-3 1h0m0 9h0m-1-15h0m-4 11h0m-1-4h0m-6 6h0m-1-3h0m0 4h0m-4-13h0m0 16h0m-3-3h0m-3-12h0m-4-2h0m-2 3h0m-3 8h0m-1-9h0m-4 1h0m-2 6h0m-4 6h0m-5-10h0m-1-5h0m0 16h0m-4 1h0m-4-7h0m-9-5h0m-1 10h0m-1-7h0m-2-1h0m-4-5h0m0 11h0m-6-13h0m-2 15h0m-4-10h0m-2-1h0m0 9h0m-7-11h0m0 11h0m-19-15h0m-5 2h0m0 5h0m0 8h0m-1 2h0m-8-12h0m-3 1h0m-4 10h0m-3-14h0m-2 9h0m-1-2h0m-4 8h0m-9-8h0m-3 2h0m-5-8h0m0 3h0m-5 0h0m0 4h0m-3-3h0m-2 9h0m-1-5h0m-5-5h0m-1 2h0m-3 1h0m-5-6h0m-2 13h0m-7-7h0m-3-4h0m-7-3h0m0 4h0m-3-6h0m-5 13h0m-2-11h0m0 15h0m-1-3h0m-11-9h0m-1 0h0m-3 7h0m-17 1h0m-1 2h0m-5-11h0m-2 0h0m-1 11h0m-4-9h0m-8 12h0m-2-14h0m-1 4h0m0 8h0m-1-2h0m-3-13h0m-6 13h0m-1-4h0m-10-1h0m-1-3h0m-1 9h0m-2-9h0m0 7h0m0 1h0m-10-5h0m0 10h0m-1-16h0m-3 10h0m-6 3h0m-3-12h0m-4 1h0m-1 12h0m-4-12h0m-1 10h0m-1-13h0m-6 15h0m-3 2h0m-4-11h0m-2 1h0m-5-4h0m-2-3h0m-3 4h0m0 12h0m-2-12h0m0 9h0m-5-9h0m0 7h0m-6-1h0m-2-7h0m-1 13h0m-1-9h0m-1 8h0m-1 1h0m-1-17h0m-5 7h0m-5 8h0m-3-15h0m-3 10h0m-3-3h0m-3 9h0m-4-10h0m-1 2h0m-4-7h0m-1 8h0m0 9h0m-1 0h0m-3-17h0m0 12h0m-4-10h0m-2 14h0m-2-7h0m-5-8h0m-3 7h0m-6-5h0m0 12h0m-1-2h0m-3-10h0m0 13h0m-1-12h0m-4-2h0m-2 12h0m-3 3h0m-4-10h0m-2-8h0m-1 10h0m-1 3h0m-5-3h0m-6-5h0m-2-5h0m-3 11h0m-2-2h0m-3 2h0m-1-7h0m-1-4h0m0 11h0m-8-3h0m-3 0h0m0 1h0m-5 3h0m-2-7h0m-2 1h0m-2-2h0m-4-3h0m-1 10h0m-3 0h0m-11-6h0m-8-2h0m-1 2h0m-2-6h0m-1 14h0m-5 5h0m-5-11h0m0 7h0m-4 2h0m-1-6h0m-1-3h0m-8 2h0m-2-8h0m0 14h0m-1-3h0m-4-9h0m-5 10h0m-1-11h0m-3 14h0m-4-14h0m0 16h0m-1-14h0m-5-3h0m-2 11h0m0 1h0m-2 5h0m-4-13h0m-6-4h0m0 6h0m-1 2h0m-1 7h0m-2 2h0m-2-2h0m-5-10h0m0 8h0m-1-7h0m-4-6h0m-1 17h0m-5-13h0m-5 11h0m-3-10h0m0 4h0m-6-7h0m-5 12h0m-7-7h0m-1 2h0m0 3h0m-8 1h0m-7-13h0m0 11h0m-3-7h0m-1 11h0m-3 1h0m-10-14h0m-4 9h0m-4 4h0m-7 2h0m-13-1h0m-1-2h0m-4-5h0m-2-11h0m0 10h0m-1 5h0m-6-2h0m-3 6h0m-12-7h0m-12 6h0m-13-11h0m-10-2h0m0 4h0m-15-5h0m-2 2h0m-1-2h0m-21 0h0m-15 14h0m-5-1h0m-29-9h0m-2-6h0m-13 13h0m-2-14h0m-2-1h0m-14 2h0m-27 2h0m-152 10h0m1 8h0m48 17h0m1-1h0m31-16h0m6 15h0m2-1h0m105 3h0m16-18h0m8 2h0m12 2h0m4 2h0m10-5h0m15 14h0m3-14h0m4 10h0m1 3h0m1-14h0m4 8h0m8 7h0m5-4h0m0 7h0m13-11h0m10 10h0m6-14h0m1-3h0m3 0h0m6 2h0m1-2h0m3 4h0m7 3h0m1-8h0m8 18h0m5-1h0m1-13h0m2 2h0m3 3h0m1-5h0m1 3h0m0 10h0m8-10h0m3-4h0m5 5h0m1 2h0m3 7h0m2 1h0m3-14h0m1 12h0m2-5h0m4-9h0m1 11h0m1-8h0m8 9h0m1-11h0m4 5h0m1 7h0m1-10h0m4 7h0m3-7h0m3 0h0m2-5h0m0 14h0m1-9h0m10 10h0m2-3h0m2-2h0m0 5h0m2-11h0m9-1h0m2 9h0m6 0h0m0 4h0m0 2h0m1-12h0m2-4h0m1 6h0m6 4h0m2-5h0m1 10h0m2-6h0m6-2h0m3-8h0m6 4h0m1 9h0m1-9h0m4 8h0m4-9h0m4 6h0m3 3h0m1-10h0m4 1h0m2-2h0m0 12h0m3-3h0m2-6h0m6 2h0m1-4h0m1 13h0m2-7h0m8-7h0m0 8h0m6-5h0m2 6h0m1-11h0m7 7h0m4 1h0m4 8h0m1 2h0m3-12h0m5-4h0m0 7h0m5-1h0m1-5h0m3 0h0m2 14h0m2-2h0m2-12h0m1 2h0m0 8h0m4-4h0m2 5h0m1 3h0m3-17h0m3 4h0m7-1h0m0 3h0m6 10h0m10-9h0m2 2h0m9-2h0m1 7h0m1-9h0m10 9h0m2-11h0m4 9h0m3-12h0m2 17h0m1 0h0m1-12h0m4 1h0m1 12h0m6-4h0m2-12h0m3 2h0m1 7h0m1 7h0m2 1h0m1-7h0m3-6h0m2-6h0m5 0h0m6 11h0m5-9h0m7 0h0m3 17h0m1-14h0m1 3h0m2 10h0m1-11h0m2-7h0m1 14h0m0 4h0m2-7h0m0 6h0m1 2h0m8-1h0m2-18h0m2 19h0m8-5h0m1-13h0m4 16h0m9-14h0m4 4h0m2 1h0m3-1h0m3-6h0m3 18h0m2-5h0m1-1h0m2-9h0m14 6h0m19-4h0m11 11h0m4 0h0m9 1h0m4-1h0m7 0h0m5-13h0m3 6h0m3 4h0m0 5h0m2-4h0m2 2h0m2-11h0m9 10h0m7-11h0m1 2h0m6 7h0m2 0h0m1-12h0m3 9h0m2-6h0m5 9h0m4-14h0m1 5h0m3 6h0m4 4h0m2-14h0m0 1h0m2 6h0m1 10h0m3-17h0m2 7h0m4 4h0m1-7h0m3 7h0m1 4h0m2-13h0m0 1h0m4 13h0m3 1h0m1-2h0m2-10h0m10 13h0m2-17h0m5 5h0m1-6h0m0 16h0m3-4h0m4 6h0m1-17h0m6 15h0m2-12h0m4 8h0m3 2h0m5-3h0m1-1h0m5 4h0m2-12h0m5-2h0m5 16h0m4-7h0m10-9h0m0 17h0m3-7h0m1-11h0m0 15h0m12-1h0m3-9h0m1 10h0m6 0h0m4 4h0m3-12h0m2-4h0m0 3h0m2-4h0m2 1h0m2-1h0m39 4h0m16 5h0m2 3h0m4 5h0m1-11h0m1 4h0m7-6h0m0 3h0m7-5h0m1-1h0m52 8h0m17 3h0m7 4h0m4-4h0m2-13h0m7-1h0m1 12h0m6 5h0m1-4h0m28-6h0m23-3h0m15 2h0m5-6h0m19 4h0m0 5h0m0 5h0m0 5h0m0 5h0m0 5h0m0 5h0m0 5h0m-18-7h0m-7 0h0m-8 5h0m-44-1h0m-28-15h0m-17 4h0m-7 6h0m-1 4h0m-19-7h0m-9-3h0m-7 12h0m-40-8h0m-26 9h0m-1-8h0m-7 3h0m-4 5h0m-2-8h0m-2 9h0m-3 0h0m-11 0h0m-29-19h0m-5 5h0m-5 6h0m-1 7h0m-1-8h0m-7 0h0m-3-1h0m0 10h0m-3-16h0m-1 10h0m-2 3h0m-6-15h0m0 4h0m-1 14h0m-6-9h0m-4-4h0m-1-4h0m-5 10h0m-3-10h0m0 9h0m-2 8h0m-5-15h0m0 14h0m-4-9h0m-2 0h0m-3 6h0m-2-1h0m-1-11h0m-8 6h0m-4 0h0m-2-9h0m-2 7h0m-1 2h0m0 6h0m-4 3h0m-6-8h0m-2-7h0m0 6h0m-7 1h0m-1-8h0m-5 12h0m-3 4h0m-1-7h0m-2-3h0m-3 10h0m-3-12h0m-1 4h0m-1 2h0m-1-9h0m-1 6h0m-3-6h0m-4 4h0m-5 0h0m-2-6h0m-5 3h0m-3-4h0m-2 15h0m-1-11h0m-1 8h0m-1 0h0m-1-5h0m-19-6h0m-1 3h0m0 11h0m-8-14h0m-11 16h0m-1-15h0m-1 16h0m-1 1h0m-2-19h0m-3 9h0m-3 5h0m-1-6h0m-4 6h0m0 2h0m-10-1h0m-4 1h0m-3 0h0m-8-5h0m-1-2h0m-1-5h0m-5 3h0m-2 3h0m-6-7h0m-7 6h0m-2-6h0m-22 1h0m-4 15h0m-1-13h0m-9 4h0m-3 3h0m-2-3h0m-2-6h0m0 10h0m-8 2h0m-12-16h0m-7 16h0m-1-14h0m-4-2h0m-11 1h0m-2 3h0m-2 12h0m-6-3h0m-4-13h0m-1 18h0m-1-17h0m-4 2h0m0 16h0m-5-19h0m-1 12h0m-2-12h0m-2 19h0m-1 0h0m-2-14h0m-3-5h0m-5 5h0m0 3h0m-3 2h0m-3 6h0m-2-2h0m-7-4h0m-3 9h0m-16-5h0m-3-10h0m-4 10h0m-5 0h0m-2-9h0m-7-1h0m-4 7h0m0 7h0m-6-16h0m-1 3h0m-1 0h0m-8 3h0m-2-7h0m-1 18h0m-6-17h0m-3 3h0m-7-5h0m-6 17h0m-5-9h0m-43 5h0m0 6h0m-3-14h0m-6 11h0m-2 0h0m-1-14h0m0 15h0m-6-3h0m-3-7h0m-3 4h0m-2-11h0m-1 19h0m-2-13h0m-3-4h0m-1 16h0m-5-8h0m-2 0h0m-7-10h0m0 1h0m0 14h0m-5-6h0m-3-2h0m-3 1h0m-9-5h0m-4 2h0m-3 10h0m-1-10h0m-4 3h0m-2 10h0m-4-11h0m-1-7h0m-2 16h0m-4 3h0m-3-18h0m0 8h0m-5-9h0m-3 15h0m-1-13h0m-1 9h0m-3 5h0m-6-11h0m-3 4h0m-3-4h0m0 10h0m-4-6h0m-6-5h0m-1 15h0m-1-15h0m-1-3h0m-2 10h0m-2 1h0m-2 1h0m-1 5h0m-7-14h0m0 10h0m-1-14h0m-4 12h0m-1-11h0m0 11h0m-1 3h0m-6-15h0m-1 12h0m-1-12h0m-7 17h0m-2 1h0m-2-7h0m-2-1h0m-6-8h0m-2 8h0m-11 8h0m-1-13h0m-10 3h0m-2 0h0m-1 6h0m-2-5h0m-5-6h0m-1 13h0m-2-1h0m-6-13h0m-24 8h0m-52-1h0m-8-6h0m-15 11h0m-159 2h0m115 11h0m14 12h0m21-10h0m4-6h0m16 13h0m14-6h0m31 0h0m1-7h0m0 2h0m5 2h0m4-6h0m8 1h0m0 12h0m13 3h0m9-14h0m4 3h0m0 10h0m1-5h0m7 1h0m2-7h0m4-3h0m0 9h0m7 2h0m5 5h0m1-14h0m4 10h0m1-6h0m6-4h0m6 8h0m3-11h0m9 2h0m3-1h0m1 1h0m5 2h0m1-4h0m1 10h0m3 7h0m3-6h0m1-9h0m1 5h0m5 11h0m6-9h0m4 1h0m3 1h0m3-12h0m0 16h0m4-9h0m4 12h0m1-9h0m4-8h0m0 1h0m3 11h0m1-9h0m5 5h0m1 6h0m4-9h0m3 11h0m2 1h0m2-11h0m6-5h0m0 15h0m4-12h0m0 7h0m7-6h0m10-6h0m1 6h0m2 5h0m0 7h0m7-3h0m1-2h0m9-2h0m4 4h0m5 1h0m1-10h0m8-2h0m4-1h0m1 8h0m3 5h0m5-12h0m2 7h0m1 3h0m4 2h0m7-10h0m9-7h0m12 12h0m1 2h0m1 4h0m8 1h0m7-19h0m0 14h0m7-9h0m3 11h0m1-4h0m1 6h0m3-9h0m7 10h0m1-14h0m7 2h0m4 4h0m1-8h0m0 12h0m1 3h0m5-2h0m2-8h0m0 8h0m7 1h0m3-8h0m7-9h0m0 7h0m10-4h0m3 11h0m3-12h0m1 6h0m5 9h0m7-3h0m1-4h0m2-7h0m6 10h0m2-11h0m1-1h0m2 2h0m0 13h0m1-13h0m0 9h0m3 5h0m3-8h0m0 8h0m4-11h0m2 6h0m3-12h0m2 14h0m1-9h0m1 12h0m3-14h0m3 10h0m3-4h0m2 7h0m1 1h0m1-14h0m5 15h0m2-3h0m1-8h0m7 11h0m2-10h0m2 0h0m2 9h0m4-13h0m2 2h0m0 10h0m3-14h0m4 9h0m1-1h0m2 4h0m4-10h0m2-1h0m5-3h0m2 16h0m4 1h0m1-12h0m2-4h0m1 3h0m1 5h0m2 10h0m5-19h0m2 4h0m4 3h0m3-6h0m1 5h0m4 8h0m2-1h0m2-10h0m7 15h0m2 1h0m4-3h0m7-14h0m7 6h0m4 8h0m7 2h0m2-16h0m0 5h0m1 3h0m1 6h0m2-15h0m3 11h0m3-6h0m2 12h0m4-3h0m2-7h0m2-5h0m1 4h0m1 4h0m7-8h0m1 15h0m2-15h0m3 4h0m6-4h0m1 16h0m1-7h0m7-5h0m0 7h0m2-9h0m1 13h0m5-14h0m2 11h0m9-4h0m2-10h0m5 0h0m0 5h0m1-4h0m3 6h0m0 5h0m10 1h0m4-11h0m1 2h0m2-4h0m5-1h0m8 0h0m10 19h0m1-4h0m6-5h0m2 0h0m3-4h0m4-6h0m1 13h0m1-5h0m4 5h0m1-5h0m2 4h0m0 2h0m1-11h0m7 4h0m3 4h0m5-6h0m7 10h0m1-11h0m0 2h0m2 1h0m0 6h0m6-12h0m0 4h0m0 10h0m6-2h0m2-13h0m1 10h0m1 8h0m4-11h0m1 4h0m0 4h0m3-12h0m1 4h0m6-2h0m2-2h0m17 1h0m2 11h0m5-8h0m19 12h0m7-3h0m8-4h0m2-2h0m6-7h0m0 4h0m6 5h0m1-9h0m1 14h0m1-15h0m0 8h0m6 4h0m7-14h0m3 11h0m6 8h0m8-5h0m5 1h0m12-9h0m0 8h0m1 1h0m2-15h0m9 13h0m7 2h0m5 4h0m7-4h0m6-7h0m1 3h0m1 0h0m5-3h0m11-7h0m6 0h0m1 15h0m8 1h0m13-17h0m3 5h0m26 6h0m1-6h0m3 10h0m14-11h0m6-4h0m5 12h0m7-3h0m8-3h0m7-5h0m2 2h0m3 7h0m37-6h0m0 5h0m0 5h0m0 4h0m0 5h0m0 5h0m0 5h0m0 5h0m-86-14h0m-2 1h0m-4 4h0m-2-1h0m-2 2h0m-5 3h0m-2 1h0m-3-7h0m-3 9h0m-11-10h0m-66-5h0m-3 1h0m0 1h0m-1 12h0m-4-9h0m-7-4h0m0 7h0m-17 2h0m-7-5h0m-4-5h0m-5 11h0m-18 0h0m-26-2h0m-4-3h0m-1-5h0m-4 13h0m-4-8h0m-1-1h0m-4 4h0m-2-7h0m0 7h0m-1 2h0m-5 4h0m-2-1h0m-1 1h0m-15 0h0m-12-3h0m-1 3h0m-10-3h0m-2-8h0m-9-2h0m-6 11h0m-3-8h0m-4 2h0m-7-8h0m-2 15h0m-2 1h0m-2-14h0m-7 1h0m-8 2h0m-2 9h0m-2-13h0m0 17h0m-3-17h0m0 3h0m-3 2h0m-1 12h0m-2-9h0m-1-6h0m0 6h0m-1-3h0m-7 8h0m-1-11h0m0 4h0m-3 4h0m-2 8h0m-6-5h0m-8 2h0m-3-2h0m-30 1h0m-3-10h0m-1-4h0m-2 18h0m-7-5h0m-2-11h0m-1 2h0m-1 14h0m-5-6h0m-3 4h0m-2 1h0m-1-7h0m-2-7h0m-4 1h0m0 9h0m-2 3h0m-1-15h0m-5 8h0m-3-6h0m-3 8h0m-7-7h0m-1 7h0m-4-9h0m0 15h0m-4-14h0m-5 6h0m-2-2h0m-4 0h0m-4-5h0m-3 14h0m-1-9h0m-6 11h0m-8-3h0m-5-12h0m-6 12h0m-1-8h0m-3-6h0m-3 6h0m-1-2h0m-6 10h0m-4-11h0m-6-3h0m0 14h0m-3 3h0m-4-19h0m-2 6h0m-5-1h0m-3 10h0m-2-12h0m0 16h0m-9-16h0m0 6h0m-2 5h0m-1 5h0m-1-12h0m0 4h0m-7-6h0m-1-2h0m0 13h0m-8-9h0m-3-1h0m-3 1h0m-3 10h0m-3-12h0m0 5h0m-4-7h0m-1 3h0m-4 6h0m-2-7h0m-3 8h0m-2-9h0m-1-4h0m-6 11h0m-1 5h0m-6-6h0m-2 3h0m-3-13h0m-4 18h0m-12-1h0m-12 2h0m-2-16h0m0 8h0m-4-11h0m-3 15h0m-4-4h0m-3-1h0m-2 8h0m-1-13h0m-1 6h0m-2-7h0m-1 6h0m-6-2h0m0 9h0m-2-6h0m-3 3h0m-5-10h0m-2 12h0m-6-7h0m-1-6h0m-1 14h0m-2 2h0m-2-17h0m0 6h0m-3 1h0m-2 1h0m-3 7h0m-1-11h0m-1 2h0m-3-7h0m-2 14h0m-2-10h0m-3 2h0m-8 1h0m-15 0h0m-5 9h0m-12-10h0m-7 6h0m-9 6h0m-11-6h0m-1-13h0m-8 12h0m-3-2h0m-2-10h0m-1 14h0m-3-5h0m-2 0h0m-7-8h0m-4 3h0m0 15h0m-2-10h0m-4 1h0m-2-3h0m-7-4h0m-3 11h0m-5-12h0m-2 1h0m-3 4h0m-1-3h0m-3 14h0m-3-9h0m-1 0h0m0 5h0m-1 0h0m-6-14h0m-1 17h0m-4 0h0m-5-9h0m-4-7h0m-1 18h0m-1-7h0m-4 5h0m-2-14h0m0 16h0m-8-18h0m-5 5h0m-3 10h0m-1-11h0m0 3h0m-3 1h0m0 4h0m-1-7h0m-3 11h0m-2 0h0m-7-15h0m0 7h0m-2-3h0m-7-3h0m-6 4h0m-1-3h0m-4 0h0m0 3h0m0 11h0m-5-3h0m-2-6h0m-2 9h0m-5-13h0m-1-3h0m-2 9h0m-1-9h0m-4 14h0m-1-10h0m-6-3h0m-2 11h0m-6 2h0m-2-6h0m-1 8h0m-20-4h0m0 5h0m-5-13h0m-1 2h0m0 7h0m-3-13h0m-7 16h0m-6 0h0m-4-1h0m-48-12h0m-22 14h0m-7-17h0m-21 9h0m-59-9h0m-1 15h0m-15-6h0m-3-4h0m-6-4h0m-13 15h0m-48 6h0m54 7h0m23-5h0m12-1h0m31 10h0m6 4h0m7-18h0m6 13h0m4-12h0m20 13h0m19-15h0m2 4h0m14 12h0m16-10h0m17-4h0m7 7h0m1-2h0m9 12h0m3-9h0m1 2h0m5 7h0m5-7h0m2-2h0m4-3h0m1-2h0m0 11h0m6-7h0m0 6h0m6-3h0m14-10h0m2 1h0m8 6h0m2-4h0m1 9h0m2-8h0m1-1h0m5-4h0m2 12h0m1-5h0m4-5h0m4-2h0m0 14h0m6-9h0m7-1h0m1-5h0m7 11h0m5 0h0m3-3h0m4 10h0m3-14h0m2-4h0m6 8h0m6-7h0m2 3h0m3 11h0m5-8h0m4 3h0m9-1h0m2-9h0m7 10h0m4 0h0m3 7h0m4 1h0m2-14h0m2 3h0m2-1h0m2 10h0m4-14h0m6-1h0m4 4h0m0 9h0m4 3h0m1-1h0m2-16h0m4 3h0m3 12h0m2-12h0m8 3h0m33-5h0m4 17h0m6-10h0m1 7h0m6-9h0m4 8h0m5-3h0m25-3h0m15 9h0m2-9h0m5-6h0m1 11h0m4-11h0m2 6h0m5-8h0m1 11h0m5-9h0m1 6h0m2-6h0m3 5h0m8 5h0m5-6h0m2-6h0m2 7h0m2-6h0m9 6h0m0 3h0m1 5h0m6-10h0m1 2h0m7-6h0m0 6h0m1 3h0m0 6h0m4 3h0m3-8h0m3-7h0m0 14h0m2-3h0m5-13h0m0 5h0m1 6h0m5-11h0m1-2h0m4 18h0m1-3h0m3-14h0m0 3h0m0 11h0m1-11h0m2 12h0m1-16h0m4 16h0m6-2h0m1 4h0m1-14h0m3 12h0m1-3h0m2 0h0m2-4h0m1-7h0m6 14h0m3-10h0m0 12h0m2-8h0m5-1h0m1 5h0m3-12h0m6 2h0m2 6h0m0 6h0m3-2h0m1-14h0m0 6h0m3-6h0m8 9h0m2-8h0m2-1h0m2 14h0m2-9h0m3 10h0m3-8h0m1 1h0m1 9h0m4-14h0m2 5h0m1 0h0m3-4h0m4-1h0m0 3h0m5 4h0m0 4h0m6-8h0m0 10h0m4-9h0m5 1h0m2-8h0m0 15h0m4-6h0m2-3h0m3-6h0m4 19h0m1-17h0m1 4h0m2-1h0m6 10h0m2-6h0m11-9h0m7 7h0m1 10h0m5-3h0m2-9h0m12 1h0m9 11h0m7-3h0m4-4h0m6 4h0m1-2h0m2-8h0m4 15h0m3-9h0m5-9h0m4 2h0m7-1h0m1 17h0m5-9h0m2-6h0m4-3h0m3 1h0m9-1h0m2 1h0m1 6h0m5 4h0m2-4h0m2 1h0m1 3h0m5-2h0m1 4h0m1-11h0m2 14h0m1-15h0m6 4h0m5 6h0m1 5h0m2-11h0m4 0h0m13-6h0m14 4h0m5 5h0m4 4h0m2-6h0m0 5h0m6-3h0m6-9h0m1 5h0m9 1h0m12 2h0m8 9h0m32-12h0m3-3h0m4 10h0m1-4h0m1 3h0m8-4h0m0 11h0m4-6h0m4-2h0m7-5h0m5 14h0m1-16h0m4 7h0m6 6h0m29-10h0m4 7h0m25 1h0m8 2h0m7-4h0m8-8h0m2 5h0m2 10h0m27-15h0m19 4h0m5 3h0m15 4h0m4-2h0m24 4h0m7-2h0m8-2h0m2 0h0m17-10h0m0 5h0m0 5h0m0 5h0m0 5h0m0 5h0m0 5h0m0 5h0m-39-16h0m-3 1h0m-20 6h0m-2-4h0m-6 12h0m-16-7h0m-6 7h0m-35-2h0m-33-15h0m-7 3h0m0 3h0m-8 5h0m-5 0h0m-2 0h0m-5 5h0m-2-4h0m-19-6h0m-8 11h0m-20-1h0m-13-14h0m-3 3h0m-6 0h0m-3 0h0m-3 1h0m-4-3h0m-4 6h0m-4 4h0m-3-2h0m0 5h0m-7 0h0m-1-1h0m-2-9h0m-5 2h0m-6-6h0m-19-2h0m-10 0h0m-22 1h0m-8 15h0m-1-8h0m-4 1h0m-2 0h0m-11 5h0m-21 1h0m-10-14h0m-9-1h0m-7 5h0m-2 7h0m-9 1h0m-5 6h0m-12 0h0m-7-7h0m-4 4h0m-1-5h0m-3-6h0m-3-3h0m-1-1h0m-2 14h0m-3-15h0m-3 9h0m-2-6h0m-8 4h0m0 3h0m-2-1h0m-2-4h0m-9 5h0m-20-9h0m-2 12h0m-4-9h0m0 1h0m-3 1h0m-2 5h0m-4-8h0m-5 7h0m-2 4h0m0 1h0m-2-10h0m-4 0h0m-1 1h0m-7-6h0m0 9h0m-4 4h0m-6-2h0m-2-4h0m-1-5h0m-2 6h0m0 6h0m-4-4h0m-3-6h0m-1 6h0m-4-10h0m-2 17h0m-6-2h0m-4-5h0m-2-8h0m-1 2h0m-3 11h0m-3 2h0m-1-6h0m-3 1h0m-2-5h0m-3 4h0m-7-3h0m-2 0h0m-5 4h0m-1 6h0m-1-13h0m-2 7h0m-1-7h0m-1 10h0m-8 3h0m-2-18h0m0 5h0m-6 3h0m-1 8h0m-5 0h0m-3-15h0m-1 2h0m-7-3h0m-4 5h0m0 10h0m-1-9h0m-2 11h0m-1-7h0m-1-7h0m-2 10h0m-1 3h0m-2-2h0m-3-2h0m-3-2h0m-1 1h0m-1-7h0m-4 13h0m-6 2h0m-4-14h0m-1 10h0m-1-12h0m-1 4h0m-5 4h0m-3-8h0m-1 11h0m-2-2h0m-8-3h0m-3 8h0m-6 1h0m-2-9h0m-2 10h0m-21-4h0m-6-8h0m-3 8h0m-5-10h0m-5 3h0m-8-2h0m0 13h0m-4-2h0m-43-11h0m-4 3h0m-14-4h0m-4 10h0m-6-9h0m-6-6h0m-10 19h0m-4-8h0m-7-6h0m-9 4h0m-2-2h0m-15 9h0m-2-10h0m0 9h0m-1-11h0m-6-3h0m-1 13h0m0 5h0m-2-8h0m-2-9h0m-5 1h0m-3 11h0m-1-6h0m-2 8h0m-5-9h0m-4 7h0m-2-4h0m0 8h0m-6-7h0m-1-11h0m-6 5h0m-1 7h0m-4-4h0m-8-2h0m-1-2h0m-2 15h0m-1-9h0m-4 3h0m-7-9h0m0 12h0m-5-8h0m-5 4h0m-2 4h0m-2-5h0m-4-5h0m-1 13h0m-5 0h0m-2-9h0m-7-8h0m-4 17h0m-1-14h0m-5 6h0m-2 0h0m-1 8h0m-8-3h0m-2-10h0m-1 13h0m-4-14h0m-2 5h0m-3 6h0m-10-5h0m-5 6h0m-2-13h0m-9 10h0m-5 3h0m-4 2h0m-4-5h0m-20 3h0m-1-11h0m0 9h0m-10-8h0m0 8h0m-3-9h0m-23-2h0m-14 8h0m-39 2h0m-6-14h0m-47 2h0m-5 17h0m-46-6h0m-42-1h0m27 17h0m22 2h0m8 0h0m3 4h0m7-8h0m56 4h0m34-4h0m15-5h0m2 2h0m1 3h0m0 9h0m2-8h0m3 8h0m28-16h0m0 15h0m21-6h0m1-6h0m0 9h0m7 7h0m3-10h0m0 9h0m16-2h0m3-12h0m3 10h0m3-5h0m0 7h0m2-5h0m4 4h0m2 3h0m1-13h0m7 6h0m3-5h0m8-6h0m6 16h0m1-9h0m4-7h0m4 17h0m3-7h0m3-8h0m2 10h0m1-8h0m5 5h0m3 3h0m1 0h0m1-3h0m1-6h0m4 16h0m1-18h0m3 15h0m3-9h0m4-2h0m2-3h0m0 10h0m7-7h0m1-1h0m0 7h0m4 4h0m1-10h0m2-5h0m4 13h0m2-13h0m0 10h0m0 8h0m8-11h0m12 7h0m7 2h0m2-15h0m22 5h0m3 9h0m52-13h0m1 10h0m46-7h0m2 10h0m5-12h0m28-2h0m1 10h0m0 1h0m11 0h0m15-6h0m25-3h0m8 1h0m0 4h0m9 1h0m1-6h0m0 5h0m4-4h0m3-2h0m1 2h0m0 10h0m4-13h0m4 3h0m0 10h0m6-11h0m1 9h0m0 5h0m5-9h0m8-2h0m2-6h0m3 4h0m2 6h0m2 7h0m1 0h0m2-9h0m2 0h0m8 10h0m1 1h0m5-15h0m3 2h0m3-5h0m0 17h0m2-9h0m1 9h0m1-13h0m6-3h0m2 12h0m2 2h0m6-6h0m2 3h0m2 0h0m2 5h0m2-15h0m2 0h0m1 8h0m1 6h0m6-9h0m3-2h0m1 5h0m6-11h0m0 15h0m4-2h0m6-2h0m5-3h0m3-5h0m5 3h0m9-4h0m2 15h0m1-9h0m9 5h0m3-6h0m1 3h0m7 0h0m5 8h0m1-18h0m3 14h0m5-1h0m4-8h0m20 7h0m2-8h0m15 12h0m14-3h0m10 5h0m3-2h0m6-2h0m3-4h0m1-4h0m5-1h0m1 5h0m2-1h0m1-7h0m3 1h0m6 1h0m1 0h0m17 11h0m2-10h0m19 3h0m0 7h0m6-3h0m8-3h0m6 7h0m14-3h0m12-12h0m1 13h0m0 2h0m16-13h0m1 2h0m10 13h0m1-13h0m5 1h0m1 8h0m1 3h0m2-15h0m1 15h0m1-5h0m4-1h0m4 1h0m2-3h0m1 0h0m4-5h0m0 3h0m3-1h0m5 11h0m2-17h0m0 3h0m26 1h0m13 7h0m2 0h0m20 6h0m0 1h0m4-8h0m2-8h0m2 13h0m0 4h0m7-6h0m1 1h0m7-7h0m0 2h0m8-3h0m23 9h0m25-7h0m27 1h0m10 6h0m19-6h0m4-5h0m13 0h0m7-1h0m77 0h0m0 5h0m0 5h0m0 5h0m0 5h0m0 5h0m0 5h0m0 5h0m-24-4h0m-7 3h0m-1-16h0m-10 6h0m-15 12h0m-49-16h0m-21 3h0m-1-4h0m-4 1h0m-3 1h0m-4 2h0m-2 3h0m-6-2h0m-2 7h0m-5 0h0m-2 4h0m-5 1h0m-13-14h0m-61 13h0m-8-13h0m-8 2h0m-40-7h0m-9 1h0m-6-1h0m-1 15h0m-3-10h0m-1 5h0m-13 0h0m-9-7h0m-2 6h0m-3-6h0m-3 13h0m-8-13h0m0 9h0m-1 6h0m-2-16h0m-4 15h0m-17 2h0m-19-3h0m-3 0h0m-1-15h0m0 3h0m-1 7h0m-18 3h0m-7-13h0m-8 7h0m-21 3h0m-5 4h0m-7-6h0m-12 10h0m-9-17h0m0 10h0m-5 1h0m-7 2h0m-6-6h0m-15-2h0m0 10h0m-4-12h0m-4 9h0m-4-2h0m-11-7h0m-19-3h0m-8 2h0m-5 15h0m-16-4h0m-4 4h0m-4-12h0m-8-5h0m-3 6h0m-1 2h0m-8-9h0m-3 9h0m-2-3h0m-1-6h0m-1 17h0m-6-3h0m-1-13h0m-1 3h0m-2-1h0m-1 15h0m-4-16h0m-1 10h0m-1-2h0m-1-7h0m-9 1h0m-4-5h0m-7 5h0m-2-4h0m-4 3h0m-2 9h0m-1-10h0m0 14h0m-3-15h0m-9 9h0m0 8h0m-3-9h0m0 6h0m-2-13h0m-2-3h0m-5 7h0m-4-7h0m0 3h0m-7 1h0m0 6h0m-2 5h0m-3-4h0m0 4h0m-4-10h0m-3 5h0m-4 4h0m-5 0h0m-2 1h0m-2 0h0m-7-6h0m-1-7h0m-2 15h0m-1 2h0m-4-15h0m0 6h0m0 7h0m-8-3h0m-1-6h0m-11 8h0m-3-10h0m-6-6h0m-2 15h0m-3-4h0m-2-9h0m-14 1h0m-21 16h0m-29-6h0m-23 2h0m-2-10h0m-7 10h0m-23-6h0m0 10h0m-48-14h0m-2 10h0m-11-13h0m-22 6h0m-4 10h0m-3-9h0m-3-7h0m-1 6h0m-34-8h0m-6 0h0m-2 19h0m-2-9h0m-1-9h0m-5 6h0m0 7h0m-9 3h0m-1-17h0m0 11h0m-1-5h0m-1 6h0m-4-10h0m-2 15h0m-2 0h0m-1-13h0m-3 4h0m-1-7h0m0 17h0m-5 1h0m-6-2h0m-2 0h0m-3-9h0m-1 4h0m-2-7h0m-1 7h0m-3-11h0m-2 15h0m-1-9h0m-5 10h0m-2-4h0m-9-5h0m-2-2h0m-1 3h0m0 4h0m-11 4h0m-1-7h0m0 8h0m-1-18h0m0 15h0m-4-10h0m-7 3h0m-1 10h0m-7-5h0m-6-10h0m-16-1h0m-7 4h0m-15-1h0m-35 12h0m-7-10h0m-22-4h0m40 30h0m1-7h0m12 3h0m11 6h0m1-1h0m4 1h0m4-14h0m8 6h0m10-7h0m1 7h0m0 6h0m7 0h0m3 1h0m2 2h0m8-6h0m0 6h0m5 0h0m2-15h0m3 16h0m4-13h0m3 3h0m2-7h0m1 4h0m7 6h0m0 2h0m1-12h0m1 2h0m6-2h0m1 12h0m3 7h0m3-13h0m5 8h0m1-3h0m1 7h0m4-4h0m1-6h0m6-7h0m2 11h0m3-7h0m4 10h0m21-15h0m1 5h0m9 2h0m19 2h0m6 8h0m34-17h0m45 11h0m6-9h0m37 11h0m27-5h0m9 5h0m35 5h0m35-3h0m2 4h0m7-7h0m0 7h0m10-18h0m5 5h0m3 9h0m10-10h0m3 11h0m8-10h0m3 3h0m1 10h0m4-6h0m7-7h0m3-2h0m1 11h0m0 2h0m2-6h0m2 3h0m12 5h0m4-15h0m0 13h0m2-4h0m3-5h0m1-5h0m2 11h0m4 4h0m3-16h0m1 10h0m1-7h0m1 6h0m5 5h0m4-16h0m0 7h0m2 1h0m3 8h0m3-6h0m4 8h0m5-4h0m6-2h0m4-1h0m1 7h0m5-14h0m4 5h0m11-4h0m2-3h0m4-2h0m16 0h0m4 2h0m10 1h0m1 9h0m1 5h0m7-7h0m9-2h0m9-3h0m26 2h0m10 12h0m5-4h0m8-2h0m7-10h0m9-2h0m7 13h0m14-5h0m2 5h0m3-7h0m2 6h0m8-12h0m4 16h0m0 1h0m1-7h0m10-1h0m1 1h0m11-5h0m2-6h0m1 3h0m20 2h0m16 14h0m2-3h0m6-1h0m6-11h0m1 2h0m0 5h0m2 4h0m10 3h0m44-15h0m1 1h0m10 15h0m22-10h0m7-3h0m99 0h0m18-3h0m130-3h0m36 17h0m3-14h0m0 5h0m0 4h0m0 5h0m0 5h0m0 4h0m0 3h0m-51 5h0m-31-11h0m-12 3h0m-1-2h0m-7 3h0m-3 3h0m-8 5h0m-7 1h0m-12-10h0m-24 6h0m-57-11h0m-8 6h0m-7 2h0m-4-2h0m-25 2h0m-48-1h0m-14 1h0m-3-8h0m-25 12h0m-7 6h0m-7-15h0m-8 5h0m-4-2h0m0 8h0m-11 1h0m-3-10h0m0 7h0m-2-7h0m-8 3h0m-9-7h0m-1 0h0m-5 6h0m-3-5h0m-3 9h0m-1-5h0m-3 4h0m-4 4h0m-1 0h0m-2 1h0m-5 2h0m-13 0h0m-7-8h0m-2-4h0m-5-6h0m0 17h0m-8-8h0m-6-1h0m0 2h0m-7-4h0m-5-1h0m0 5h0m-24 8h0m-2-2h0m-5 1h0m-15-11h0m-3-3h0m0 7h0m-9-6h0m-3 10h0m-9-1h0m-11 3h0m-1 2h0m-12-17h0m-1 6h0m0 6h0m-7-4h0m-3-9h0m-60 7h0m0 7h0m-2-3h0m-3 2h0m-1-13h0m-6 9h0m-6 7h0m-3-3h0m-3-10h0m0 8h0m-2-9h0m0 3h0m-7 7h0m-2-12h0m-4 6h0m-8-6h0m-12 2h0m-8 1h0m-11-1h0m-1 4h0m-1 12h0m-7-9h0m-3-7h0m0 10h0m-3-6h0m-8 11h0m-1-12h0m0 5h0m0 9h0m-8-8h0m-3 8h0m-2-2h0m-8-7h0m0 9h0m-5-3h0m-1-5h0m-3-3h0m-1-6h0m0 7h0m-1 4h0m-7-1h0m-1-8h0m-7 6h0m-2-1h0m-5 9h0m-28-8h0m-1 7h0m-19-15h0m-9 0h0m-18 8h0m-4-9h0m-46 3h0m-4 9h0m-93 3h0m-10-14h0m0 10h0m-7-9h0m-3 4h0m-3-5h0m-2 9h0m-2 8h0m-5-17h0m-2 9h0m-3 8h0m-12-14h0m-7-2h0m-7 9h0m-4-11h0m-1 7h0m-2 9h0m-5-3h0m-1-13h0m-1 6h0m-7-6h0m-6 10h0m-3-5h0m-2-2h0m-3 12h0m-4-2h0m-3-5h0m-7-9h0m0 12h0m-1-10h0m0 7h0m-2-5h0m-8 4h0m-3-1h0m-1-6h0m0 18h0m-8-7h0m-3-1h0m-3 3h0m-7-13h0m-13 4h0m-7 1h0m-16 2h0m-3 0h0m-1 4h0m-9 3h0m-4-14h0m0 3h0m-4 3h0m-9 4h0m-21-11h0m0 5h0m-53-2h0m46 32h0m7-6h0m6 6h0m14-8h0m21 2h0m13-3h0m6 2h0m13-5h0m1-3h0m0 8h0m1 9h0m3 2h0m4-2h0m7-7h0m3-4h0m2-6h0m1 10h0m3-5h0m3-5h0m1 1h0m3 10h0m3-7h0m4-4h0m3 17h0m1-4h0m1-1h0m5-7h0m1-4h0m10 11h0m3-9h0m2 12h0m4 4h0m2-17h0m3 0h0m2 2h0m0 12h0m5-3h0m1-6h0m5-5h0m29 15h0m17-17h0m23 4h0m4 3h0m11 6h0m215-11h0m3 8h0m5-7h0m9 0h0m1 4h0m7 6h0m2-8h0m0 9h0m1-14h0m4 8h0m2 1h0m1 1h0m7-6h0m7-1h0m5 10h0m2 0h0m1-7h0m5-4h0m2 9h0m3-11h0m4 9h0m7-8h0m1 7h0m3 2h0m7 0h0m16 3h0m2-9h0m5 14h0m7-7h0m14-4h0m3 5h0m7-2h0m44-6h0m0 7h0m9-6h0m0 12h0m6-8h0m4 10h0m5-1h0m3-3h0m5-12h0m3 12h0m2-1h0m2-4h0m3-6h0m2-3h0m0 18h0m5-1h0m21-3h0m2-1h0m1-5h0m13 7h0m4-10h0m4 11h0m12-16h0m3 0h0m5 9h0m2 0h0m1-9h0m1-1h0m5 7h0m10 11h0m2-15h0m4 13h0m6-1h0m2 1h0m2-11h0m2 11h0m4 0h0m7-7h0m3 2h0m5-3h0m1 11h0m20-17h0m7 11h0m3 3h0m8-6h0m18-5h0m2 11h0m2-15h0m19 7h0m5 0h0m3-5h0m43-2h0m13 13h0m16 3h0m7-6h0m7-2h0m2 4h0m6-10h0m7 3h0m10-4h0m72 3h0m19 8h0m8-9h0m2 2h0m6-2h0m1-1h0m7 0h0m131 7h0m4 1h0m0 4h0m0 8h0m-17 12h0m-61 1h0m-8 2h0m-100-18h0m-7 5h0m-8 5h0m-3-1h0m-54-2h0m-65 1h0m-7 6h0m-8 5h0m-55-13h0m-4-6h0m-6 3h0m-2 2h0m-6 4h0m-1 1h0m-7 4h0m-7 0h0m-1 0h0m-29-4h0m-6 7h0m-5-9h0m-9-4h0m-7 4h0m-6-7h0m-2 7h0m-2 0h0m-14 6h0m-8 5h0m-5-7h0m-9-11h0m-6 10h0m-2-5h0m-6 9h0m-10 1h0m-13-11h0m-3 8h0m-2-7h0m-7 1h0m-20 9h0m-1-5h0m-2 6h0m-2-14h0m-4 2h0m-7 4h0m-2 2h0m-3 3h0m-1 1h0m-39-10h0m-78-4h0m-4 0h0m-8 1h0m-28-2h0m-1 9h0m-6-1h0m-6 0h0m-2 8h0m-10-2h0m-5-14h0m0 11h0m-8-2h0m0 9h0m-3-6h0m-13-4h0m-1 8h0m-8-8h0m-175 6h0m-78 1h0m-3-11h0m-2 13h0m-3-10h0m-5-5h0m-30 11h0m-3-12h0m0 13h0m-1-5h0m-4 7h0m-4 2h0m-3-14h0m-2 7h0m-9-1h0m-3-10h0m-5 14h0m-2-7h0m-2 3h0m-10 8h0m-6 0h0m-4-1h0m-3-8h0m-3 0h0m-14 5h0m0 3h0m-3-10h0m-2 4h0m-26-5h0m-51-1h0m-14 11h0m-2 2h0m-16-1h0m-23 9h0m13-4h0m2 1h0m5-1h0m12 7h0m11 10h0m1-11h0m0 2h0m12-2h0m2-7h0m14 17h0m9-16h0m0 13h0m3 2h0m23-15h0m0 17h0m13-5h0m8-9h0m8 4h0m4-1h0m6 10h0m6-2h0m8-14h0m0 12h0m2-3h0m6 4h0m6-8h0m5-5h0m1 12h0m8-14h0m0 7h0m5-4h0m7-2h0m5 11h0m8-5h0m5-3h0m1 0h0m3-2h0m31 12h0m52-3h0m25-7h0m6 1h0m22 4h0m132-4h0m38 3h0m4 5h0m2-13h0m1 14h0m8-6h0m1-3h0m0 6h0m11-10h0m12 0h0m18 5h0m1 10h0m4-10h0m5 2h0m21 10h0m70 1h0m13-1h0m6-4h0m1-3h0m9-7h0m1-2h0m5 13h0m5-12h0m0 3h0m0 9h0m2 0h0m6 3h0m3-15h0m4 4h0m17 4h0m2-11h0m5 2h0m1 7h0m3 8h0m5-6h0m2 2h0m11-3h0m7 4h0m3 0h0m1-6h0m1 0h0m15 4h0m5-10h0m0 13h0m0 4h0m2-14h0m12-2h0m2 14h0m10-12h0m3 12h0m2-11h0m2 10h0m7-1h0m2-2h0m6 0h0m6-6h0m3 9h0m4-7h0m18 0h0m4-3h0m5 12h0m3-14h0m7-4h0m70 14h0m0 5h0m10-17h0m9 0h0m6 16h0m40-8h0m22-4h0m134 11h0m5 2h0m8-5h0m7-2h0m8-2h0m7 1h0m5-10h0m2 2h0m7 2h0m1-1h0m7-2h0m86 9h0m0 1h0m0 5h0m0 4h0m0 5h0m0 7h0m-24-10h0m-56 16h0m-14-3h0m-5 2h0m-30 0h0m-21-18h0m-8 3h0m-5 4h0m-5-6h0m-8 18h0m-19-8h0m-20 5h0m-33-3h0m-33-5h0m-48-4h0m-21 8h0m-39-10h0m-8 2h0m-7 6h0m-1 1h0m-7 0h0m-8 4h0m-6 3h0m-1-13h0m0 12h0m-3-8h0m-3 9h0m-40-13h0m-10 1h0m-1 7h0m-2-9h0m-7 4h0m-7 6h0m-7-1h0m0 5h0m-1-11h0m-3 1h0m-11 2h0m0 3h0m-2-1h0m-6-1h0m-8-5h0m-5 2h0m-2 10h0m-1-18h0m-1 18h0m-6-18h0m0 11h0m-1 0h0m-2-11h0m-8 17h0m-5-14h0m-1-1h0m-1 12h0m-2-1h0m0 5h0m-4-13h0m-2 3h0m0 4h0m-1-12h0m-11 10h0m-13-2h0m-5 4h0m-4-10h0m-5 4h0m0 6h0m-10 2h0m-5-6h0m-12-4h0m0 11h0m-8 4h0m-4-15h0m0 12h0m-5 1h0m-5-12h0m-4 4h0m-2 1h0m-3 4h0m-1-7h0m-7 11h0m-75-15h0m-45-3h0m-7 1h0m-10 0h0m-6-1h0m-25 10h0m-7 8h0m-13-3h0m-211-11h0m-7-4h0m-21 13h0m-9 2h0m-1 3h0m-2-10h0m-1 4h0m-20-1h0m-7-7h0m-23 14h0m-5-12h0m-3 5h0m-4-11h0m0 18h0m-4-7h0m-1-1h0m-4-6h0m-3-1h0m-6-2h0m-7-1h0m0 7h0m-2 12h0m-1-4h0m-4-13h0m0 9h0m-4 6h0m-3-6h0m-4 6h0m-6-8h0m-2-9h0m-1 18h0m-1-16h0m-19 5h0m0 9h0m-2-14h0m-45 4h0m-9 7h0m-9-12h0m-9 24h0m18 1h0m5 7h0m6 6h0m16-2h0m4-2h0m10-1h0m12-13h0m2 10h0m4-8h0m6 16h0m12-18h0m1 1h0m5 9h0m1 5h0m6-6h0m1-4h0m6 1h0m1 11h0m1-17h0m5 9h0m2-5h0m3-4h0m5 18h0m1-11h0m3-4h0m3-4h0m15 0h0m4 1h0m2 6h0m7-4h0m9 6h0m21-8h0m17 6h0m6-5h0m213 9h0m37 7h0m7 0h0m5-7h0m6-5h0m0 13h0m4-2h0m38-15h0m79 13h0m12-1h0m7 1h0m4-9h0m16-5h0m0 12h0m3 3h0m1-6h0m2 9h0m2-4h0m1-10h0m3-4h0m2 8h0m2 9h0m4-5h0m3-8h0m7 7h0m4-10h0m8-1h0m0 2h0m5 16h0m4-7h0m8 0h0m8-4h0m2 2h0m0 2h0m2 4h0m19-8h0m5 10h0m3-16h0m13 12h0m6-11h0m11 2h0m7 12h0m6-17h0m1 15h0m27-11h0m62 5h0m5-1h0m2-2h0m2 12h0m3-12h0m3-3h0m5 0h0m59 14h0m21-11h0m11 6h0m23 3h0m18-5h0m19 7h0m40 0h0m5-3h0m2 0h0m6-4h0m2 1h0m5-3h0m31-2h0m9-6h0m44 12h0m3-11h0m24 12h0m2-3h0m6 0h0m1 2h0m2-5h0m4 1h0m2 2h0m6-5h0m34 11h0m54-7h0m0 2h0m0 8h0m0 5h0m0 4h0m-90 11h0m-6 0h0m-21-19h0m-36 6h0m-19-4h0m-16 16h0m-31-10h0m-6-4h0m-25-3h0m-12 11h0m-14-4h0m-13 7h0m-8 1h0m-17 1h0m-15-17h0m-52 1h0m-8 7h0m-1-5h0m-8 6h0m-3 4h0m-8 0h0m-83-4h0m-24 8h0m-7 2h0m-15-5h0m-1-3h0m-45 7h0m-3-1h0m-3-17h0m-4 7h0m-1 12h0m-10-18h0m-8 2h0m-3 1h0m-3 6h0m-5 9h0m-1-18h0m-3 18h0m-3-9h0m0 1h0m-2-8h0m-2 10h0m-3 3h0m-16-2h0m-5-10h0m-3 0h0m-3 12h0m-4-1h0m-1-1h0m-2-12h0m-2 5h0m-13 1h0m-6 3h0m-1 4h0m-1-12h0m-11 2h0m-3 10h0m-1 4h0m-2-4h0m-1 2h0m-7-9h0m-7-8h0m-5 6h0m-1 12h0m-4-10h0m-4 4h0m-1 2h0m-7 2h0m-1 2h0m-5 0h0m-103-9h0m-3 2h0m-31-1h0m-13-8h0m-6 1h0m-226-2h0m-25 10h0m-2 5h0m-18-15h0m-24 8h0m-1-8h0m-7 9h0m-3-8h0m-3 0h0m0 16h0m-2-7h0m-1-7h0m-3 12h0m-7 3h0m-4-18h0m-10-1h0m0 18h0m-8-4h0m-1-10h0m-8-1h0m-10 4h0m-4 2h0m-2 0h0m-21-4h0m-7-1h0m-31 9h0m36 18h0m27-7h0m10 15h0m7-9h0m9-4h0m0 2h0m6-4h0m1 11h0m2 4h0m1-9h0m8-5h0m1 14h0m8-7h0m9 3h0m181 3h0m108-3h0m6 4h0m2-10h0m141 10h0m13-9h0m1 7h0m2-11h0m8 12h0m1-9h0m0 3h0m10 2h0m4 0h0m13-7h0m3-7h0m12 18h0m1-14h0m2 4h0m6-5h0m2-3h0m0 1h0m3 16h0m4-6h0m7-7h0m10 5h0m1-1h0m5-1h0m16 3h0m2 8h0m1-3h0m8-7h0m9-4h0m1 13h0m7-3h0m1 1h0m16-7h0m7-7h0m21 16h0m12-2h0m9-3h0m6 4h0m6-3h0m2 0h0m1-8h0m4 5h0m9-5h0m6-2h0m10 7h0m3-5h0m42 14h0m45-11h0m27 7h0m43-1h0m1 4h0m6-6h0m1 1h0m7-3h0m28 6h0m7-16h0m7 14h0m45 5h0m15-4h0m21 2h0m5-12h0m3 3h0m5-5h0m7 2h0m90 2h0m4-5h0m4-1h0m57 9h0m16-6h0m25 7h0m0 8h0m-20 10h0m0 1h0m-8-2h0m0 1h0m-7 1h0m0 1h0m-24 5h0m-7 3h0m-96-12h0m-3 7h0m-3-12h0m-8 5h0m-7 3h0m-2-1h0m-6-6h0m-1 8h0m-8 2h0m-9 6h0m-6-16h0m-3 15h0m-27-18h0m-19 2h0m-32 12h0m-8 5h0m-20 0h0m-12-5h0m-7 1h0m-11 0h0m-7-13h0m-1-2h0m-1 16h0m-5-12h0m0 11h0m-28-14h0m-2 13h0m-3-7h0m-4 9h0m-23 1h0m-37-17h0m-11 2h0m-3 0h0m-5 2h0m-3 3h0m-4 1h0m-3 2h0m-5 3h0m-6-12h0m-14-1h0m-12 4h0m-14-2h0m-14-2h0m-8 3h0m-4-2h0m-4 4h0m-8 4h0m-7 2h0m-9 5h0m-2-12h0m0 13h0m-5-11h0m-31-3h0m-1 3h0m-6 2h0m-6-8h0m-6 10h0m-3-6h0m-2 1h0m-2 8h0m-8 3h0m0 1h0m-1-12h0m-2-4h0m0 9h0m-1 3h0m-14 3h0m-3-11h0m-2 14h0m-13-17h0m-1 4h0m0 7h0m-3 2h0m-11-1h0m-4 5h0m-11-18h0m-1 6h0m0 6h0m-1-8h0m-1 6h0m0 8h0m-8-3h0m-4-11h0m-2 8h0m-1-9h0m-1 8h0m-4-8h0m-9-2h0m-1 1h0m-5 15h0m-2-3h0m-1-5h0m-3 5h0m-3-10h0m-3 1h0m0 5h0m-5-11h0m0 12h0m-2 0h0m-5-8h0m-1 4h0m-2 10h0m-6-4h0m-147-7h0m-179 3h0m-82-10h0m-7 2h0m-10 12h0m-1-2h0m-3-5h0m-7 11h0m-1-5h0m-2 3h0m0 3h0m-2-17h0m-3 6h0m-4-8h0m-1 9h0m0 10h0m-6-16h0m0 5h0m-5-3h0m-4 6h0m-4-5h0m-7 3h0m-9-2h0m-3 7h0m-2-13h0m-5 7h0m-38 0h0m-2 6h0m5 11h0m6 9h0m21-11h0m14 5h0m3 1h0m2-5h0m8 1h0m1 3h0m4 4h0m7 5h0m1-16h0m1 5h0m2-3h0m8-3h0m1 17h0m6-15h0m6 7h0m3-9h0m8 2h0m401 9h0m8 5h0m3-3h0m2-7h0m5 9h0m3-10h0m2 7h0m0 5h0m2-13h0m5 3h0m5 7h0m1-3h0m8-11h0m6 11h0m5-5h0m1-3h0m6 11h0m6 2h0m4 3h0m1-2h0m3-14h0m9 2h0m2-3h0m0 14h0m1-9h0m3 4h0m3-10h0m2 17h0m6 0h0m1-12h0m0 6h0m4-1h0m8-8h0m2 6h0m1 3h0m7-12h0m3 19h0m2-13h0m2-3h0m3 7h0m2-6h0m6 2h0m13-2h0m2 6h0m7-7h0m4 3h0m18 11h0m15-15h0m23 10h0m20-10h0m37 10h0m4-6h0m4 3h0m22 3h0m5 4h0m26 1h0m36-14h0m1 7h0m18 7h0m58-2h0m13-5h0m46-9h0m8 0h0m13 18h0m14 0h0m6-11h0m1 1h0m1 9h0m3-14h0m4 8h0m14-3h0m23-7h0m27-1h0m84 15h0m5 0h0m5-5h0m7-1h0m4-2h0m4 1h0m7-2h0m10-5h0m79 18h0m0 11h0m-26-8h0m-69 8h0m-26 7h0m-13-18h0m-6 8h0m-8-6h0m-91 4h0m-52-4h0m-2-2h0m-8 7h0m-7-3h0m-5 1h0m-68-2h0m-31 11h0m-7 0h0m-8 1h0m-8-10h0m0 1h0m-59 3h0m-7 3h0m-20 1h0m-7-7h0m-16 8h0m-1-3h0m-14-10h0m-4 12h0m-4-13h0m-46 9h0m-13 10h0m-23-17h0m-6 1h0m-4 5h0m-34 9h0m-6-11h0m-5 11h0m-6-10h0m-4-4h0m-6 2h0m-2 3h0m-5 1h0m-13-1h0m-1-7h0m-4 4h0m-12 5h0m0 6h0m-4-1h0m-8-7h0m-5-1h0m-7 7h0m-2-7h0m-1 0h0m-2 11h0m-3-3h0m-1-5h0m-4 4h0m-1-12h0m0 2h0m-1 2h0m-13-2h0m-1 2h0m-1 4h0m-1-8h0m-1 10h0m-7-6h0m-3 2h0m-4 11h0m-5-16h0m-1-3h0m-3 19h0m-2-19h0m-6 8h0m-1-1h0m0 11h0m-4-2h0m0 1h0m-3-15h0m-2 17h0m-2-14h0m-3 4h0m-5 6h0m-8-2h0m-378-6h0m-9-1h0m-2 1h0m-2 4h0m-3-11h0m-4 5h0m-1 12h0m-1-13h0m-1 5h0m-4 1h0m-6-4h0m-5-3h0m-2 13h0m-7 2h0m-6-15h0m-4-3h0m-13 4h0m-28-1h0m-3 25h0m12 5h0m8-8h0m2 13h0m15-7h0m3-8h0m10 11h0m13 1h0m2-12h0m5 7h0m1-7h0m4-2h0m3 16h0m364 1h0m19 0h0m4 1h0m5-2h0m2-16h0m0 11h0m6-2h0m1-2h0m2-4h0m5-1h0m3 3h0m1 2h0m1-6h0m2 13h0m5-8h0m0 9h0m1 1h0m8-3h0m1 2h0m7 2h0m4-10h0m1-6h0m3 1h0m5 14h0m4-3h0m0 4h0m5-11h0m2-5h0m0 13h0m5 3h0m5-3h0m5-3h0m0 4h0m2-4h0m2 1h0m5-5h0m3-5h0m7 2h0m4 10h0m1-10h0m12 9h0m5-6h0m13 4h0m3-6h0m19 0h0m13-1h0m11 4h0m28-5h0m13 8h0m3 3h0m6 0h0m2-1h0m50 3h0m29-2h0m3-2h0m4-2h0m8-1h0m33 3h0m32 6h0m7-4h0m43-5h0m6 0h0m18-3h0m16-2h0m164-4h0m74-1h0m100 15h0m14-1h0m18-4h0m4 1h0m16 18h0m-4-5h0m-207 4h0m-13-1h0m-10 1h0m-58 4h0m-87-9h0m-66 6h0m-8 2h0m-4 5h0m-3 2h0m-8-16h0m-16-1h0m-34 0h0m-30 4h0m-12-4h0m-3 17h0m-7-4h0m-30-4h0m-8-1h0m-4 3h0m-51-12h0m-8 5h0m-7 1h0m-3 5h0m-5 1h0m-1-6h0m-2 7h0m-5 1h0m-3-6h0m-4-6h0m-3 14h0m-1-8h0m-78-7h0m-2 16h0m-1-3h0m-9-4h0m-1 3h0m-14-12h0m-1 12h0m-1-7h0m-7 13h0m-3-11h0m-1-3h0m-3 7h0m-2 1h0m-1-6h0m-4 12h0m-1-9h0m-2-6h0m-2 4h0m-5 3h0m-5-2h0m-1 6h0m-4-7h0m-1 5h0m-2-7h0m-3 4h0m-10-9h0m0 17h0m-8-5h0m-2 2h0m-1-7h0m-2 5h0m-6 6h0m-1-5h0m-2-13h0m-1 2h0m-11 6h0m-1 8h0m-2 0h0m-3-3h0m-3 2h0m-7-7h0m-2 5h0m-3 1h0m-344-6h0m-2-8h0m-6 2h0m-3 5h0m0 9h0m-11-16h0m-2 10h0m-2-9h0m-37 8h0m-15-9h0m10 23h0m12 13h0m10-1h0m1-13h0m7 15h0m5-11h0m8-7h0m1 10h0m1-6h0m5 14h0m2-13h0m3-5h0m326 12h0m6-4h0m7 2h0m5 8h0m1-11h0m2 8h0m2-15h0m5 10h0m3-5h0m0 7h0m2-5h0m6-3h0m1 2h0m4 1h0m0 6h0m5-2h0m1 7h0m5-10h0m5-1h0m2-1h0m6 2h0m1 5h0m2-13h0m1 17h0m1-6h0m2-7h0m5 13h0m7-8h0m1 0h0m1 4h0m0 2h0m4-14h0m2 5h0m3-4h0m5 1h0m2 3h0m1 6h0m2-12h0m2 9h0m7-9h0m9 7h0m12 2h0m4-5h0m2-2h0m5 16h0m2-5h0m42-7h0m6-3h0m2 16h0m9-3h0m8-7h0m7-8h0m0 6h0m8 0h0m1-2h0m8-3h0m30-2h0m2 6h0m5 9h0m14-1h0m8-4h0m4 6h0m3-10h0m8-2h0m19 7h0m6 3h0m12-1h0m1 2h0m7 1h0m17-10h0m8 5h0m26 6h0m24 2h0m40-10h0m5-4h0m4 3h0m36 11h0m7 0h0m5-9h0m15-6h0m36 3h0m7-6h0m0 4h0m81 11h0m4 1h0m23-7h0m6 0h0m1-2h0m8 4h0m7-7h0m10 2h0m7-3h0m8 0h0m7 0h0m85 15h0m97-3h0m15-16h0m0 9h0m-84 16h0m-57 3h0m-1-7h0m-32 7h0m-108-8h0m-8 3h0m-25 16h0m-6-19h0m-29 15h0m-22 3h0m-65-14h0m-86 7h0m-62 8h0m-16-10h0m-3-9h0m-13 7h0m-5-3h0m-3 3h0m0 12h0m-17-9h0m-8 6h0m-7 1h0m-8 0h0m-20-10h0m-4 3h0m-51-1h0m-12-8h0m-8 0h0m-3 11h0m-4-7h0m0 1h0m-5-2h0m-1-1h0m-6 7h0m-7 2h0m-1-1h0m-21-10h0m-5 6h0m-2 10h0m-11 0h0m-2-2h0m-3-5h0m-1-10h0m-14 3h0m-27 7h0m-2-8h0m-2 17h0m-1-6h0m-2-6h0m-2-7h0m-2 2h0m-5 8h0m-1 3h0m-1-10h0m-3-3h0m-1 12h0m-4 2h0m-5 4h0m-5-6h0m-2-12h0m0 4h0m-9 11h0m-2-14h0m-1 16h0m-2-17h0m0 3h0m-2 8h0m-4-7h0m0 2h0m-3 10h0m-2-2h0m-2 3h0m-1-10h0m-1 4h0m-1-8h0m-1 5h0m-7 0h0m-1-5h0m0 16h0m-1-2h0m-5-4h0m-6 6h0m-1-11h0m-4 6h0m-322-12h0m0 9h0m-5-7h0m-1 2h0m-7-1h0m-1 9h0m0 3h0m-10-3h0m-7-9h0m0 11h0m-3-10h0m-8 4h0m-6 13h0m5 7h0m2 8h0m12-7h0m6 0h0m5-6h0m2 12h0m2-3h0m2-8h0m0 7h0m2-13h0m5 3h0m1 13h0m4-16h0m2 10h0m284 0h0m11 5h0m20 1h0m3-13h0m3 7h0m4 7h0m1 1h0m2-12h0m4 13h0m1-7h0m3-7h0m2-3h0m4 17h0m1-5h0m6-8h0m1 2h0m6-4h0m1 6h0m3 5h0m2-11h0m1 4h0m1-2h0m4-4h0m10 17h0m8 0h0m1-16h0m6-1h0m4-1h0m3 5h0m2 10h0m7 0h0m5-3h0m4-13h0m2 11h0m5-3h0m0 7h0m3-1h0m1-7h0m5-3h0m11 8h0m4-4h0m1 10h0m4-17h0m3 15h0m12-15h0m18 9h0m17 9h0m2-17h0m4 15h0m1-5h0m1 5h0m4-2h0m4-5h0m4 2h0m3 5h0m2-7h0m2-2h0m6-1h0m2-2h0m28 13h0m4 1h0m7-5h0m1 0h0m6-1h0m1-2h0m2 2h0m5-3h0m2-4h0m12-1h0m39 6h0m2-2h0m6 0h0m7-3h0m4 0h0m7-1h0m49 10h0m13-3h0m8 0h0m7-4h0m20-2h0m18 10h0m44-1h0m1 3h0m29-2h0m9-7h0m2-3h0m5 2h0m30-8h0m15 3h0m26 13h0m20-14h0m7 10h0m57-2h0m47-1h0m45-6h0m-315 25h0m-2-3h0m-5 1h0m-5-6h0m-3 6h0m-7 3h0m-1-9h0m-23 10h0m-20 8h0m-43-15h0m-7-2h0m-39 17h0m-11-14h0m-23 7h0m-25 4h0m-18-5h0m-2-2h0m-1 3h0m-9-5h0m-5-5h0m0 16h0m-28-16h0m-2 14h0m-14 3h0m-8-8h0m-2-5h0m-5 0h0m-8 14h0m-5-14h0m-8 8h0m-34-10h0m-3-3h0m-6 11h0m-10 7h0m-1-13h0m-5 5h0m-2-5h0m-1 9h0m-18-9h0m-7-4h0m-3 8h0m-1-3h0m-9 5h0m-1 8h0m-1-12h0m-6-2h0m-1 8h0m-4-11h0m-2 0h0m0 15h0m-12-4h0m-3-13h0m-3 6h0m-2 3h0m-3 2h0m-4 7h0m-19-13h0m-2 4h0m-5-6h0m-2 15h0m-7-16h0m-1 8h0m-2 5h0m-1-2h0m-2-3h0m-4-7h0m-2 15h0m-7-18h0m-8 1h0m-1 10h0m-5 0h0m-1-5h0m-2-1h0m-5 7h0m-287 1h0m-3-11h0m-3 4h0m0 3h0m-20 26h0m3 2h0m2-12h0m9 1h0m1 10h0m4-12h0m7-2h0m247 17h0m2-9h0m9 3h0m1-9h0m2 13h0m4-5h0m1 6h0m1-18h0m4 11h0m0 2h0m3-6h0m1-5h0m4 8h0m0 8h0m1-5h0m1-2h0m0 3h0m2-13h0m5-1h0m0 5h0m4 1h0m0 9h0m3-7h0m1-6h0m5 11h0m2-10h0m4 16h0m2-5h0m2-13h0m2 3h0m1 1h0m0 8h0m0 4h0m4-14h0m3 15h0m1-10h0m0 6h0m4-6h0m0 3h0m6 1h0m5 5h0m4-1h0m3-8h0m8-7h0m0 4h0m11 6h0m1 7h0m1-8h0m9 4h0m5-8h0m0 5h0m7 1h0m5 0h0m2-4h0m5 5h0m23 2h0m1-2h0m1-4h0m2 8h0m4 1h0m3-2h0m1-15h0m13 11h0m17-10h0m1 14h0m4-7h0m4-9h0m2 13h0m3-1h0m4 3h0m13-3h0m0 2h0m11 5h0m1-6h0m11 4h0m5-3h0m7 1h0m1-7h0m5-3h0m2 6h0m34-8h0m4 14h0m26-3h0m0 3h0m62-11h0m55-1h0m10 0h0m39-3h0m19-2h0m16 1h0m3 3h0m12 6h0m3 1h0m20-6h0m77-5h0m-153 27h0m-10-2h0m-61 10h0m-11-13h0m-31 10h0m-11 1h0m-13-10h0m-86 6h0m-6-7h0m-3 1h0m-8-1h0m-26 1h0m-10-1h0m-5 17h0m-5-17h0m-1 14h0m-3-16h0m-9 18h0m-10-9h0m-2-7h0m0 16h0m-29-6h0m-2-3h0m-8 5h0m-6 4h0m-8-3h0m-1-10h0m-5 2h0m-5 6h0m-11-9h0m-30-2h0m0 12h0m-6-3h0m-5-9h0m0 13h0m-16-3h0m-2-6h0m-1 2h0m-13 9h0m-1-9h0m-6-7h0m-4 14h0m-3-6h0m-1 3h0m-6-11h0m-5 6h0m-1-4h0m-7 0h0m-1 0h0m0 3h0m-5 3h0m-3 2h0m-2 8h0m-1-17h0m-1 0h0m-6 15h0m-1-12h0m-3 7h0m-1 7h0m-5-15h0m0 13h0m-1-13h0m-4 11h0m-2-15h0m-2 12h0m-5 4h0m-1-8h0m-1 3h0m-6-1h0m-9 8h0m-225-13h0m-1 6h0m-3-10h0m-2 15h0m-8 8h0m4 4h0m2-2h0m2 1h0m2 10h0m226-14h0m2 15h0m2-3h0m3-14h0m0 16h0m1-6h0m1-7h0m1 8h0m1-7h0m5 7h0m2-4h0m5-4h0m2 1h0m1 9h0m1 0h0m1-9h0m3-2h0m11 11h0m1-8h0m4 3h0m1 2h0m9 0h0m1-5h0m5 10h0m3-15h0m0 12h0m1-5h0m3 8h0m1-5h0m3 7h0m13-2h0m4-10h0m2 12h0m8-16h0m11 14h0m4 0h0m3-11h0m7 0h0m1 7h0m8-4h0m1-7h0m1 4h0m21 12h0m2-9h0m1 2h0m5 0h0m4-10h0m6 19h0m9-17h0m15 10h0m16-11h0m0 4h0m16 7h0m1 5h0m2-7h0m6 8h0m17-13h0m3 5h0m2-8h0m0 6h0m6-8h0m1 11h0m5-5h0m5-1h0m2 6h0m3-6h0m1-5h0m3 2h0m5-1h0m3 3h0m0 3h0m59-4h0m1 6h0m40 0h0m46-1h0m-32 12h0m-51 11h0m-25-1h0m-4-7h0m-63 8h0m-11 7h0m-9-7h0m-13 4h0m-28 4h0m-8-7h0m-6 3h0m-8-10h0m-16-5h0m-11 4h0m-2 3h0m-8-5h0m-1 12h0m-2-2h0m-2-2h0m-15 4h0m-2-8h0m0 10h0m-1-16h0m-4 9h0m-4-2h0m-2-3h0m-1 5h0m-6-2h0m-1 4h0m-1 0h0m-4-7h0m0 13h0m-4-16h0m-2 5h0m-9 6h0m-2 4h0m-4-10h0m0 4h0m0 5h0m-1-15h0m-4 4h0m-1 14h0m-2-5h0m-4 4h0m-3-9h0m-4 0h0m-6-8h0m-1 16h0m-1-13h0m-1 10h0m-7-1h0m-2-12h0m-1 9h0m-7-9h0m-3 0h0m-3 18h0m-1-17h0m-3-1h0m-5 10h0m-1 2h0m-4 7h0m-8-2h0m-2-9h0m-6 10h0m-5-18h0m-1 9h0m-4 4h0m0 4h0m-7-3h0m-8-3h0m-14 8h0m-7 0h0m-189-17h0m0 5h0m-3 5h0m1 18h0m0 6h0m1-13h0m0 15h0m177-1h0m3-7h0m6 0h0m1 9h0m1-17h0m7 8h0m3-5h0m1 7h0m3-4h0m5-8h0m2 1h0m4 7h0m2 3h0m4-3h0m6-8h0m3 17h0m2-11h0m0 6h0m4-7h0m3-5h0m4 14h0m3-8h0m0 3h0m1-5h0m3 11h0m2-10h0m5-4h0m0 12h0m9 6h0m4-4h0m2-2h0m6-2h0m4 3h0m1-10h0m1 14h0m8-10h0m8-3h0m3 3h0m10 4h0m9-7h0m1 8h0m1 0h0m3-6h0m5-2h0m0 4h0m0 4h0m7 2h0m12-8h0m10-7h0m3 2h0m1 8h0m3-2h0m8-7h0m3 17h0m5-10h0m54 8h0m14-11h0m3-2h0m28 1h0m30-4h0m6 7h0m-117 13h0m-8 4h0m-27 0h0m-8 8h0m-82-12h0m-3 1h0m-7 4h0m-9 6h0m-2-1h0m-3-7h0m0 9h0m-3-12h0m-10 12h0m-4-11h0m-1 14h0m-2-3h0m-4 2h0m-4-13h0m-2 4h0m-4-4h0m-3 8h0m-8-4h0m-1 5h0m-2-10h0m0 10h0m-4 9h0m-4-16h0m-1 11h0m-13 5h0m-5-14h0m-5 10h0m-6 3h0m-165-12h0m-3 2h0m0 4h0m0 8h0m0 19h0m148-5h0m1-10h0m7 9h0m9 6h0m8-12h0m3-1h0m2 13h0m6-5h0m2-4h0m3-10h0m0 1h0m0 7h0m1 0h0m1 8h0m3-11h0m5 0h0m7 1h0m3-2h0m4-3h0m10 4h0m4-5h0m10 2h0m-65 21h0m-4-1h0m-11-2h0m0 1h0m-7 7h0m-5-5h0m-1 4h0m-8 6h0m-7 2h0m-1-7h0m-9 5h0m-9 5h0m-110-13h0m0 16h0m33 18h0m3-1h0m6 0h0m4-1h0m2-1h0m5-4h0m5 3h0m4-2h0m12-1h0m6-2h0m10-3h0m9-5h0m7-1h0m10 0h0m2 0h0m-93 19h0m-3 1h0m-15 1h0m-3 1h0m-4-3h0m0 3h0" fill="none" stroke="#8c8c8c" stroke-width="9.8" stroke-linecap="round"/></g>
<path d="M218.3 1263.0L1571.8 23.5" stroke="#000" stroke-width="10.5" fill="none"/>
<path d="M218.3 1194.8L1571.8 189.6" stroke="#000" stroke-width="8.3" stroke-dasharray="11 5.5" fill="none"/>
<rect x="216" y="22" width="4" height="1243" fill="#231815"/>
<rect x="216" y="1261" width="1356" height="4" fill="#231815"/>
<rect x="220" y="1137.1" width="16" height="4" fill="#231815"/>
<rect x="351.2" y="1248" width="4" height="14" fill="#231815"/>
<rect x="220" y="1013.2" width="16" height="4" fill="#231815"/>
<rect x="486.4" y="1248" width="4" height="14" fill="#231815"/>
<rect x="220" y="889.3" width="16" height="4" fill="#231815"/>
<rect x="621.6" y="1248" width="4" height="14" fill="#231815"/>
<rect x="220" y="765.4" width="16" height="4" fill="#231815"/>
<rect x="756.8" y="1248" width="4" height="14" fill="#231815"/>
<rect x="220" y="641.5" width="16" height="4" fill="#231815"/>
<rect x="892.0" y="1248" width="4" height="14" fill="#231815"/>
<rect x="220" y="517.6" width="16" height="4" fill="#231815"/>
<rect x="1027.2" y="1248" width="4" height="14" fill="#231815"/>
<rect x="220" y="393.7" width="16" height="4" fill="#231815"/>
<rect x="1162.4" y="1248" width="4" height="14" fill="#231815"/>
<rect x="220" y="269.8" width="16" height="4" fill="#231815"/>
<rect x="1297.6" y="1248" width="4" height="14" fill="#231815"/>
<rect x="220" y="145.9" width="16" height="4" fill="#231815"/>
<rect x="1432.8" y="1248" width="4" height="14" fill="#231815"/>
<rect x="220" y="22.0" width="16" height="4" fill="#231815"/>
<rect x="1568.0" y="1248" width="4" height="14" fill="#231815"/>
<text transform="translate(187.5 1287.5) scale(0.95 1)" text-anchor="end" font-size="66">0</text>
<text transform="translate(215.1 1350.5) scale(0.95 1)" text-anchor="middle" font-size="66">0</text>
<text transform="translate(187.5 1163.6) scale(0.95 1)" text-anchor="end" font-size="66">10</text>
<text transform="translate(351.2 1350.5) scale(0.95 1)" text-anchor="middle" font-size="66">10</text>
<text transform="translate(187.5 1039.7) scale(0.95 1)" text-anchor="end" font-size="66">20</text>
<text transform="translate(487.9 1350.5) scale(0.95 1)" text-anchor="middle" font-size="66">20</text>
<text transform="translate(187.5 915.8) scale(0.95 1)" text-anchor="end" font-size="66">30</text>
<text transform="translate(619.8 1350.5) scale(0.95 1)" text-anchor="middle" font-size="66">30</text>
<text transform="translate(187.5 791.9) scale(0.95 1)" text-anchor="end" font-size="66">40</text>
<text transform="translate(753.3 1350.5) scale(0.95 1)" text-anchor="middle" font-size="66">40</text>
<text transform="translate(187.5 668.0) scale(0.95 1)" text-anchor="end" font-size="66">50</text>
<text transform="translate(891.8 1350.5) scale(0.95 1)" text-anchor="middle" font-size="66">50</text>
<text transform="translate(187.5 544.1) scale(0.95 1)" text-anchor="end" font-size="66">60</text>
<text transform="translate(1025.0 1350.5) scale(0.95 1)" text-anchor="middle" font-size="66">60</text>
<text transform="translate(187.5 420.2) scale(0.95 1)" text-anchor="end" font-size="66">70</text>
<text transform="translate(1157.7 1350.5) scale(0.95 1)" text-anchor="middle" font-size="66">70</text>
<text transform="translate(187.5 296.3) scale(0.95 1)" text-anchor="end" font-size="66">80</text>
<text transform="translate(1295.6 1350.5) scale(0.95 1)" text-anchor="middle" font-size="66">80</text>
<text transform="translate(187.5 172.4) scale(0.95 1)" text-anchor="end" font-size="66">90</text>
<text transform="translate(1431.8 1350.5) scale(0.95 1)" text-anchor="middle" font-size="66">90</text>
<text transform="translate(187.5 43.5) scale(0.95 1)" text-anchor="end" font-size="66">100</text>
<text transform="translate(1570.1 1350.5) scale(0.95 1)" text-anchor="middle" font-size="66">100</text>
<text x="728.5" y="1451" font-size="62.5" text-anchor="start">重建结果</text>
<text transform="translate(980.5 1449) scale(0.95 1)" text-anchor="start" font-size="66">/%</text>
<text transform="translate(55 806) rotate(-90)" font-size="62.5" text-anchor="start">遥感数据</text>
<text transform="translate(53 553) rotate(-90) scale(0.95 1)" text-anchor="start" font-size="66">/%</text>
<rect x="1030" y="1086" width="222.5" height="11" fill="#000"/>
<path d="M1034 1171.5H1252.5" stroke="#000" stroke-width="11" stroke-dasharray="8.6 5.05" fill="none"/>
<text y="1113.7" font-size="62" font-style="italic"><tspan x="1273.7">"</tspan><tspan x="1298.5">y</tspan><tspan x="1322.5">=</tspan><tspan x="1363">x</tspan><tspan x="1392">"</tspan></text>
<text x="1430" y="1116" font-size="62.5" text-anchor="start">线</text>
<text x="1273.3" y="1196.5" font-size="62.5" text-anchor="start">拟合线</text>
<rect x="1959.1" y="1286.2" width="41.9" height="0.8" fill="#666666"/>
<rect x="2001.1" y="1285.7" width="41.9" height="1.3" fill="#666666"/>
<rect x="2043.0" y="1285.3" width="41.9" height="1.7" fill="#666666"/>
<rect x="2084.9" y="1284.9" width="41.9" height="2.1" fill="#666666"/>
<rect x="2126.8" y="1284.5" width="41.9" height="2.5" fill="#666666"/>
<rect x="2168.8" y="1282.8" width="41.9" height="4.2" fill="#666666"/>
<rect x="2210.7" y="1281.6" width="41.9" height="5.4" fill="#666666"/>
<rect x="2252.6" y="1277.8" width="41.9" height="9.2" fill="#666666"/>
<rect x="2294.5" y="1272.8" width="41.9" height="14.2" fill="#666666"/>
<rect x="2336.4" y="1261.9" width="41.9" height="25.1" fill="#666666"/>
<rect x="2378.4" y="1232.6" width="41.9" height="54.4" fill="#666666"/>
<rect x="2420.3" y="1177.4" width="41.9" height="109.6" fill="#666666"/>
<rect x="2462.2" y="1080.4" width="41.9" height="206.6" fill="#666666"/>
<rect x="2504.2" y="882.1" width="41.9" height="404.9" fill="#666666"/>
<rect x="2546.1" y="53.0" width="41.9" height="1234.0" fill="#666666"/>
<rect x="2588.0" y="157.6" width="41.9" height="1129.4" fill="#666666"/>
<rect x="2629.9" y="987.9" width="41.9" height="299.1" fill="#666666"/>
<rect x="2671.8" y="1061.5" width="41.9" height="225.5" fill="#666666"/>
<rect x="2713.8" y="1111.3" width="41.9" height="175.7" fill="#666666"/>
<rect x="2755.7" y="1175.7" width="41.9" height="111.3" fill="#666666"/>
<rect x="2797.6" y="1228.4" width="41.9" height="58.6" fill="#666666"/>
<rect x="2839.6" y="1267.3" width="41.9" height="19.7" fill="#666666"/>
<rect x="2881.5" y="1274.0" width="41.9" height="13.0" fill="#666666"/>
<rect x="2923.4" y="1272.8" width="41.9" height="14.2" fill="#666666"/>
<rect x="2965.3" y="1275.7" width="41.9" height="11.3" fill="#666666"/>
<rect x="3007.2" y="1281.1" width="41.9" height="5.9" fill="#666666"/>
<rect x="3049.2" y="1283.7" width="41.9" height="3.3" fill="#666666"/>
<rect x="3091.1" y="1284.9" width="41.9" height="2.1" fill="#666666"/>
<rect x="3133.0" y="1284.9" width="41.9" height="2.1" fill="#666666"/>
<rect x="3174.9" y="1286.2" width="41.9" height="0.8" fill="#666666"/>
<rect x="2293.7" y="1272.8" width="1.6" height="20.7" fill="#3c3c3c"/>
<rect x="2335.6" y="1261.9" width="1.6" height="31.6" fill="#3c3c3c"/>
<rect x="2377.6" y="1232.6" width="1.6" height="60.9" fill="#3c3c3c"/>
<rect x="2419.5" y="1177.4" width="1.6" height="116.1" fill="#3c3c3c"/>
<rect x="2461.4" y="1080.4" width="1.6" height="213.1" fill="#3c3c3c"/>
<rect x="2503.3" y="882.1" width="1.6" height="411.4" fill="#3c3c3c"/>
<rect x="2545.3" y="53.0" width="1.6" height="1240.5" fill="#3c3c3c"/>
<rect x="2586.6" y="53.0" width="2.8" height="1234.0" fill="#0a0a0a"/>
<rect x="2629.1" y="157.6" width="1.6" height="1135.9" fill="#3c3c3c"/>
<rect x="2671.0" y="987.9" width="1.6" height="305.6" fill="#3c3c3c"/>
<rect x="2713.0" y="1061.5" width="1.6" height="232.0" fill="#3c3c3c"/>
<rect x="2754.9" y="1111.3" width="1.6" height="182.2" fill="#3c3c3c"/>
<rect x="2796.8" y="1175.7" width="1.6" height="117.8" fill="#3c3c3c"/>
<rect x="2838.8" y="1228.4" width="1.6" height="65.1" fill="#3c3c3c"/>
<rect x="2880.7" y="1267.3" width="1.6" height="26.2" fill="#3c3c3c"/>
<rect x="2922.6" y="1272.8" width="1.6" height="20.7" fill="#3c3c3c"/>
<rect x="2964.5" y="1272.8" width="1.6" height="20.7" fill="#3c3c3c"/>
<rect x="3006.4" y="1275.7" width="1.6" height="17.8" fill="#3c3c3c"/>
<path d="M1875.3 1286.5 L1879.5 1286.5 L1883.7 1286.5 L1887.9 1286.5 L1892.0 1286.5 L1896.2 1286.5 L1900.4 1286.5 L1904.6 1286.5 L1908.8 1286.5 L1913.0 1286.5 L1917.2 1286.5 L1921.4 1286.5 L1925.6 1286.5 L1929.8 1286.5 L1934.0 1286.5 L1938.2 1286.5 L1942.4 1286.5 L1946.5 1286.5 L1950.7 1286.5 L1954.9 1286.5 L1959.1 1286.5 L1963.3 1286.5 L1967.5 1286.5 L1971.7 1286.5 L1975.9 1286.5 L1980.1 1286.5 L1984.3 1286.5 L1988.5 1286.5 L1992.7 1286.5 L1996.9 1286.5 L2001.1 1286.5 L2005.2 1286.5 L2009.4 1286.5 L2013.6 1286.5 L2017.8 1286.5 L2022.0 1286.5 L2026.2 1286.5 L2030.4 1286.5 L2034.6 1286.5 L2038.8 1286.5 L2043.0 1286.5 L2047.2 1286.5 L2051.4 1286.5 L2055.6 1286.5 L2059.7 1286.5 L2063.9 1286.5 L2068.1 1286.5 L2072.3 1286.5 L2076.5 1286.5 L2080.7 1286.5 L2084.9 1286.5 L2089.1 1286.5 L2093.3 1286.5 L2097.5 1286.5 L2101.7 1286.5 L2105.9 1286.5 L2110.1 1286.5 L2114.2 1286.5 L2118.4 1286.5 L2122.6 1286.5 L2126.8 1286.5 L2131.0 1286.5 L2135.2 1286.5 L2139.4 1286.4 L2143.6 1286.4 L2147.8 1286.4 L2152.0 1286.4 L2156.2 1286.4 L2160.4 1286.4 L2164.6 1286.4 L2168.8 1286.3 L2172.9 1286.3 L2177.1 1286.3 L2181.3 1286.2 L2185.5 1286.2 L2189.7 1286.1 L2193.9 1286.1 L2198.1 1286.0 L2202.3 1285.9 L2206.5 1285.8 L2210.7 1285.7 L2214.9 1285.6 L2219.1 1285.4 L2223.3 1285.2 L2227.4 1285.1 L2231.6 1284.8 L2235.8 1284.6 L2240.0 1284.3 L2244.2 1284.0 L2248.4 1283.6 L2252.6 1283.2 L2256.8 1282.8 L2261.0 1282.3 L2265.2 1281.7 L2269.4 1281.1 L2273.6 1280.4 L2277.8 1279.6 L2281.9 1278.7 L2286.1 1277.7 L2290.3 1276.6 L2294.5 1275.4 L2298.7 1274.1 L2302.9 1272.6 L2307.1 1271.0 L2311.3 1269.2 L2315.5 1267.2 L2319.7 1265.1 L2323.9 1262.7 L2328.1 1260.2 L2332.3 1257.4 L2336.4 1254.3 L2340.6 1251.0 L2344.8 1247.5 L2349.0 1243.6 L2353.2 1239.4 L2357.4 1234.9 L2361.6 1230.1 L2365.8 1224.9 L2370.0 1219.3 L2374.2 1213.3 L2378.4 1207.0 L2382.6 1200.2 L2386.8 1193.0 L2391.0 1185.3 L2395.1 1177.3 L2399.3 1168.7 L2403.5 1159.7 L2407.7 1150.2 L2411.9 1140.2 L2416.1 1129.8 L2420.3 1118.9 L2424.5 1107.5 L2428.7 1095.6 L2432.9 1083.3 L2437.1 1070.5 L2441.3 1057.3 L2445.5 1043.7 L2449.6 1029.7 L2453.8 1015.3 L2458.0 1000.5 L2462.2 985.4 L2466.4 970.1 L2470.6 954.5 L2474.8 938.6 L2479.0 922.6 L2483.2 906.5 L2487.4 890.3 L2491.6 874.1 L2495.8 857.9 L2500.0 841.7 L2504.2 825.7 L2508.3 809.9 L2512.5 794.3 L2516.7 779.0 L2520.9 764.1 L2525.1 749.6 L2529.3 735.6 L2533.5 722.2 L2537.7 709.3 L2541.9 697.0 L2546.1 685.5 L2550.3 674.8 L2554.5 664.8 L2558.7 655.7 L2562.8 647.4 L2567.0 640.1 L2571.2 633.8 L2575.4 628.5 L2579.6 624.1 L2583.8 620.8 L2588.0 618.6 L2592.2 617.4 L2596.4 617.3 L2600.6 618.3 L2604.8 620.3 L2609.0 623.4 L2613.2 627.5 L2617.3 632.7 L2621.5 638.8 L2625.7 645.9 L2629.9 654.0 L2634.1 662.9 L2638.3 672.7 L2642.5 683.3 L2646.7 694.7 L2650.9 706.8 L2655.1 719.5 L2659.3 732.9 L2663.5 746.8 L2667.7 761.2 L2671.8 776.0 L2676.0 791.2 L2680.2 806.7 L2684.4 822.5 L2688.6 838.5 L2692.8 854.6 L2697.0 870.8 L2701.2 887.1 L2705.4 903.3 L2709.6 919.4 L2713.8 935.4 L2718.0 951.3 L2722.2 967.0 L2726.4 982.4 L2730.5 997.5 L2734.7 1012.3 L2738.9 1026.8 L2743.1 1040.9 L2747.3 1054.6 L2751.5 1067.9 L2755.7 1080.8 L2759.9 1093.2 L2764.1 1105.1 L2768.3 1116.6 L2772.5 1127.6 L2776.7 1138.2 L2780.9 1148.2 L2785.0 1157.8 L2789.2 1166.9 L2793.4 1175.6 L2797.6 1183.8 L2801.8 1191.5 L2806.0 1198.8 L2810.2 1205.6 L2814.4 1212.1 L2818.6 1218.1 L2822.8 1223.8 L2827.0 1229.1 L2831.2 1234.0 L2835.4 1238.5 L2839.6 1242.8 L2843.7 1246.7 L2847.9 1250.4 L2852.1 1253.7 L2856.3 1256.8 L2860.5 1259.6 L2864.7 1262.3 L2868.9 1264.6 L2873.1 1266.8 L2877.3 1268.8 L2881.5 1270.6 L2885.7 1272.3 L2889.9 1273.8 L2894.1 1275.2 L2898.2 1276.4 L2902.4 1277.5 L2906.6 1278.5 L2910.8 1279.4 L2915.0 1280.2 L2919.2 1281.0 L2923.4 1281.6 L2927.6 1282.2 L2931.8 1282.7 L2936.0 1283.2 L2940.2 1283.6 L2944.4 1283.9 L2948.6 1284.3 L2952.7 1284.5 L2956.9 1284.8 L2961.1 1285.0 L2965.3 1285.2 L2969.5 1285.4 L2973.7 1285.5 L2977.9 1285.7 L2982.1 1285.8 L2986.3 1285.9 L2990.5 1286.0 L2994.7 1286.0 L2998.9 1286.1 L3003.1 1286.2 L3007.2 1286.2 L3011.4 1286.3 L3015.6 1286.3 L3019.8 1286.3 L3024.0 1286.3 L3028.2 1286.4 L3032.4 1286.4 L3036.6 1286.4 L3040.8 1286.4 L3045.0 1286.4 L3049.2 1286.4 L3053.4 1286.5 L3057.6 1286.5 L3061.8 1286.5 L3065.9 1286.5 L3070.1 1286.5 L3074.3 1286.5 L3078.5 1286.5 L3082.7 1286.5 L3086.9 1286.5 L3091.1 1286.5 L3095.3 1286.5 L3099.5 1286.5 L3103.7 1286.5 L3107.9 1286.5 L3112.1 1286.5 L3116.3 1286.5 L3120.4 1286.5 L3124.6 1286.5 L3128.8 1286.5 L3133.0 1286.5 L3137.2 1286.5 L3141.4 1286.5 L3145.6 1286.5 L3149.8 1286.5 L3154.0 1286.5 L3158.2 1286.5 L3162.4 1286.5 L3166.6 1286.5 L3170.8 1286.5 L3174.9 1286.5 L3179.1 1286.5 L3183.3 1286.5 L3187.5 1286.5 L3191.7 1286.5 L3195.9 1286.5 L3200.1 1286.5 L3204.3 1286.5 L3208.5 1286.5 L3212.7 1286.5 L3216.9 1286.5 L3221.1 1286.5 L3225.3 1286.5 L3229.5 1286.5 L3233.6 1286.5 L3237.8 1286.5 L3242.0 1286.5 L3246.2 1286.5 L3250.4 1286.5 L3254.6 1286.5 L3258.8 1286.5 L3263.0 1286.5 L3267.2 1286.5 L3271.4 1286.5 L3275.6 1286.5 L3279.8 1286.5 L3284.0 1286.5 L3288.1 1286.5 L3292.3 1286.5 L3296.5 1286.5 L3300.7 1286.5" stroke="#000" stroke-width="4.2" fill="none" stroke-linejoin="round"/>
<rect x="1870" y="30" width="4" height="1259" fill="#231815"/>
<rect x="1870" y="1285" width="1433" height="4.5" fill="#231815"/>
<rect x="1842" y="1284.9" width="28" height="4" fill="#231815"/>
<text transform="translate(1831.5 1311.2) scale(0.95 1)" text-anchor="end" font-size="66">0</text>
<rect x="1842" y="1077" width="28" height="4" fill="#231815"/>
<text transform="translate(1831.5 1103.5) scale(0.95 1)" text-anchor="end" font-size="66">5</text>
<rect x="1842" y="869.1" width="28" height="4" fill="#231815"/>
<text transform="translate(1831.5 900) scale(0.95 1)" text-anchor="end" font-size="66">10</text>
<rect x="1842" y="657" width="28" height="4" fill="#231815"/>
<text transform="translate(1831.5 692.7) scale(0.95 1)" text-anchor="end" font-size="66">15</text>
<rect x="1842" y="449.8" width="28" height="4" fill="#231815"/>
<text transform="translate(1831.5 476) scale(0.95 1)" text-anchor="end" font-size="66">20</text>
<rect x="1842" y="237.9" width="28" height="4" fill="#231815"/>
<text transform="translate(1831.5 266.8) scale(0.95 1)" text-anchor="end" font-size="66">25</text>
<rect x="1842" y="30" width="28" height="4" fill="#231815"/>
<text transform="translate(1831.5 61.5) scale(0.95 1)" text-anchor="end" font-size="66">30</text>
<rect x="1915.2" y="1289" width="4" height="32" fill="#231815"/>
<text transform="translate(1917.7 1373.5) scale(0.95 1)" text-anchor="middle" font-size="66">80</text>
<rect x="1852.7" y="1358" width="32" height="5" fill="#231815"/>
<rect x="2082.9" y="1289" width="4" height="32" fill="#231815"/>
<text transform="translate(2087.9 1373.5) scale(0.95 1)" text-anchor="middle" font-size="66">60</text>
<rect x="2024.4" y="1358" width="32" height="5" fill="#231815"/>
<rect x="2250.6" y="1289" width="4" height="32" fill="#231815"/>
<text transform="translate(2257.6 1373.5) scale(0.95 1)" text-anchor="middle" font-size="66">40</text>
<rect x="2194.1" y="1358" width="32" height="5" fill="#231815"/>
<rect x="2418.3" y="1289" width="4" height="32" fill="#231815"/>
<text transform="translate(2423.3 1373.5) scale(0.95 1)" text-anchor="middle" font-size="66">20</text>
<rect x="2359.8" y="1358" width="32" height="5" fill="#231815"/>
<rect x="2586.0" y="1289" width="4" height="32" fill="#231815"/>
<text transform="translate(2586.5 1373.5) scale(0.95 1)" text-anchor="middle" font-size="66">0</text>
<rect x="2753.7" y="1289" width="4" height="32" fill="#231815"/>
<text transform="translate(2754.2 1373.5) scale(0.95 1)" text-anchor="middle" font-size="66">20</text>
<rect x="2921.4" y="1289" width="4" height="32" fill="#231815"/>
<text transform="translate(2921.9 1373.5) scale(0.95 1)" text-anchor="middle" font-size="66">40</text>
<rect x="3089.1" y="1289" width="4" height="32" fill="#231815"/>
<text transform="translate(3089.6 1373.5) scale(0.95 1)" text-anchor="middle" font-size="66">60</text>
<rect x="3256.8" y="1289" width="4" height="32" fill="#231815"/>
<text transform="translate(3254.8 1373.5) scale(0.95 1)" text-anchor="middle" font-size="66">80</text>
<text x="2434.9" y="1463.5" font-size="62.5" text-anchor="start">绝对差异</text>
<text transform="translate(2686.5 1462.5) scale(0.95 1)" text-anchor="start" font-size="66">/%</text>
<text transform="translate(1728 897.4) rotate(-90)" font-size="62.5" text-anchor="start">网格数量占比</text>
<text transform="translate(1726 520) rotate(-90) scale(0.95 1)" text-anchor="start" font-size="66">/%</text>
</svg>
</body></html>
